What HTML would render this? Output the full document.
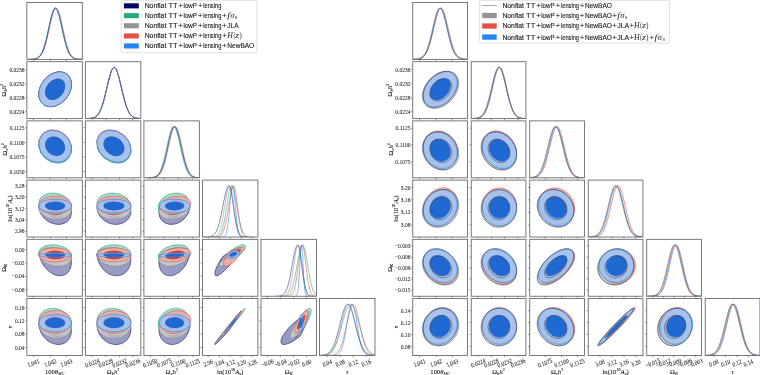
<!DOCTYPE html>
<html><head><meta charset="utf-8"><style>
html,body{margin:0;padding:0;background:#fff;width:760px;height:375px;overflow:hidden}
svg{display:block;will-change:transform}
.tk{font-family:"Liberation Serif",serif;font-size:5.5px;fill:#262626;stroke:#262626;stroke-width:0.06px}
.ax{font-family:"Liberation Serif",serif;font-size:6.6px;fill:#1a1a1a;stroke:#1a1a1a;stroke-width:0.1px}
.lg{font-family:"Liberation Sans",sans-serif;font-size:6.8px;fill:#1a1a1a;stroke:#1a1a1a;stroke-width:0.12px}
.pl{font-family:"Liberation Sans",sans-serif;font-size:7.4px;fill:#1a1a1a}
.mr{font-family:"Liberation Serif",serif;font-size:8px;fill:#1a1a1a}
.sb{font-family:"Liberation Serif",serif;font-size:5px;fill:#1a1a1a}
.mi{font-family:"Liberation Serif",serif;font-style:italic;font-size:8px;fill:#1a1a1a}
</style></head><body>
<svg width="760" height="375" viewBox="0 0 760 375">
<rect width="760" height="375" fill="#fff"/>
<clipPath id="cL10"><rect x="26.86" y="61.67" width="55.45" height="56.93"/></clipPath>
<g clip-path="url(#cL10)">
<g transform="translate(55.14,89.28) rotate(128.3)"><path d="M19.13,0A19.13,14.24 0 1 0 -19.13,0A19.13,14.24 0 1 0 19.13,0ZM11.80,0A11.80,8.78 0 1 0 -11.80,0A11.80,8.78 0 1 0 11.80,0Z" fill="#999cc2" fill-rule="evenodd" fill-opacity="1.0"/><ellipse rx="11.80" ry="8.78" fill="#000866" fill-opacity="1.0"/><ellipse rx="19.13" ry="14.24" fill="none" stroke="#000866" stroke-opacity="1.0" stroke-width="0.55"/></g>
<g transform="translate(55.14,89.28) rotate(128.3)"><path d="M19.13,0A19.13,14.24 0 1 0 -19.13,0A19.13,14.24 0 1 0 19.13,0ZM11.80,0A11.80,8.78 0 1 0 -11.80,0A11.80,8.78 0 1 0 11.80,0Z" fill="#99d6c2" fill-rule="evenodd" fill-opacity="0.85"/><ellipse rx="11.80" ry="8.78" fill="#009966" fill-opacity="0.85"/><ellipse rx="19.13" ry="14.24" fill="none" stroke="#009966" stroke-opacity="0.85" stroke-width="0.55"/></g>
<g transform="translate(55.14,89.28) rotate(128.3)"><path d="M19.13,0A19.13,14.24 0 1 0 -19.13,0A19.13,14.24 0 1 0 19.13,0ZM11.80,0A11.80,8.78 0 1 0 -11.80,0A11.80,8.78 0 1 0 11.80,0Z" fill="#cccccc" fill-rule="evenodd" fill-opacity="0.85"/><ellipse rx="11.80" ry="8.78" fill="#808080" fill-opacity="0.85"/><ellipse rx="19.13" ry="14.24" fill="none" stroke="#808080" stroke-opacity="0.85" stroke-width="0.55"/></g>
<g transform="translate(55.14,89.28) rotate(128.3)"><path d="M19.13,0A19.13,14.24 0 1 0 -19.13,0A19.13,14.24 0 1 0 19.13,0ZM11.80,0A11.80,8.78 0 1 0 -11.80,0A11.80,8.78 0 1 0 11.80,0Z" fill="#f3aea7" fill-rule="evenodd" fill-opacity="0.85"/><ellipse rx="11.80" ry="8.78" fill="#e03424" fill-opacity="0.85"/><ellipse rx="19.13" ry="14.24" fill="none" stroke="#e03424" stroke-opacity="0.85" stroke-width="0.55"/></g>
<g transform="translate(55.14,89.28) rotate(128.3)"><path d="M19.13,0A19.13,14.24 0 1 0 -19.13,0A19.13,14.24 0 1 0 19.13,0ZM11.80,0A11.80,8.78 0 1 0 -11.80,0A11.80,8.78 0 1 0 11.80,0Z" fill="#99c5f8" fill-rule="evenodd" fill-opacity="0.85"/><ellipse rx="11.80" ry="8.78" fill="#006fed" fill-opacity="0.85"/><ellipse rx="19.13" ry="14.24" fill="none" stroke="#006fed" stroke-opacity="0.85" stroke-width="0.55"/></g>
</g>
<clipPath id="cL20"><rect x="26.86" y="120.89" width="55.45" height="56.93"/></clipPath>
<g clip-path="url(#cL20)">
<g transform="translate(55.14,146.51) rotate(-139.7)"><path d="M17.27,0A17.27,14.81 0 1 0 -17.27,0A17.27,14.81 0 1 0 17.27,0ZM10.65,0A10.65,9.14 0 1 0 -10.65,0A10.65,9.14 0 1 0 10.65,0Z" fill="#999cc2" fill-rule="evenodd" fill-opacity="1.0"/><ellipse rx="10.65" ry="9.14" fill="#000866" fill-opacity="1.0"/><ellipse rx="17.27" ry="14.81" fill="none" stroke="#000866" stroke-opacity="1.0" stroke-width="0.55"/></g>
<g transform="translate(55.14,147.36) rotate(-139.7)"><path d="M17.27,0A17.27,14.81 0 1 0 -17.27,0A17.27,14.81 0 1 0 17.27,0ZM10.65,0A10.65,9.14 0 1 0 -10.65,0A10.65,9.14 0 1 0 10.65,0Z" fill="#99d6c2" fill-rule="evenodd" fill-opacity="0.85"/><ellipse rx="10.65" ry="9.14" fill="#009966" fill-opacity="0.85"/><ellipse rx="17.27" ry="14.81" fill="none" stroke="#009966" stroke-opacity="0.85" stroke-width="0.55"/></g>
<g transform="translate(55.14,146.51) rotate(-139.7)"><path d="M17.27,0A17.27,14.81 0 1 0 -17.27,0A17.27,14.81 0 1 0 17.27,0ZM10.65,0A10.65,9.14 0 1 0 -10.65,0A10.65,9.14 0 1 0 10.65,0Z" fill="#cccccc" fill-rule="evenodd" fill-opacity="0.85"/><ellipse rx="10.65" ry="9.14" fill="#808080" fill-opacity="0.85"/><ellipse rx="17.27" ry="14.81" fill="none" stroke="#808080" stroke-opacity="0.85" stroke-width="0.55"/></g>
<g transform="translate(55.14,145.65) rotate(-139.7)"><path d="M17.27,0A17.27,14.81 0 1 0 -17.27,0A17.27,14.81 0 1 0 17.27,0ZM10.65,0A10.65,9.14 0 1 0 -10.65,0A10.65,9.14 0 1 0 10.65,0Z" fill="#f3aea7" fill-rule="evenodd" fill-opacity="0.85"/><ellipse rx="10.65" ry="9.14" fill="#e03424" fill-opacity="0.85"/><ellipse rx="17.27" ry="14.81" fill="none" stroke="#e03424" stroke-opacity="0.85" stroke-width="0.55"/></g>
<g transform="translate(55.14,146.34) rotate(-139.7)"><path d="M17.27,0A17.27,14.81 0 1 0 -17.27,0A17.27,14.81 0 1 0 17.27,0ZM10.65,0A10.65,9.14 0 1 0 -10.65,0A10.65,9.14 0 1 0 10.65,0Z" fill="#99c5f8" fill-rule="evenodd" fill-opacity="0.85"/><ellipse rx="10.65" ry="9.14" fill="#006fed" fill-opacity="0.85"/><ellipse rx="17.27" ry="14.81" fill="none" stroke="#006fed" stroke-opacity="0.85" stroke-width="0.55"/></g>
</g>
<clipPath id="cL21"><rect x="85.39" y="120.89" width="55.45" height="56.93"/></clipPath>
<g clip-path="url(#cL21)">
<g transform="translate(113.95,146.51) rotate(-143.3)"><path d="M18.22,0A18.22,14.43 0 1 0 -18.22,0A18.22,14.43 0 1 0 18.22,0ZM11.24,0A11.24,8.90 0 1 0 -11.24,0A11.24,8.90 0 1 0 11.24,0Z" fill="#999cc2" fill-rule="evenodd" fill-opacity="1.0"/><ellipse rx="11.24" ry="8.90" fill="#000866" fill-opacity="1.0"/><ellipse rx="18.22" ry="14.43" fill="none" stroke="#000866" stroke-opacity="1.0" stroke-width="0.55"/></g>
<g transform="translate(113.95,147.36) rotate(-143.3)"><path d="M18.22,0A18.22,14.43 0 1 0 -18.22,0A18.22,14.43 0 1 0 18.22,0ZM11.24,0A11.24,8.90 0 1 0 -11.24,0A11.24,8.90 0 1 0 11.24,0Z" fill="#99d6c2" fill-rule="evenodd" fill-opacity="0.85"/><ellipse rx="11.24" ry="8.90" fill="#009966" fill-opacity="0.85"/><ellipse rx="18.22" ry="14.43" fill="none" stroke="#009966" stroke-opacity="0.85" stroke-width="0.55"/></g>
<g transform="translate(113.95,146.51) rotate(-143.3)"><path d="M18.22,0A18.22,14.43 0 1 0 -18.22,0A18.22,14.43 0 1 0 18.22,0ZM11.24,0A11.24,8.90 0 1 0 -11.24,0A11.24,8.90 0 1 0 11.24,0Z" fill="#cccccc" fill-rule="evenodd" fill-opacity="0.85"/><ellipse rx="11.24" ry="8.90" fill="#808080" fill-opacity="0.85"/><ellipse rx="18.22" ry="14.43" fill="none" stroke="#808080" stroke-opacity="0.85" stroke-width="0.55"/></g>
<g transform="translate(113.95,145.65) rotate(-143.3)"><path d="M18.22,0A18.22,14.43 0 1 0 -18.22,0A18.22,14.43 0 1 0 18.22,0ZM11.24,0A11.24,8.90 0 1 0 -11.24,0A11.24,8.90 0 1 0 11.24,0Z" fill="#f3aea7" fill-rule="evenodd" fill-opacity="0.85"/><ellipse rx="11.24" ry="8.90" fill="#e03424" fill-opacity="0.85"/><ellipse rx="18.22" ry="14.43" fill="none" stroke="#e03424" stroke-opacity="0.85" stroke-width="0.55"/></g>
<g transform="translate(113.95,146.34) rotate(-143.3)"><path d="M18.22,0A18.22,14.43 0 1 0 -18.22,0A18.22,14.43 0 1 0 18.22,0ZM11.24,0A11.24,8.90 0 1 0 -11.24,0A11.24,8.90 0 1 0 11.24,0Z" fill="#99c5f8" fill-rule="evenodd" fill-opacity="0.85"/><ellipse rx="11.24" ry="8.90" fill="#006fed" fill-opacity="0.85"/><ellipse rx="18.22" ry="14.43" fill="none" stroke="#006fed" stroke-opacity="0.85" stroke-width="0.55"/></g>
</g>
<clipPath id="cL30"><rect x="26.86" y="180.11" width="55.45" height="56.93"/></clipPath>
<g clip-path="url(#cL30)">
<path d="M71.4,212.2 71.3,210.5 71.0,208.9 70.5,207.5 69.8,206.2 68.9,204.9 67.9,203.7 66.7,202.6 65.3,201.5 63.8,200.5 62.2,199.6 60.5,198.9 58.8,198.3 57.0,197.8 55.1,197.4 53.3,197.2 51.5,197.2 49.8,197.3 48.1,197.6 46.5,198.0 45.0,198.5 43.6,199.2 42.4,200.0 41.3,200.9 40.5,201.9 39.8,203.0 39.3,204.2 39.0,205.5 38.9,206.8 39.0,208.1 39.3,209.5 39.8,211.2 40.5,212.9 41.3,214.5 42.4,216.1 43.6,217.6 45.0,218.9 46.5,220.2 48.1,221.3 49.8,222.2 51.5,223.0 53.3,223.7 55.1,224.1 57.0,224.3 58.8,224.4 60.5,224.3 62.2,223.9 63.8,223.4 65.3,222.7 66.7,221.9 67.9,220.9 68.9,219.7 69.8,218.4 70.5,217.0 71.0,215.4 71.3,213.9ZM65.2,211.0 65.1,209.7 64.8,208.5 64.3,207.5 63.6,206.5 62.7,205.5 61.7,204.7 60.6,203.9 59.3,203.2 58.0,202.6 56.6,202.2 55.1,201.9 53.7,201.8 52.3,201.8 51.0,202.0 49.7,202.3 48.6,202.7 47.5,203.3 46.7,204.0 46.0,204.8 45.5,205.7 45.2,206.7 45.1,207.7 45.2,208.7 45.5,209.9 46.0,211.3 46.7,212.5 47.5,213.8 48.6,214.9 49.7,215.9 51.0,216.7 52.3,217.5 53.7,218.0 55.1,218.4 56.6,218.5 58.0,218.5 59.3,218.3 60.6,217.9 61.7,217.3 62.7,216.6 63.6,215.7 64.3,214.7 64.8,213.5 65.1,212.3Z" fill="#999cc2" fill-rule="evenodd" fill-opacity="1.0"/><path d="M65.2,211.0 65.1,209.7 64.8,208.5 64.3,207.5 63.6,206.5 62.7,205.5 61.7,204.7 60.6,203.9 59.3,203.2 58.0,202.6 56.6,202.2 55.1,201.9 53.7,201.8 52.3,201.8 51.0,202.0 49.7,202.3 48.6,202.7 47.5,203.3 46.7,204.0 46.0,204.8 45.5,205.7 45.2,206.7 45.1,207.7 45.2,208.7 45.5,209.9 46.0,211.3 46.7,212.5 47.5,213.8 48.6,214.9 49.7,215.9 51.0,216.7 52.3,217.5 53.7,218.0 55.1,218.4 56.6,218.5 58.0,218.5 59.3,218.3 60.6,217.9 61.7,217.3 62.7,216.6 63.6,215.7 64.3,214.7 64.8,213.5 65.1,212.3Z" fill="#000866" fill-opacity="1.0"/><path d="M71.4,212.2 71.3,210.5 71.0,208.9 70.5,207.5 69.8,206.2 68.9,204.9 67.9,203.7 66.7,202.6 65.3,201.5 63.8,200.5 62.2,199.6 60.5,198.9 58.8,198.3 57.0,197.8 55.1,197.4 53.3,197.2 51.5,197.2 49.8,197.3 48.1,197.6 46.5,198.0 45.0,198.5 43.6,199.2 42.4,200.0 41.3,200.9 40.5,201.9 39.8,203.0 39.3,204.2 39.0,205.5 38.9,206.8 39.0,208.1 39.3,209.5 39.8,211.2 40.5,212.9 41.3,214.5 42.4,216.1 43.6,217.6 45.0,218.9 46.5,220.2 48.1,221.3 49.8,222.2 51.5,223.0 53.3,223.7 55.1,224.1 57.0,224.3 58.8,224.4 60.5,224.3 62.2,223.9 63.8,223.4 65.3,222.7 66.7,221.9 67.9,220.9 68.9,219.7 69.8,218.4 70.5,217.0 71.0,215.4 71.3,213.9Z" fill="none" stroke="#000866" stroke-opacity="1.0" stroke-width="0.55"/>
<g transform="translate(55.14,204.87) rotate(-167.4)"><path d="M16.49,0A16.49,11.62 0 1 0 -16.49,0A16.49,11.62 0 1 0 16.49,0ZM10.17,0A10.17,7.17 0 1 0 -10.17,0A10.17,7.17 0 1 0 10.17,0Z" fill="#99d6c2" fill-rule="evenodd" fill-opacity="0.85"/><ellipse rx="10.17" ry="7.17" fill="#009966" fill-opacity="0.85"/><ellipse rx="16.49" ry="11.62" fill="none" stroke="#009966" stroke-opacity="0.85" stroke-width="0.55"/></g>
<g transform="translate(55.14,208.57) rotate(-173.3)"><path d="M16.35,0A16.35,10.72 0 1 0 -16.35,0A16.35,10.72 0 1 0 16.35,0ZM10.08,0A10.08,6.61 0 1 0 -10.08,0A10.08,6.61 0 1 0 10.08,0Z" fill="#cccccc" fill-rule="evenodd" fill-opacity="0.85"/><ellipse rx="10.08" ry="6.61" fill="#808080" fill-opacity="0.85"/><ellipse rx="16.35" ry="10.72" fill="none" stroke="#808080" stroke-opacity="0.85" stroke-width="0.55"/></g>
<path d="M71.4,205.2 71.3,204.1 71.0,203.1 70.5,202.2 69.8,201.2 68.9,200.3 67.9,199.5 66.7,198.8 65.3,198.1 63.8,197.5 62.2,197.0 60.5,196.6 58.8,196.3 57.0,196.2 55.1,196.1 53.3,196.2 51.5,196.3 49.8,196.6 48.1,197.0 46.5,197.5 45.0,198.1 43.6,198.8 42.4,199.5 41.3,200.3 40.5,201.2 39.8,202.2 39.3,203.1 39.0,204.1 38.9,205.2 39.0,206.2 39.3,207.2 39.8,208.2 40.5,209.1 41.3,210.0 42.4,210.8 43.6,211.6 45.0,212.3 46.5,212.9 48.1,213.4 49.8,213.8 51.5,214.0 53.3,214.2 55.1,214.3 57.0,214.2 58.8,214.0 60.5,213.8 62.2,213.4 63.8,212.9 65.3,212.3 66.7,211.6 67.9,210.8 68.9,210.0 69.8,209.1 70.5,208.2 71.0,207.2 71.3,206.2ZM65.2,205.2 65.1,204.4 64.8,203.6 64.3,202.8 63.6,202.1 62.7,201.5 61.7,200.9 60.6,200.5 59.3,200.1 58.0,199.8 56.6,199.6 55.1,199.6 53.7,199.6 52.3,199.8 51.0,200.1 49.7,200.5 48.6,200.9 47.5,201.5 46.7,202.1 46.0,202.8 45.5,203.6 45.2,204.4 45.1,205.2 45.2,206.0 45.5,206.7 46.0,207.5 46.7,208.2 47.5,208.8 48.6,209.4 49.7,209.9 51.0,210.3 52.3,210.5 53.7,210.7 55.1,210.8 56.6,210.7 58.0,210.5 59.3,210.3 60.6,209.9 61.7,209.4 62.7,208.8 63.6,208.2 64.3,207.5 64.8,206.7 65.1,206.0Z" fill="#f3aea7" fill-rule="evenodd" fill-opacity="0.85"/><path d="M65.2,205.2 65.1,204.4 64.8,203.6 64.3,202.8 63.6,202.1 62.7,201.5 61.7,200.9 60.6,200.5 59.3,200.1 58.0,199.8 56.6,199.6 55.1,199.6 53.7,199.6 52.3,199.8 51.0,200.1 49.7,200.5 48.6,200.9 47.5,201.5 46.7,202.1 46.0,202.8 45.5,203.6 45.2,204.4 45.1,205.2 45.2,206.0 45.5,206.7 46.0,207.5 46.7,208.2 47.5,208.8 48.6,209.4 49.7,209.9 51.0,210.3 52.3,210.5 53.7,210.7 55.1,210.8 56.6,210.7 58.0,210.5 59.3,210.3 60.6,209.9 61.7,209.4 62.7,208.8 63.6,208.2 64.3,207.5 64.8,206.7 65.1,206.0Z" fill="#e03424" fill-opacity="0.85"/><path d="M71.4,205.2 71.3,204.1 71.0,203.1 70.5,202.2 69.8,201.2 68.9,200.3 67.9,199.5 66.7,198.8 65.3,198.1 63.8,197.5 62.2,197.0 60.5,196.6 58.8,196.3 57.0,196.2 55.1,196.1 53.3,196.2 51.5,196.3 49.8,196.6 48.1,197.0 46.5,197.5 45.0,198.1 43.6,198.8 42.4,199.5 41.3,200.3 40.5,201.2 39.8,202.2 39.3,203.1 39.0,204.1 38.9,205.2 39.0,206.2 39.3,207.2 39.8,208.2 40.5,209.1 41.3,210.0 42.4,210.8 43.6,211.6 45.0,212.3 46.5,212.9 48.1,213.4 49.8,213.8 51.5,214.0 53.3,214.2 55.1,214.3 57.0,214.2 58.8,214.0 60.5,213.8 62.2,213.4 63.8,212.9 65.3,212.3 66.7,211.6 67.9,210.8 68.9,210.0 69.8,209.1 70.5,208.2 71.0,207.2 71.3,206.2Z" fill="none" stroke="#e03424" stroke-opacity="0.85" stroke-width="0.55"/>
<path d="M71.4,206.0 71.3,205.2 71.0,204.4 70.5,203.7 69.8,203.0 68.9,202.3 67.9,201.7 66.7,201.1 65.3,200.6 63.8,200.2 62.2,199.8 60.5,199.5 58.8,199.3 57.0,199.2 55.1,199.1 53.3,199.2 51.5,199.3 49.8,199.5 48.1,199.8 46.5,200.2 45.0,200.6 43.6,201.1 42.4,201.7 41.3,202.3 40.5,203.0 39.8,203.7 39.3,204.4 39.0,205.2 38.9,206.0 39.0,206.7 39.3,207.5 39.8,208.2 40.5,208.9 41.3,209.6 42.4,210.2 43.6,210.8 45.0,211.3 46.5,211.7 48.1,212.1 49.8,212.4 51.5,212.6 53.3,212.7 55.1,212.8 57.0,212.7 58.8,212.6 60.5,212.4 62.2,212.1 63.8,211.7 65.3,211.3 66.7,210.8 67.9,210.2 68.9,209.6 69.8,208.9 70.5,208.2 71.0,207.5 71.3,206.7ZM65.2,206.0 65.1,205.3 64.8,204.8 64.3,204.2 63.6,203.6 62.7,203.2 61.7,202.7 60.6,202.4 59.3,202.1 58.0,201.9 56.6,201.7 55.1,201.7 53.7,201.7 52.3,201.9 51.0,202.1 49.7,202.4 48.6,202.7 47.5,203.2 46.7,203.6 46.0,204.2 45.5,204.8 45.2,205.3 45.1,206.0 45.2,206.6 45.5,207.2 46.0,207.8 46.7,208.3 47.5,208.8 48.6,209.2 49.7,209.6 51.0,209.9 52.3,210.1 53.7,210.2 55.1,210.3 56.6,210.2 58.0,210.1 59.3,209.9 60.6,209.6 61.7,209.2 62.7,208.8 63.6,208.3 64.3,207.8 64.8,207.2 65.1,206.6Z" fill="#99c5f8" fill-rule="evenodd" fill-opacity="0.85"/><path d="M65.2,206.0 65.1,205.3 64.8,204.8 64.3,204.2 63.6,203.6 62.7,203.2 61.7,202.7 60.6,202.4 59.3,202.1 58.0,201.9 56.6,201.7 55.1,201.7 53.7,201.7 52.3,201.9 51.0,202.1 49.7,202.4 48.6,202.7 47.5,203.2 46.7,203.6 46.0,204.2 45.5,204.8 45.2,205.3 45.1,206.0 45.2,206.6 45.5,207.2 46.0,207.8 46.7,208.3 47.5,208.8 48.6,209.2 49.7,209.6 51.0,209.9 52.3,210.1 53.7,210.2 55.1,210.3 56.6,210.2 58.0,210.1 59.3,209.9 60.6,209.6 61.7,209.2 62.7,208.8 63.6,208.3 64.3,207.8 64.8,207.2 65.1,206.6Z" fill="#006fed" fill-opacity="0.85"/><path d="M71.4,206.0 71.3,205.2 71.0,204.4 70.5,203.7 69.8,203.0 68.9,202.3 67.9,201.7 66.7,201.1 65.3,200.6 63.8,200.2 62.2,199.8 60.5,199.5 58.8,199.3 57.0,199.2 55.1,199.1 53.3,199.2 51.5,199.3 49.8,199.5 48.1,199.8 46.5,200.2 45.0,200.6 43.6,201.1 42.4,201.7 41.3,202.3 40.5,203.0 39.8,203.7 39.3,204.4 39.0,205.2 38.9,206.0 39.0,206.7 39.3,207.5 39.8,208.2 40.5,208.9 41.3,209.6 42.4,210.2 43.6,210.8 45.0,211.3 46.5,211.7 48.1,212.1 49.8,212.4 51.5,212.6 53.3,212.7 55.1,212.8 57.0,212.7 58.8,212.6 60.5,212.4 62.2,212.1 63.8,211.7 65.3,211.3 66.7,210.8 67.9,210.2 68.9,209.6 69.8,208.9 70.5,208.2 71.0,207.5 71.3,206.7Z" fill="none" stroke="#006fed" stroke-opacity="0.85" stroke-width="0.55"/>
</g>
<clipPath id="cL31"><rect x="85.39" y="180.11" width="55.45" height="56.93"/></clipPath>
<g clip-path="url(#cL31)">
<path d="M130.9,211.0 130.8,209.3 130.5,207.9 130.0,206.6 129.2,205.3 128.3,204.0 127.2,202.9 125.9,201.8 124.5,200.8 123.0,199.9 121.3,199.1 119.6,198.4 117.7,197.9 115.8,197.5 113.9,197.3 112.0,197.2 110.2,197.3 108.3,197.5 106.6,197.8 104.9,198.3 103.4,199.0 102.0,199.7 100.7,200.6 99.6,201.6 98.7,202.7 97.9,203.9 97.4,205.1 97.1,206.4 97.0,207.7 97.1,209.0 97.4,210.7 97.9,212.4 98.7,214.1 99.6,215.7 100.7,217.2 102.0,218.6 103.4,219.8 104.9,221.0 106.6,222.0 108.3,222.8 110.2,223.5 112.0,224.0 113.9,224.3 115.8,224.4 117.7,224.3 119.6,224.0 121.3,223.6 123.0,222.9 124.5,222.1 125.9,221.1 127.2,220.0 128.3,218.8 129.2,217.4 130.0,215.9 130.5,214.3 130.8,212.7ZM124.4,210.3 124.3,209.0 124.0,207.9 123.5,206.9 122.7,205.9 121.9,205.0 120.8,204.2 119.6,203.5 118.3,202.9 116.9,202.4 115.4,202.0 113.9,201.8 112.5,201.8 111.0,201.9 109.6,202.1 108.3,202.5 107.1,203.0 106.0,203.7 105.1,204.4 104.4,205.3 103.9,206.2 103.6,207.2 103.5,208.3 103.6,209.4 103.9,210.7 104.4,212.0 105.1,213.2 106.0,214.4 107.1,215.5 108.3,216.4 109.6,217.2 111.0,217.8 112.5,218.2 113.9,218.5 115.4,218.6 116.9,218.4 118.3,218.1 119.6,217.6 120.8,216.9 121.9,216.1 122.7,215.1 123.5,214.1 124.0,212.9 124.3,211.6Z" fill="#999cc2" fill-rule="evenodd" fill-opacity="1.0"/><path d="M124.4,210.3 124.3,209.0 124.0,207.9 123.5,206.9 122.7,205.9 121.9,205.0 120.8,204.2 119.6,203.5 118.3,202.9 116.9,202.4 115.4,202.0 113.9,201.8 112.5,201.8 111.0,201.9 109.6,202.1 108.3,202.5 107.1,203.0 106.0,203.7 105.1,204.4 104.4,205.3 103.9,206.2 103.6,207.2 103.5,208.3 103.6,209.4 103.9,210.7 104.4,212.0 105.1,213.2 106.0,214.4 107.1,215.5 108.3,216.4 109.6,217.2 111.0,217.8 112.5,218.2 113.9,218.5 115.4,218.6 116.9,218.4 118.3,218.1 119.6,217.6 120.8,216.9 121.9,216.1 122.7,215.1 123.5,214.1 124.0,212.9 124.3,211.6Z" fill="#000866" fill-opacity="1.0"/><path d="M130.9,211.0 130.8,209.3 130.5,207.9 130.0,206.6 129.2,205.3 128.3,204.0 127.2,202.9 125.9,201.8 124.5,200.8 123.0,199.9 121.3,199.1 119.6,198.4 117.7,197.9 115.8,197.5 113.9,197.3 112.0,197.2 110.2,197.3 108.3,197.5 106.6,197.8 104.9,198.3 103.4,199.0 102.0,199.7 100.7,200.6 99.6,201.6 98.7,202.7 97.9,203.9 97.4,205.1 97.1,206.4 97.0,207.7 97.1,209.0 97.4,210.7 97.9,212.4 98.7,214.1 99.6,215.7 100.7,217.2 102.0,218.6 103.4,219.8 104.9,221.0 106.6,222.0 108.3,222.8 110.2,223.5 112.0,224.0 113.9,224.3 115.8,224.4 117.7,224.3 119.6,224.0 121.3,223.6 123.0,222.9 124.5,222.1 125.9,221.1 127.2,220.0 128.3,218.8 129.2,217.4 130.0,215.9 130.5,214.3 130.8,212.7Z" fill="none" stroke="#000866" stroke-opacity="1.0" stroke-width="0.55"/>
<g transform="translate(113.95,204.87) rotate(-172.3)"><path d="M17.05,0A17.05,11.78 0 1 0 -17.05,0A17.05,11.78 0 1 0 17.05,0ZM10.51,0A10.51,7.27 0 1 0 -10.51,0A10.51,7.27 0 1 0 10.51,0Z" fill="#99d6c2" fill-rule="evenodd" fill-opacity="0.85"/><ellipse rx="10.51" ry="7.27" fill="#009966" fill-opacity="0.85"/><ellipse rx="17.05" ry="11.78" fill="none" stroke="#009966" stroke-opacity="0.85" stroke-width="0.55"/></g>
<g transform="translate(113.95,208.57) rotate(0.0)"><path d="M16.97,0A16.97,10.82 0 1 0 -16.97,0A16.97,10.82 0 1 0 16.97,0ZM10.46,0A10.46,6.67 0 1 0 -10.46,0A10.46,6.67 0 1 0 10.46,0Z" fill="#cccccc" fill-rule="evenodd" fill-opacity="0.85"/><ellipse rx="10.46" ry="6.67" fill="#808080" fill-opacity="0.85"/><ellipse rx="16.97" ry="10.82" fill="none" stroke="#808080" stroke-opacity="0.85" stroke-width="0.55"/></g>
<path d="M130.9,205.2 130.8,204.1 130.5,203.1 130.0,202.2 129.2,201.2 128.3,200.3 127.2,199.5 125.9,198.8 124.5,198.1 123.0,197.5 121.3,197.0 119.6,196.6 117.7,196.3 115.8,196.2 113.9,196.1 112.0,196.2 110.2,196.3 108.3,196.6 106.6,197.0 104.9,197.5 103.4,198.1 102.0,198.8 100.7,199.5 99.6,200.3 98.7,201.2 97.9,202.2 97.4,203.1 97.1,204.1 97.0,205.2 97.1,206.2 97.4,207.2 97.9,208.2 98.7,209.1 99.6,210.0 100.7,210.8 102.0,211.6 103.4,212.3 104.9,212.9 106.6,213.4 108.3,213.8 110.2,214.0 112.0,214.2 113.9,214.3 115.8,214.2 117.7,214.0 119.6,213.8 121.3,213.4 123.0,212.9 124.5,212.3 125.9,211.6 127.2,210.8 128.3,210.0 129.2,209.1 130.0,208.2 130.5,207.2 130.8,206.2ZM124.4,205.2 124.3,204.4 124.0,203.6 123.5,202.8 122.7,202.1 121.9,201.5 120.8,200.9 119.6,200.5 118.3,200.1 116.9,199.8 115.4,199.6 113.9,199.6 112.5,199.6 111.0,199.8 109.6,200.1 108.3,200.5 107.1,200.9 106.0,201.5 105.1,202.1 104.4,202.8 103.9,203.6 103.6,204.4 103.5,205.2 103.6,206.0 103.9,206.7 104.4,207.5 105.1,208.2 106.0,208.8 107.1,209.4 108.3,209.9 109.6,210.3 111.0,210.5 112.5,210.7 113.9,210.8 115.4,210.7 116.9,210.5 118.3,210.3 119.6,209.9 120.8,209.4 121.9,208.8 122.7,208.2 123.5,207.5 124.0,206.7 124.3,206.0Z" fill="#f3aea7" fill-rule="evenodd" fill-opacity="0.85"/><path d="M124.4,205.2 124.3,204.4 124.0,203.6 123.5,202.8 122.7,202.1 121.9,201.5 120.8,200.9 119.6,200.5 118.3,200.1 116.9,199.8 115.4,199.6 113.9,199.6 112.5,199.6 111.0,199.8 109.6,200.1 108.3,200.5 107.1,200.9 106.0,201.5 105.1,202.1 104.4,202.8 103.9,203.6 103.6,204.4 103.5,205.2 103.6,206.0 103.9,206.7 104.4,207.5 105.1,208.2 106.0,208.8 107.1,209.4 108.3,209.9 109.6,210.3 111.0,210.5 112.5,210.7 113.9,210.8 115.4,210.7 116.9,210.5 118.3,210.3 119.6,209.9 120.8,209.4 121.9,208.8 122.7,208.2 123.5,207.5 124.0,206.7 124.3,206.0Z" fill="#e03424" fill-opacity="0.85"/><path d="M130.9,205.2 130.8,204.1 130.5,203.1 130.0,202.2 129.2,201.2 128.3,200.3 127.2,199.5 125.9,198.8 124.5,198.1 123.0,197.5 121.3,197.0 119.6,196.6 117.7,196.3 115.8,196.2 113.9,196.1 112.0,196.2 110.2,196.3 108.3,196.6 106.6,197.0 104.9,197.5 103.4,198.1 102.0,198.8 100.7,199.5 99.6,200.3 98.7,201.2 97.9,202.2 97.4,203.1 97.1,204.1 97.0,205.2 97.1,206.2 97.4,207.2 97.9,208.2 98.7,209.1 99.6,210.0 100.7,210.8 102.0,211.6 103.4,212.3 104.9,212.9 106.6,213.4 108.3,213.8 110.2,214.0 112.0,214.2 113.9,214.3 115.8,214.2 117.7,214.0 119.6,213.8 121.3,213.4 123.0,212.9 124.5,212.3 125.9,211.6 127.2,210.8 128.3,210.0 129.2,209.1 130.0,208.2 130.5,207.2 130.8,206.2Z" fill="none" stroke="#e03424" stroke-opacity="0.85" stroke-width="0.55"/>
<path d="M130.9,206.0 130.8,205.2 130.5,204.4 130.0,203.7 129.2,203.0 128.3,202.3 127.2,201.7 125.9,201.1 124.5,200.6 123.0,200.2 121.3,199.8 119.6,199.5 117.7,199.3 115.8,199.2 113.9,199.1 112.0,199.2 110.2,199.3 108.3,199.5 106.6,199.8 104.9,200.2 103.4,200.6 102.0,201.1 100.7,201.7 99.6,202.3 98.7,203.0 97.9,203.7 97.4,204.4 97.1,205.2 97.0,206.0 97.1,206.7 97.4,207.5 97.9,208.2 98.7,208.9 99.6,209.6 100.7,210.2 102.0,210.8 103.4,211.3 104.9,211.7 106.6,212.1 108.3,212.4 110.2,212.6 112.0,212.7 113.9,212.8 115.8,212.7 117.7,212.6 119.6,212.4 121.3,212.1 123.0,211.7 124.5,211.3 125.9,210.8 127.2,210.2 128.3,209.6 129.2,208.9 130.0,208.2 130.5,207.5 130.8,206.7ZM124.4,206.0 124.3,205.3 124.0,204.8 123.5,204.2 122.7,203.6 121.9,203.2 120.8,202.7 119.6,202.4 118.3,202.1 116.9,201.9 115.4,201.7 113.9,201.7 112.5,201.7 111.0,201.9 109.6,202.1 108.3,202.4 107.1,202.7 106.0,203.2 105.1,203.6 104.4,204.2 103.9,204.8 103.6,205.3 103.5,206.0 103.6,206.6 103.9,207.2 104.4,207.8 105.1,208.3 106.0,208.8 107.1,209.2 108.3,209.6 109.6,209.9 111.0,210.1 112.5,210.2 113.9,210.3 115.4,210.2 116.9,210.1 118.3,209.9 119.6,209.6 120.8,209.2 121.9,208.8 122.7,208.3 123.5,207.8 124.0,207.2 124.3,206.6Z" fill="#99c5f8" fill-rule="evenodd" fill-opacity="0.85"/><path d="M124.4,206.0 124.3,205.3 124.0,204.8 123.5,204.2 122.7,203.6 121.9,203.2 120.8,202.7 119.6,202.4 118.3,202.1 116.9,201.9 115.4,201.7 113.9,201.7 112.5,201.7 111.0,201.9 109.6,202.1 108.3,202.4 107.1,202.7 106.0,203.2 105.1,203.6 104.4,204.2 103.9,204.8 103.6,205.3 103.5,206.0 103.6,206.6 103.9,207.2 104.4,207.8 105.1,208.3 106.0,208.8 107.1,209.2 108.3,209.6 109.6,209.9 111.0,210.1 112.5,210.2 113.9,210.3 115.4,210.2 116.9,210.1 118.3,209.9 119.6,209.6 120.8,209.2 121.9,208.8 122.7,208.3 123.5,207.8 124.0,207.2 124.3,206.6Z" fill="#006fed" fill-opacity="0.85"/><path d="M130.9,206.0 130.8,205.2 130.5,204.4 130.0,203.7 129.2,203.0 128.3,202.3 127.2,201.7 125.9,201.1 124.5,200.6 123.0,200.2 121.3,199.8 119.6,199.5 117.7,199.3 115.8,199.2 113.9,199.1 112.0,199.2 110.2,199.3 108.3,199.5 106.6,199.8 104.9,200.2 103.4,200.6 102.0,201.1 100.7,201.7 99.6,202.3 98.7,203.0 97.9,203.7 97.4,204.4 97.1,205.2 97.0,206.0 97.1,206.7 97.4,207.5 97.9,208.2 98.7,208.9 99.6,209.6 100.7,210.2 102.0,210.8 103.4,211.3 104.9,211.7 106.6,212.1 108.3,212.4 110.2,212.6 112.0,212.7 113.9,212.8 115.8,212.7 117.7,212.6 119.6,212.4 121.3,212.1 123.0,211.7 124.5,211.3 125.9,210.8 127.2,210.2 128.3,209.6 129.2,208.9 130.0,208.2 130.5,207.5 130.8,206.7Z" fill="none" stroke="#006fed" stroke-opacity="0.85" stroke-width="0.55"/>
</g>
<clipPath id="cL32"><rect x="143.92" y="180.11" width="55.45" height="56.93"/></clipPath>
<g clip-path="url(#cL32)">
<path d="M189.9,206.8 189.8,205.5 189.5,204.2 189.0,203.0 188.4,201.9 187.5,200.9 186.5,200.0 185.4,199.2 184.1,198.5 182.6,198.0 181.1,197.6 179.5,197.3 177.9,197.2 176.1,197.2 174.4,197.4 172.7,197.8 171.0,198.3 169.3,198.9 167.7,199.6 166.2,200.5 164.8,201.5 163.5,202.6 162.3,203.7 161.3,204.9 160.5,206.2 159.8,207.5 159.3,208.9 159.0,210.5 158.9,212.2 159.0,213.9 159.3,215.4 159.8,217.0 160.5,218.4 161.3,219.7 162.3,220.9 163.5,221.9 164.8,222.7 166.2,223.4 167.7,223.9 169.3,224.3 171.0,224.4 172.7,224.3 174.4,224.1 176.1,223.7 177.9,223.0 179.5,222.2 181.1,221.3 182.6,220.2 184.1,218.9 185.4,217.6 186.5,216.1 187.5,214.5 188.4,212.9 189.0,211.2 189.5,209.5 189.8,208.1ZM184.0,207.7 183.9,206.7 183.6,205.7 183.1,204.8 182.4,204.0 181.6,203.3 180.7,202.7 179.6,202.3 178.4,202.0 177.1,201.8 175.8,201.8 174.4,201.9 173.1,202.2 171.7,202.6 170.5,203.2 169.3,203.9 168.2,204.7 167.2,205.5 166.4,206.5 165.7,207.5 165.3,208.5 165.0,209.7 164.9,211.0 165.0,212.3 165.3,213.5 165.7,214.7 166.4,215.7 167.2,216.6 168.2,217.3 169.3,217.9 170.5,218.3 171.7,218.5 173.1,218.5 174.4,218.4 175.8,218.0 177.1,217.5 178.4,216.7 179.6,215.9 180.7,214.9 181.6,213.8 182.4,212.5 183.1,211.3 183.6,209.9 183.9,208.7Z" fill="#999cc2" fill-rule="evenodd" fill-opacity="1.0"/><path d="M184.0,207.7 183.9,206.7 183.6,205.7 183.1,204.8 182.4,204.0 181.6,203.3 180.7,202.7 179.6,202.3 178.4,202.0 177.1,201.8 175.8,201.8 174.4,201.9 173.1,202.2 171.7,202.6 170.5,203.2 169.3,203.9 168.2,204.7 167.2,205.5 166.4,206.5 165.7,207.5 165.3,208.5 165.0,209.7 164.9,211.0 165.0,212.3 165.3,213.5 165.7,214.7 166.4,215.7 167.2,216.6 168.2,217.3 169.3,217.9 170.5,218.3 171.7,218.5 173.1,218.5 174.4,218.4 175.8,218.0 177.1,217.5 178.4,216.7 179.6,215.9 180.7,214.9 181.6,213.8 182.4,212.5 183.1,211.3 183.6,209.9 183.9,208.7Z" fill="#000866" fill-opacity="1.0"/><path d="M189.9,206.8 189.8,205.5 189.5,204.2 189.0,203.0 188.4,201.9 187.5,200.9 186.5,200.0 185.4,199.2 184.1,198.5 182.6,198.0 181.1,197.6 179.5,197.3 177.9,197.2 176.1,197.2 174.4,197.4 172.7,197.8 171.0,198.3 169.3,198.9 167.7,199.6 166.2,200.5 164.8,201.5 163.5,202.6 162.3,203.7 161.3,204.9 160.5,206.2 159.8,207.5 159.3,208.9 159.0,210.5 158.9,212.2 159.0,213.9 159.3,215.4 159.8,217.0 160.5,218.4 161.3,219.7 162.3,220.9 163.5,221.9 164.8,222.7 166.2,223.4 167.7,223.9 169.3,224.3 171.0,224.4 172.7,224.3 174.4,224.1 176.1,223.7 177.9,223.0 179.5,222.2 181.1,221.3 182.6,220.2 184.1,218.9 185.4,217.6 186.5,216.1 187.5,214.5 188.4,212.9 189.0,211.2 189.5,209.5 189.8,208.1Z" fill="none" stroke="#000866" stroke-opacity="1.0" stroke-width="0.55"/>
<g transform="translate(173.59,204.87) rotate(161.5)"><path d="M15.87,0A15.87,11.37 0 1 0 -15.87,0A15.87,11.37 0 1 0 15.87,0ZM9.78,0A9.78,7.01 0 1 0 -9.78,0A9.78,7.01 0 1 0 9.78,0Z" fill="#99d6c2" fill-rule="evenodd" fill-opacity="0.85"/><ellipse rx="9.78" ry="7.01" fill="#009966" fill-opacity="0.85"/><ellipse rx="15.87" ry="11.37" fill="none" stroke="#009966" stroke-opacity="0.85" stroke-width="0.55"/></g>
<g transform="translate(174.42,208.57) rotate(165.7)"><path d="M15.75,0A15.75,10.41 0 1 0 -15.75,0A15.75,10.41 0 1 0 15.75,0ZM9.71,0A9.71,6.42 0 1 0 -9.71,0A9.71,6.42 0 1 0 9.71,0Z" fill="#cccccc" fill-rule="evenodd" fill-opacity="0.85"/><ellipse rx="9.71" ry="6.42" fill="#808080" fill-opacity="0.85"/><ellipse rx="15.75" ry="10.41" fill="none" stroke="#808080" stroke-opacity="0.85" stroke-width="0.55"/></g>
<path d="M190.7,203.3 190.6,202.4 190.3,201.4 189.9,200.5 189.2,199.7 188.4,198.9 187.3,198.2 186.2,197.6 184.9,197.1 183.5,196.7 182.0,196.4 180.4,196.2 178.7,196.1 177.0,196.1 175.2,196.3 173.5,196.5 171.8,196.9 170.1,197.4 168.5,198.0 167.0,198.6 165.6,199.4 164.3,200.2 163.2,201.0 162.1,202.0 161.3,202.9 160.6,203.9 160.2,205.0 159.9,206.0 159.8,207.0 159.9,208.0 160.2,208.9 160.6,209.8 161.3,210.7 162.1,211.4 163.2,212.1 164.3,212.8 165.6,213.3 167.0,213.7 168.5,214.0 170.1,214.2 171.8,214.3 173.5,214.2 175.2,214.1 177.0,213.8 178.7,213.5 180.4,213.0 182.0,212.4 183.5,211.7 184.9,211.0 186.2,210.2 187.3,209.3 188.4,208.4 189.2,207.4 189.9,206.4 190.3,205.4 190.6,204.4ZM184.8,204.0 184.7,203.3 184.4,202.5 183.9,201.9 183.3,201.3 182.5,200.7 181.5,200.3 180.4,200.0 179.2,199.7 177.9,199.6 176.6,199.6 175.2,199.7 173.9,199.9 172.6,200.2 171.3,200.6 170.1,201.2 169.0,201.8 168.0,202.4 167.2,203.1 166.6,203.9 166.1,204.7 165.8,205.5 165.7,206.3 165.8,207.1 166.1,207.8 166.6,208.5 167.2,209.1 168.0,209.6 169.0,210.1 170.1,210.4 171.3,210.6 172.6,210.8 173.9,210.8 175.2,210.7 176.6,210.4 177.9,210.1 179.2,209.7 180.4,209.2 181.5,208.6 182.5,207.9 183.3,207.2 183.9,206.4 184.4,205.6 184.7,204.8Z" fill="#f3aea7" fill-rule="evenodd" fill-opacity="0.85"/><path d="M184.8,204.0 184.7,203.3 184.4,202.5 183.9,201.9 183.3,201.3 182.5,200.7 181.5,200.3 180.4,200.0 179.2,199.7 177.9,199.6 176.6,199.6 175.2,199.7 173.9,199.9 172.6,200.2 171.3,200.6 170.1,201.2 169.0,201.8 168.0,202.4 167.2,203.1 166.6,203.9 166.1,204.7 165.8,205.5 165.7,206.3 165.8,207.1 166.1,207.8 166.6,208.5 167.2,209.1 168.0,209.6 169.0,210.1 170.1,210.4 171.3,210.6 172.6,210.8 173.9,210.8 175.2,210.7 176.6,210.4 177.9,210.1 179.2,209.7 180.4,209.2 181.5,208.6 182.5,207.9 183.3,207.2 183.9,206.4 184.4,205.6 184.7,204.8Z" fill="#e03424" fill-opacity="0.85"/><path d="M190.7,203.3 190.6,202.4 190.3,201.4 189.9,200.5 189.2,199.7 188.4,198.9 187.3,198.2 186.2,197.6 184.9,197.1 183.5,196.7 182.0,196.4 180.4,196.2 178.7,196.1 177.0,196.1 175.2,196.3 173.5,196.5 171.8,196.9 170.1,197.4 168.5,198.0 167.0,198.6 165.6,199.4 164.3,200.2 163.2,201.0 162.1,202.0 161.3,202.9 160.6,203.9 160.2,205.0 159.9,206.0 159.8,207.0 159.9,208.0 160.2,208.9 160.6,209.8 161.3,210.7 162.1,211.4 163.2,212.1 164.3,212.8 165.6,213.3 167.0,213.7 168.5,214.0 170.1,214.2 171.8,214.3 173.5,214.2 175.2,214.1 177.0,213.8 178.7,213.5 180.4,213.0 182.0,212.4 183.5,211.7 184.9,211.0 186.2,210.2 187.3,209.3 188.4,208.4 189.2,207.4 189.9,206.4 190.3,205.4 190.6,204.4Z" fill="none" stroke="#e03424" stroke-opacity="0.85" stroke-width="0.55"/>
<path d="M190.1,206.0 190.0,205.2 189.7,204.4 189.2,203.7 188.5,203.0 187.7,202.3 186.7,201.7 185.5,201.1 184.2,200.6 182.8,200.2 181.3,199.8 179.7,199.5 178.0,199.3 176.3,199.2 174.6,199.1 172.9,199.2 171.1,199.3 169.5,199.5 167.9,199.8 166.4,200.2 164.9,200.6 163.6,201.1 162.5,201.7 161.5,202.3 160.6,203.0 160.0,203.7 159.5,204.4 159.2,205.2 159.1,206.0 159.2,206.7 159.5,207.5 160.0,208.2 160.6,208.9 161.5,209.6 162.5,210.2 163.6,210.8 164.9,211.3 166.4,211.7 167.9,212.1 169.5,212.4 171.1,212.6 172.9,212.7 174.6,212.8 176.3,212.7 178.0,212.6 179.7,212.4 181.3,212.1 182.8,211.7 184.2,211.3 185.5,210.8 186.7,210.2 187.7,209.6 188.5,208.9 189.2,208.2 189.7,207.5 190.0,206.7ZM184.1,206.0 184.0,205.3 183.7,204.8 183.3,204.2 182.6,203.6 181.8,203.2 180.8,202.7 179.7,202.4 178.5,202.1 177.3,201.9 175.9,201.7 174.6,201.7 173.2,201.7 171.9,201.9 170.6,202.1 169.4,202.4 168.3,202.7 167.4,203.2 166.6,203.6 165.9,204.2 165.4,204.8 165.1,205.3 165.0,206.0 165.1,206.6 165.4,207.2 165.9,207.8 166.6,208.3 167.4,208.8 168.3,209.2 169.4,209.6 170.6,209.9 171.9,210.1 173.2,210.2 174.6,210.3 175.9,210.2 177.3,210.1 178.5,209.9 179.7,209.6 180.8,209.2 181.8,208.8 182.6,208.3 183.3,207.8 183.7,207.2 184.0,206.6Z" fill="#99c5f8" fill-rule="evenodd" fill-opacity="0.85"/><path d="M184.1,206.0 184.0,205.3 183.7,204.8 183.3,204.2 182.6,203.6 181.8,203.2 180.8,202.7 179.7,202.4 178.5,202.1 177.3,201.9 175.9,201.7 174.6,201.7 173.2,201.7 171.9,201.9 170.6,202.1 169.4,202.4 168.3,202.7 167.4,203.2 166.6,203.6 165.9,204.2 165.4,204.8 165.1,205.3 165.0,206.0 165.1,206.6 165.4,207.2 165.9,207.8 166.6,208.3 167.4,208.8 168.3,209.2 169.4,209.6 170.6,209.9 171.9,210.1 173.2,210.2 174.6,210.3 175.9,210.2 177.3,210.1 178.5,209.9 179.7,209.6 180.8,209.2 181.8,208.8 182.6,208.3 183.3,207.8 183.7,207.2 184.0,206.6Z" fill="#006fed" fill-opacity="0.85"/><path d="M190.1,206.0 190.0,205.2 189.7,204.4 189.2,203.7 188.5,203.0 187.7,202.3 186.7,201.7 185.5,201.1 184.2,200.6 182.8,200.2 181.3,199.8 179.7,199.5 178.0,199.3 176.3,199.2 174.6,199.1 172.9,199.2 171.1,199.3 169.5,199.5 167.9,199.8 166.4,200.2 164.9,200.6 163.6,201.1 162.5,201.7 161.5,202.3 160.6,203.0 160.0,203.7 159.5,204.4 159.2,205.2 159.1,206.0 159.2,206.7 159.5,207.5 160.0,208.2 160.6,208.9 161.5,209.6 162.5,210.2 163.6,210.8 164.9,211.3 166.4,211.7 167.9,212.1 169.5,212.4 171.1,212.6 172.9,212.7 174.6,212.8 176.3,212.7 178.0,212.6 179.7,212.4 181.3,212.1 182.8,211.7 184.2,211.3 185.5,210.8 186.7,210.2 187.7,209.6 188.5,208.9 189.2,208.2 189.7,207.5 190.0,206.7Z" fill="none" stroke="#006fed" stroke-opacity="0.85" stroke-width="0.55"/>
</g>
<clipPath id="cL40"><rect x="26.86" y="239.33" width="55.45" height="56.93"/></clipPath>
<g clip-path="url(#cL40)">
<path d="M71.4,262.2 71.3,260.1 71.0,258.0 70.5,256.1 69.8,255.1 68.9,254.1 67.9,253.1 66.7,252.2 65.3,251.3 63.8,250.5 62.2,249.8 60.5,249.1 58.8,248.5 57.0,248.1 55.1,247.7 53.3,247.5 51.5,247.3 49.8,247.3 48.1,247.4 46.5,247.6 45.0,247.9 43.6,248.3 42.4,248.9 41.3,249.5 40.5,250.2 39.8,251.0 39.3,251.8 39.0,252.7 38.9,253.7 39.0,254.7 39.3,255.7 39.8,257.0 40.5,259.2 41.3,261.3 42.4,263.4 43.6,265.4 45.0,267.2 46.5,269.0 48.1,270.5 49.8,271.9 51.5,273.1 53.3,274.1 55.1,274.9 57.0,275.4 58.8,275.7 60.5,275.8 62.2,275.6 63.8,275.1 65.3,274.5 66.7,273.6 67.9,272.5 68.9,271.1 69.8,269.7 70.5,268.0 71.0,266.2 71.3,264.2ZM65.2,258.1 65.1,257.3 64.8,256.5 64.3,255.8 63.6,255.2 62.7,254.6 61.7,254.0 60.6,253.5 59.3,253.0 58.0,252.6 56.6,252.3 55.1,252.1 53.7,251.9 52.3,251.9 51.0,251.9 49.7,252.0 48.6,252.2 47.5,252.5 46.7,252.9 46.0,253.4 45.5,253.9 45.2,254.4 45.1,255.0 45.2,255.7 45.5,256.3 46.0,257.1 46.7,257.9 47.5,258.7 48.6,259.4 49.7,260.1 51.0,260.6 52.3,261.1 53.7,261.5 55.1,261.8 56.6,262.0 58.0,262.1 59.3,262.1 60.6,261.9 61.7,261.6 62.7,261.3 63.6,260.8 64.3,260.2 64.8,259.6 65.1,258.9Z" fill="#999cc2" fill-rule="evenodd" fill-opacity="1.0"/><path d="M65.2,258.1 65.1,257.3 64.8,256.5 64.3,255.8 63.6,255.2 62.7,254.6 61.7,254.0 60.6,253.5 59.3,253.0 58.0,252.6 56.6,252.3 55.1,252.1 53.7,251.9 52.3,251.9 51.0,251.9 49.7,252.0 48.6,252.2 47.5,252.5 46.7,252.9 46.0,253.4 45.5,253.9 45.2,254.4 45.1,255.0 45.2,255.7 45.5,256.3 46.0,257.1 46.7,257.9 47.5,258.7 48.6,259.4 49.7,260.1 51.0,260.6 52.3,261.1 53.7,261.5 55.1,261.8 56.6,262.0 58.0,262.1 59.3,262.1 60.6,261.9 61.7,261.6 62.7,261.3 63.6,260.8 64.3,260.2 64.8,259.6 65.1,258.9Z" fill="#000866" fill-opacity="1.0"/><path d="M71.4,262.2 71.3,260.1 71.0,258.0 70.5,256.1 69.8,255.1 68.9,254.1 67.9,253.1 66.7,252.2 65.3,251.3 63.8,250.5 62.2,249.8 60.5,249.1 58.8,248.5 57.0,248.1 55.1,247.7 53.3,247.5 51.5,247.3 49.8,247.3 48.1,247.4 46.5,247.6 45.0,247.9 43.6,248.3 42.4,248.9 41.3,249.5 40.5,250.2 39.8,251.0 39.3,251.8 39.0,252.7 38.9,253.7 39.0,254.7 39.3,255.7 39.8,257.0 40.5,259.2 41.3,261.3 42.4,263.4 43.6,265.4 45.0,267.2 46.5,269.0 48.1,270.5 49.8,271.9 51.5,273.1 53.3,274.1 55.1,274.9 57.0,275.4 58.8,275.7 60.5,275.8 62.2,275.6 63.8,275.1 65.3,274.5 66.7,273.6 67.9,272.5 68.9,271.1 69.8,269.7 70.5,268.0 71.0,266.2 71.3,264.2Z" fill="none" stroke="#000866" stroke-opacity="1.0" stroke-width="0.55"/>
<g transform="translate(55.14,254.07) rotate(-172.8)"><path d="M16.38,0A16.38,9.18 0 1 0 -16.38,0A16.38,9.18 0 1 0 16.38,0ZM10.10,0A10.10,5.66 0 1 0 -10.10,0A10.10,5.66 0 1 0 10.10,0Z" fill="#99d6c2" fill-rule="evenodd" fill-opacity="0.85"/><ellipse rx="10.10" ry="5.66" fill="#009966" fill-opacity="0.85"/><ellipse rx="16.38" ry="9.18" fill="none" stroke="#009966" stroke-opacity="0.85" stroke-width="0.55"/></g>
<path d="M71.4,257.9 71.3,256.8 71.0,255.7 70.5,254.8 69.8,253.9 68.9,253.0 67.9,252.2 66.7,251.4 65.3,250.7 63.8,250.1 62.2,249.5 60.5,249.0 58.8,248.6 57.0,248.3 55.1,248.0 53.3,247.9 51.5,247.9 49.8,247.9 48.1,248.1 46.5,248.4 45.0,248.7 43.6,249.2 42.4,249.7 41.3,250.3 40.5,251.0 39.8,251.8 39.3,252.5 39.0,253.4 38.9,254.2 39.0,255.1 39.3,256.1 39.8,257.2 40.5,258.3 41.3,259.4 42.4,260.5 43.6,261.5 45.0,262.4 46.5,263.3 48.1,264.0 49.8,264.6 51.5,265.2 53.3,265.6 55.1,265.9 57.0,266.0 58.8,266.1 60.5,266.0 62.2,265.8 63.8,265.4 65.3,265.0 66.7,264.4 67.9,263.7 68.9,262.9 69.8,262.0 70.5,261.1 71.0,260.1 71.3,259.0ZM65.2,256.6 65.1,256.1 64.8,255.6 64.3,255.1 63.6,254.6 62.7,254.2 61.7,253.8 60.6,253.4 59.3,253.1 58.0,252.8 56.6,252.6 55.1,252.5 53.7,252.4 52.3,252.4 51.0,252.5 49.7,252.7 48.6,252.9 47.5,253.1 46.7,253.5 46.0,253.8 45.5,254.2 45.2,254.7 45.1,255.2 45.2,255.6 45.5,256.2 46.0,256.7 46.7,257.3 47.5,257.8 48.6,258.3 49.7,258.7 51.0,259.1 52.3,259.4 53.7,259.6 55.1,259.7 56.6,259.8 58.0,259.8 59.3,259.7 60.6,259.6 61.7,259.3 62.7,259.0 63.6,258.6 64.3,258.2 64.8,257.7 65.1,257.2Z" fill="#cccccc" fill-rule="evenodd" fill-opacity="0.85"/><path d="M65.2,256.6 65.1,256.1 64.8,255.6 64.3,255.1 63.6,254.6 62.7,254.2 61.7,253.8 60.6,253.4 59.3,253.1 58.0,252.8 56.6,252.6 55.1,252.5 53.7,252.4 52.3,252.4 51.0,252.5 49.7,252.7 48.6,252.9 47.5,253.1 46.7,253.5 46.0,253.8 45.5,254.2 45.2,254.7 45.1,255.2 45.2,255.6 45.5,256.2 46.0,256.7 46.7,257.3 47.5,257.8 48.6,258.3 49.7,258.7 51.0,259.1 52.3,259.4 53.7,259.6 55.1,259.7 56.6,259.8 58.0,259.8 59.3,259.7 60.6,259.6 61.7,259.3 62.7,259.0 63.6,258.6 64.3,258.2 64.8,257.7 65.1,257.2Z" fill="#808080" fill-opacity="0.85"/><path d="M71.4,257.9 71.3,256.8 71.0,255.7 70.5,254.8 69.8,253.9 68.9,253.0 67.9,252.2 66.7,251.4 65.3,250.7 63.8,250.1 62.2,249.5 60.5,249.0 58.8,248.6 57.0,248.3 55.1,248.0 53.3,247.9 51.5,247.9 49.8,247.9 48.1,248.1 46.5,248.4 45.0,248.7 43.6,249.2 42.4,249.7 41.3,250.3 40.5,251.0 39.8,251.8 39.3,252.5 39.0,253.4 38.9,254.2 39.0,255.1 39.3,256.1 39.8,257.2 40.5,258.3 41.3,259.4 42.4,260.5 43.6,261.5 45.0,262.4 46.5,263.3 48.1,264.0 49.8,264.6 51.5,265.2 53.3,265.6 55.1,265.9 57.0,266.0 58.8,266.1 60.5,266.0 62.2,265.8 63.8,265.4 65.3,265.0 66.7,264.4 67.9,263.7 68.9,262.9 69.8,262.0 70.5,261.1 71.0,260.1 71.3,259.0Z" fill="none" stroke="#808080" stroke-opacity="0.85" stroke-width="0.55"/>
<path d="M71.4,254.9 71.3,254.1 71.0,253.3 70.5,252.6 69.8,251.9 68.9,251.2 67.9,250.5 66.7,250.0 65.3,249.4 63.8,249.0 62.2,248.6 60.5,248.3 58.8,248.1 57.0,248.0 55.1,247.9 53.3,248.0 51.5,248.1 49.8,248.3 48.1,248.6 46.5,249.0 45.0,249.4 43.6,250.0 42.4,250.5 41.3,251.2 40.5,251.9 39.8,252.6 39.3,253.3 39.0,254.1 38.9,254.9 39.0,255.7 39.3,256.4 39.8,257.2 40.5,257.9 41.3,258.6 42.4,259.2 43.6,259.8 45.0,260.3 46.5,260.8 48.1,261.2 49.8,261.5 51.5,261.7 53.3,261.8 55.1,261.9 57.0,261.8 58.8,261.7 60.5,261.5 62.2,261.2 63.8,260.8 65.3,260.3 66.7,259.8 67.9,259.2 68.9,258.6 69.8,257.9 70.5,257.2 71.0,256.4 71.3,255.7ZM65.2,254.9 65.1,254.3 64.8,253.7 64.3,253.1 63.6,252.6 62.7,252.1 61.7,251.6 60.6,251.3 59.3,251.0 58.0,250.8 56.6,250.6 55.1,250.6 53.7,250.6 52.3,250.8 51.0,251.0 49.7,251.3 48.6,251.6 47.5,252.1 46.7,252.6 46.0,253.1 45.5,253.7 45.2,254.3 45.1,254.9 45.2,255.5 45.5,256.1 46.0,256.7 46.7,257.2 47.5,257.7 48.6,258.1 49.7,258.5 51.0,258.8 52.3,259.0 53.7,259.1 55.1,259.2 56.6,259.1 58.0,259.0 59.3,258.8 60.6,258.5 61.7,258.1 62.7,257.7 63.6,257.2 64.3,256.7 64.8,256.1 65.1,255.5Z" fill="#f3aea7" fill-rule="evenodd" fill-opacity="0.85"/><path d="M65.2,254.9 65.1,254.3 64.8,253.7 64.3,253.1 63.6,252.6 62.7,252.1 61.7,251.6 60.6,251.3 59.3,251.0 58.0,250.8 56.6,250.6 55.1,250.6 53.7,250.6 52.3,250.8 51.0,251.0 49.7,251.3 48.6,251.6 47.5,252.1 46.7,252.6 46.0,253.1 45.5,253.7 45.2,254.3 45.1,254.9 45.2,255.5 45.5,256.1 46.0,256.7 46.7,257.2 47.5,257.7 48.6,258.1 49.7,258.5 51.0,258.8 52.3,259.0 53.7,259.1 55.1,259.2 56.6,259.1 58.0,259.0 59.3,258.8 60.6,258.5 61.7,258.1 62.7,257.7 63.6,257.2 64.3,256.7 64.8,256.1 65.1,255.5Z" fill="#e03424" fill-opacity="0.85"/><path d="M71.4,254.9 71.3,254.1 71.0,253.3 70.5,252.6 69.8,251.9 68.9,251.2 67.9,250.5 66.7,250.0 65.3,249.4 63.8,249.0 62.2,248.6 60.5,248.3 58.8,248.1 57.0,248.0 55.1,247.9 53.3,248.0 51.5,248.1 49.8,248.3 48.1,248.6 46.5,249.0 45.0,249.4 43.6,250.0 42.4,250.5 41.3,251.2 40.5,251.9 39.8,252.6 39.3,253.3 39.0,254.1 38.9,254.9 39.0,255.7 39.3,256.4 39.8,257.2 40.5,257.9 41.3,258.6 42.4,259.2 43.6,259.8 45.0,260.3 46.5,260.8 48.1,261.2 49.8,261.5 51.5,261.7 53.3,261.8 55.1,261.9 57.0,261.8 58.8,261.7 60.5,261.5 62.2,261.2 63.8,260.8 65.3,260.3 66.7,259.8 67.9,259.2 68.9,258.6 69.8,257.9 70.5,257.2 71.0,256.4 71.3,255.7Z" fill="none" stroke="#e03424" stroke-opacity="0.85" stroke-width="0.55"/>
<path d="M71.4,255.2 71.3,255.0 71.0,254.7 70.5,254.5 69.8,254.3 68.9,254.0 67.9,253.8 66.7,253.6 65.3,253.5 63.8,253.3 62.2,253.2 60.5,253.1 58.8,253.0 57.0,253.0 55.1,253.0 53.3,253.0 51.5,253.0 49.8,253.1 48.1,253.2 46.5,253.3 45.0,253.5 43.6,253.6 42.4,253.8 41.3,254.0 40.5,254.3 39.8,254.5 39.3,254.7 39.0,255.0 38.9,255.2 39.0,255.4 39.3,255.7 39.8,255.9 40.5,256.1 41.3,256.3 42.4,256.5 43.6,256.7 45.0,256.9 46.5,257.0 48.1,257.1 49.8,257.2 51.5,257.3 53.3,257.3 55.1,257.3 57.0,257.3 58.8,257.3 60.5,257.2 62.2,257.1 63.8,257.0 65.3,256.9 66.7,256.7 67.9,256.5 68.9,256.3 69.8,256.1 70.5,255.9 71.0,255.7 71.3,255.4ZM65.2,255.2 65.1,255.0 64.8,254.8 64.3,254.6 63.6,254.4 62.7,254.2 61.7,254.1 60.6,253.9 59.3,253.8 58.0,253.7 56.6,253.7 55.1,253.7 53.7,253.7 52.3,253.7 51.0,253.8 49.7,253.9 48.6,254.1 47.5,254.2 46.7,254.4 46.0,254.6 45.5,254.8 45.2,255.0 45.1,255.2 45.2,255.4 45.5,255.7 46.0,255.9 46.7,256.1 47.5,256.3 48.6,256.4 49.7,256.6 51.0,256.7 52.3,256.7 53.7,256.8 55.1,256.8 56.6,256.8 58.0,256.7 59.3,256.7 60.6,256.6 61.7,256.4 62.7,256.3 63.6,256.1 64.3,255.9 64.8,255.7 65.1,255.4Z" fill="#99c5f8" fill-rule="evenodd" fill-opacity="0.85"/><path d="M65.2,255.2 65.1,255.0 64.8,254.8 64.3,254.6 63.6,254.4 62.7,254.2 61.7,254.1 60.6,253.9 59.3,253.8 58.0,253.7 56.6,253.7 55.1,253.7 53.7,253.7 52.3,253.7 51.0,253.8 49.7,253.9 48.6,254.1 47.5,254.2 46.7,254.4 46.0,254.6 45.5,254.8 45.2,255.0 45.1,255.2 45.2,255.4 45.5,255.7 46.0,255.9 46.7,256.1 47.5,256.3 48.6,256.4 49.7,256.6 51.0,256.7 52.3,256.7 53.7,256.8 55.1,256.8 56.6,256.8 58.0,256.7 59.3,256.7 60.6,256.6 61.7,256.4 62.7,256.3 63.6,256.1 64.3,255.9 64.8,255.7 65.1,255.4Z" fill="#006fed" fill-opacity="0.85"/><path d="M71.4,255.2 71.3,255.0 71.0,254.7 70.5,254.5 69.8,254.3 68.9,254.0 67.9,253.8 66.7,253.6 65.3,253.5 63.8,253.3 62.2,253.2 60.5,253.1 58.8,253.0 57.0,253.0 55.1,253.0 53.3,253.0 51.5,253.0 49.8,253.1 48.1,253.2 46.5,253.3 45.0,253.5 43.6,253.6 42.4,253.8 41.3,254.0 40.5,254.3 39.8,254.5 39.3,254.7 39.0,255.0 38.9,255.2 39.0,255.4 39.3,255.7 39.8,255.9 40.5,256.1 41.3,256.3 42.4,256.5 43.6,256.7 45.0,256.9 46.5,257.0 48.1,257.1 49.8,257.2 51.5,257.3 53.3,257.3 55.1,257.3 57.0,257.3 58.8,257.3 60.5,257.2 62.2,257.1 63.8,257.0 65.3,256.9 66.7,256.7 67.9,256.5 68.9,256.3 69.8,256.1 70.5,255.9 71.0,255.7 71.3,255.4Z" fill="none" stroke="#006fed" stroke-opacity="0.85" stroke-width="0.55"/>
</g>
<clipPath id="cL41"><rect x="85.39" y="239.33" width="55.45" height="56.93"/></clipPath>
<g clip-path="url(#cL41)">
<path d="M130.9,259.3 130.8,257.2 130.5,255.7 130.0,254.7 129.2,253.7 128.3,252.8 127.2,251.9 125.9,251.0 124.5,250.2 123.0,249.5 121.3,248.9 119.6,248.4 117.7,247.9 115.8,247.6 113.9,247.4 112.0,247.3 110.2,247.3 108.3,247.5 106.6,247.7 104.9,248.1 103.4,248.5 102.0,249.1 100.7,249.7 99.6,250.5 98.7,251.3 97.9,252.1 97.4,253.1 97.1,254.0 97.0,255.0 97.1,256.1 97.4,257.8 97.9,260.0 98.7,262.1 99.6,264.1 100.7,266.1 102.0,267.9 103.4,269.6 104.9,271.1 106.6,272.4 108.3,273.5 110.2,274.4 112.0,275.1 113.9,275.5 115.8,275.8 117.7,275.7 119.6,275.4 121.3,274.9 123.0,274.2 124.5,273.2 125.9,272.0 127.2,270.6 128.3,269.0 129.2,267.3 130.0,265.5 130.5,263.5 130.8,261.4ZM124.4,257.3 124.3,256.5 124.0,255.8 123.5,255.2 122.7,254.5 121.9,254.0 120.8,253.5 119.6,253.0 118.3,252.6 116.9,252.3 115.4,252.0 113.9,251.9 112.5,251.9 111.0,251.9 109.6,252.0 108.3,252.3 107.1,252.6 106.0,252.9 105.1,253.4 104.4,253.9 103.9,254.5 103.6,255.1 103.5,255.7 103.6,256.4 103.9,257.2 104.4,258.0 105.1,258.7 106.0,259.4 107.1,260.1 108.3,260.7 109.6,261.2 111.0,261.6 112.5,261.9 113.9,262.0 115.4,262.1 116.9,262.1 118.3,261.9 119.6,261.6 120.8,261.2 121.9,260.7 122.7,260.2 123.5,259.5 124.0,258.8 124.3,258.1Z" fill="#999cc2" fill-rule="evenodd" fill-opacity="1.0"/><path d="M124.4,257.3 124.3,256.5 124.0,255.8 123.5,255.2 122.7,254.5 121.9,254.0 120.8,253.5 119.6,253.0 118.3,252.6 116.9,252.3 115.4,252.0 113.9,251.9 112.5,251.9 111.0,251.9 109.6,252.0 108.3,252.3 107.1,252.6 106.0,252.9 105.1,253.4 104.4,253.9 103.9,254.5 103.6,255.1 103.5,255.7 103.6,256.4 103.9,257.2 104.4,258.0 105.1,258.7 106.0,259.4 107.1,260.1 108.3,260.7 109.6,261.2 111.0,261.6 112.5,261.9 113.9,262.0 115.4,262.1 116.9,262.1 118.3,261.9 119.6,261.6 120.8,261.2 121.9,260.7 122.7,260.2 123.5,259.5 124.0,258.8 124.3,258.1Z" fill="#000866" fill-opacity="1.0"/><path d="M130.9,259.3 130.8,257.2 130.5,255.7 130.0,254.7 129.2,253.7 128.3,252.8 127.2,251.9 125.9,251.0 124.5,250.2 123.0,249.5 121.3,248.9 119.6,248.4 117.7,247.9 115.8,247.6 113.9,247.4 112.0,247.3 110.2,247.3 108.3,247.5 106.6,247.7 104.9,248.1 103.4,248.5 102.0,249.1 100.7,249.7 99.6,250.5 98.7,251.3 97.9,252.1 97.4,253.1 97.1,254.0 97.0,255.0 97.1,256.1 97.4,257.8 97.9,260.0 98.7,262.1 99.6,264.1 100.7,266.1 102.0,267.9 103.4,269.6 104.9,271.1 106.6,272.4 108.3,273.5 110.2,274.4 112.0,275.1 113.9,275.5 115.8,275.8 117.7,275.7 119.6,275.4 121.3,274.9 123.0,274.2 124.5,273.2 125.9,272.0 127.2,270.6 128.3,269.0 129.2,267.3 130.0,265.5 130.5,263.5 130.8,261.4Z" fill="none" stroke="#000866" stroke-opacity="1.0" stroke-width="0.55"/>
<g transform="translate(113.95,254.07) rotate(0.0)"><path d="M16.97,0A16.97,9.34 0 1 0 -16.97,0A16.97,9.34 0 1 0 16.97,0ZM10.46,0A10.46,5.76 0 1 0 -10.46,0A10.46,5.76 0 1 0 10.46,0Z" fill="#99d6c2" fill-rule="evenodd" fill-opacity="0.85"/><ellipse rx="10.46" ry="5.76" fill="#009966" fill-opacity="0.85"/><ellipse rx="16.97" ry="9.34" fill="none" stroke="#009966" stroke-opacity="0.85" stroke-width="0.55"/></g>
<path d="M130.9,256.9 130.8,255.7 130.5,254.9 130.0,254.0 129.2,253.1 128.3,252.3 127.2,251.5 125.9,250.8 124.5,250.1 123.0,249.5 121.3,249.0 119.6,248.6 117.7,248.3 115.8,248.0 113.9,247.9 112.0,247.9 110.2,247.9 108.3,248.1 106.6,248.3 104.9,248.7 103.4,249.1 102.0,249.7 100.7,250.3 99.6,250.9 98.7,251.7 97.9,252.5 97.4,253.3 97.1,254.2 97.0,255.0 97.1,256.0 97.4,257.1 97.9,258.2 98.7,259.3 99.6,260.4 100.7,261.4 102.0,262.3 103.4,263.2 104.9,263.9 106.6,264.6 108.3,265.1 110.2,265.6 112.0,265.9 113.9,266.0 115.8,266.1 117.7,266.0 119.6,265.8 121.3,265.5 123.0,265.0 124.5,264.5 125.9,263.8 127.2,263.0 128.3,262.1 129.2,261.2 130.0,260.2 130.5,259.1 130.8,258.0ZM124.4,256.2 124.3,255.7 124.0,255.2 123.5,254.7 122.7,254.3 121.9,253.9 120.8,253.5 119.6,253.2 118.3,252.9 116.9,252.7 115.4,252.5 113.9,252.4 112.5,252.4 111.0,252.5 109.6,252.6 108.3,252.8 107.1,253.0 106.0,253.4 105.1,253.7 104.4,254.1 103.9,254.6 103.6,255.0 103.5,255.5 103.6,256.0 103.9,256.6 104.4,257.1 105.1,257.6 106.0,258.1 107.1,258.6 108.3,259.0 109.6,259.3 111.0,259.5 112.5,259.7 113.9,259.8 115.4,259.8 116.9,259.8 118.3,259.6 119.6,259.4 120.8,259.1 121.9,258.7 122.7,258.3 123.5,257.8 124.0,257.3 124.3,256.8Z" fill="#cccccc" fill-rule="evenodd" fill-opacity="0.85"/><path d="M124.4,256.2 124.3,255.7 124.0,255.2 123.5,254.7 122.7,254.3 121.9,253.9 120.8,253.5 119.6,253.2 118.3,252.9 116.9,252.7 115.4,252.5 113.9,252.4 112.5,252.4 111.0,252.5 109.6,252.6 108.3,252.8 107.1,253.0 106.0,253.4 105.1,253.7 104.4,254.1 103.9,254.6 103.6,255.0 103.5,255.5 103.6,256.0 103.9,256.6 104.4,257.1 105.1,257.6 106.0,258.1 107.1,258.6 108.3,259.0 109.6,259.3 111.0,259.5 112.5,259.7 113.9,259.8 115.4,259.8 116.9,259.8 118.3,259.6 119.6,259.4 120.8,259.1 121.9,258.7 122.7,258.3 123.5,257.8 124.0,257.3 124.3,256.8Z" fill="#808080" fill-opacity="0.85"/><path d="M130.9,256.9 130.8,255.7 130.5,254.9 130.0,254.0 129.2,253.1 128.3,252.3 127.2,251.5 125.9,250.8 124.5,250.1 123.0,249.5 121.3,249.0 119.6,248.6 117.7,248.3 115.8,248.0 113.9,247.9 112.0,247.9 110.2,247.9 108.3,248.1 106.6,248.3 104.9,248.7 103.4,249.1 102.0,249.7 100.7,250.3 99.6,250.9 98.7,251.7 97.9,252.5 97.4,253.3 97.1,254.2 97.0,255.0 97.1,256.0 97.4,257.1 97.9,258.2 98.7,259.3 99.6,260.4 100.7,261.4 102.0,262.3 103.4,263.2 104.9,263.9 106.6,264.6 108.3,265.1 110.2,265.6 112.0,265.9 113.9,266.0 115.8,266.1 117.7,266.0 119.6,265.8 121.3,265.5 123.0,265.0 124.5,264.5 125.9,263.8 127.2,263.0 128.3,262.1 129.2,261.2 130.0,260.2 130.5,259.1 130.8,258.0Z" fill="none" stroke="#808080" stroke-opacity="0.85" stroke-width="0.55"/>
<path d="M130.9,254.9 130.8,254.1 130.5,253.3 130.0,252.6 129.2,251.9 128.3,251.2 127.2,250.5 125.9,250.0 124.5,249.4 123.0,249.0 121.3,248.6 119.6,248.3 117.7,248.1 115.8,248.0 113.9,247.9 112.0,248.0 110.2,248.1 108.3,248.3 106.6,248.6 104.9,249.0 103.4,249.4 102.0,250.0 100.7,250.5 99.6,251.2 98.7,251.9 97.9,252.6 97.4,253.3 97.1,254.1 97.0,254.9 97.1,255.7 97.4,256.4 97.9,257.2 98.7,257.9 99.6,258.6 100.7,259.2 102.0,259.8 103.4,260.3 104.9,260.8 106.6,261.2 108.3,261.5 110.2,261.7 112.0,261.8 113.9,261.9 115.8,261.8 117.7,261.7 119.6,261.5 121.3,261.2 123.0,260.8 124.5,260.3 125.9,259.8 127.2,259.2 128.3,258.6 129.2,257.9 130.0,257.2 130.5,256.4 130.8,255.7ZM124.4,254.9 124.3,254.3 124.0,253.7 123.5,253.1 122.7,252.6 121.9,252.1 120.8,251.6 119.6,251.3 118.3,251.0 116.9,250.8 115.4,250.6 113.9,250.6 112.5,250.6 111.0,250.8 109.6,251.0 108.3,251.3 107.1,251.6 106.0,252.1 105.1,252.6 104.4,253.1 103.9,253.7 103.6,254.3 103.5,254.9 103.6,255.5 103.9,256.1 104.4,256.7 105.1,257.2 106.0,257.7 107.1,258.1 108.3,258.5 109.6,258.8 111.0,259.0 112.5,259.1 113.9,259.2 115.4,259.1 116.9,259.0 118.3,258.8 119.6,258.5 120.8,258.1 121.9,257.7 122.7,257.2 123.5,256.7 124.0,256.1 124.3,255.5Z" fill="#f3aea7" fill-rule="evenodd" fill-opacity="0.85"/><path d="M124.4,254.9 124.3,254.3 124.0,253.7 123.5,253.1 122.7,252.6 121.9,252.1 120.8,251.6 119.6,251.3 118.3,251.0 116.9,250.8 115.4,250.6 113.9,250.6 112.5,250.6 111.0,250.8 109.6,251.0 108.3,251.3 107.1,251.6 106.0,252.1 105.1,252.6 104.4,253.1 103.9,253.7 103.6,254.3 103.5,254.9 103.6,255.5 103.9,256.1 104.4,256.7 105.1,257.2 106.0,257.7 107.1,258.1 108.3,258.5 109.6,258.8 111.0,259.0 112.5,259.1 113.9,259.2 115.4,259.1 116.9,259.0 118.3,258.8 119.6,258.5 120.8,258.1 121.9,257.7 122.7,257.2 123.5,256.7 124.0,256.1 124.3,255.5Z" fill="#e03424" fill-opacity="0.85"/><path d="M130.9,254.9 130.8,254.1 130.5,253.3 130.0,252.6 129.2,251.9 128.3,251.2 127.2,250.5 125.9,250.0 124.5,249.4 123.0,249.0 121.3,248.6 119.6,248.3 117.7,248.1 115.8,248.0 113.9,247.9 112.0,248.0 110.2,248.1 108.3,248.3 106.6,248.6 104.9,249.0 103.4,249.4 102.0,250.0 100.7,250.5 99.6,251.2 98.7,251.9 97.9,252.6 97.4,253.3 97.1,254.1 97.0,254.9 97.1,255.7 97.4,256.4 97.9,257.2 98.7,257.9 99.6,258.6 100.7,259.2 102.0,259.8 103.4,260.3 104.9,260.8 106.6,261.2 108.3,261.5 110.2,261.7 112.0,261.8 113.9,261.9 115.8,261.8 117.7,261.7 119.6,261.5 121.3,261.2 123.0,260.8 124.5,260.3 125.9,259.8 127.2,259.2 128.3,258.6 129.2,257.9 130.0,257.2 130.5,256.4 130.8,255.7Z" fill="none" stroke="#e03424" stroke-opacity="0.85" stroke-width="0.55"/>
<path d="M130.9,255.2 130.8,255.0 130.5,254.7 130.0,254.5 129.2,254.3 128.3,254.0 127.2,253.8 125.9,253.6 124.5,253.5 123.0,253.3 121.3,253.2 119.6,253.1 117.7,253.0 115.8,253.0 113.9,253.0 112.0,253.0 110.2,253.0 108.3,253.1 106.6,253.2 104.9,253.3 103.4,253.5 102.0,253.6 100.7,253.8 99.6,254.0 98.7,254.3 97.9,254.5 97.4,254.7 97.1,255.0 97.0,255.2 97.1,255.4 97.4,255.7 97.9,255.9 98.7,256.1 99.6,256.3 100.7,256.5 102.0,256.7 103.4,256.9 104.9,257.0 106.6,257.1 108.3,257.2 110.2,257.3 112.0,257.3 113.9,257.3 115.8,257.3 117.7,257.3 119.6,257.2 121.3,257.1 123.0,257.0 124.5,256.9 125.9,256.7 127.2,256.5 128.3,256.3 129.2,256.1 130.0,255.9 130.5,255.7 130.8,255.4ZM124.4,255.2 124.3,255.0 124.0,254.8 123.5,254.6 122.7,254.4 121.9,254.2 120.8,254.1 119.6,253.9 118.3,253.8 116.9,253.7 115.4,253.7 113.9,253.7 112.5,253.7 111.0,253.7 109.6,253.8 108.3,253.9 107.1,254.1 106.0,254.2 105.1,254.4 104.4,254.6 103.9,254.8 103.6,255.0 103.5,255.2 103.6,255.4 103.9,255.7 104.4,255.9 105.1,256.1 106.0,256.3 107.1,256.4 108.3,256.6 109.6,256.7 111.0,256.7 112.5,256.8 113.9,256.8 115.4,256.8 116.9,256.7 118.3,256.7 119.6,256.6 120.8,256.4 121.9,256.3 122.7,256.1 123.5,255.9 124.0,255.7 124.3,255.4Z" fill="#99c5f8" fill-rule="evenodd" fill-opacity="0.85"/><path d="M124.4,255.2 124.3,255.0 124.0,254.8 123.5,254.6 122.7,254.4 121.9,254.2 120.8,254.1 119.6,253.9 118.3,253.8 116.9,253.7 115.4,253.7 113.9,253.7 112.5,253.7 111.0,253.7 109.6,253.8 108.3,253.9 107.1,254.1 106.0,254.2 105.1,254.4 104.4,254.6 103.9,254.8 103.6,255.0 103.5,255.2 103.6,255.4 103.9,255.7 104.4,255.9 105.1,256.1 106.0,256.3 107.1,256.4 108.3,256.6 109.6,256.7 111.0,256.7 112.5,256.8 113.9,256.8 115.4,256.8 116.9,256.7 118.3,256.7 119.6,256.6 120.8,256.4 121.9,256.3 122.7,256.1 123.5,255.9 124.0,255.7 124.3,255.4Z" fill="#006fed" fill-opacity="0.85"/><path d="M130.9,255.2 130.8,255.0 130.5,254.7 130.0,254.5 129.2,254.3 128.3,254.0 127.2,253.8 125.9,253.6 124.5,253.5 123.0,253.3 121.3,253.2 119.6,253.1 117.7,253.0 115.8,253.0 113.9,253.0 112.0,253.0 110.2,253.0 108.3,253.1 106.6,253.2 104.9,253.3 103.4,253.5 102.0,253.6 100.7,253.8 99.6,254.0 98.7,254.3 97.9,254.5 97.4,254.7 97.1,255.0 97.0,255.2 97.1,255.4 97.4,255.7 97.9,255.9 98.7,256.1 99.6,256.3 100.7,256.5 102.0,256.7 103.4,256.9 104.9,257.0 106.6,257.1 108.3,257.2 110.2,257.3 112.0,257.3 113.9,257.3 115.8,257.3 117.7,257.3 119.6,257.2 121.3,257.1 123.0,257.0 124.5,256.9 125.9,256.7 127.2,256.5 128.3,256.3 129.2,256.1 130.0,255.9 130.5,255.7 130.8,255.4Z" fill="none" stroke="#006fed" stroke-opacity="0.85" stroke-width="0.55"/>
</g>
<clipPath id="cL42"><rect x="143.92" y="239.33" width="55.45" height="56.93"/></clipPath>
<g clip-path="url(#cL42)">
<path d="M189.9,253.7 189.8,252.7 189.5,251.8 189.0,251.0 188.4,250.2 187.5,249.5 186.5,248.9 185.4,248.3 184.1,247.9 182.6,247.6 181.1,247.4 179.5,247.3 177.9,247.3 176.1,247.5 174.4,247.7 172.7,248.1 171.0,248.5 169.3,249.1 167.7,249.8 166.2,250.5 164.8,251.3 163.5,252.2 162.3,253.1 161.3,254.1 160.5,255.1 159.8,256.1 159.3,258.0 159.0,260.1 158.9,262.2 159.0,264.2 159.3,266.2 159.8,268.0 160.5,269.7 161.3,271.1 162.3,272.5 163.5,273.6 164.8,274.5 166.2,275.1 167.7,275.6 169.3,275.8 171.0,275.7 172.7,275.4 174.4,274.9 176.1,274.1 177.9,273.1 179.5,271.9 181.1,270.5 182.6,269.0 184.1,267.2 185.4,265.4 186.5,263.4 187.5,261.3 188.4,259.2 189.0,257.0 189.5,255.7 189.8,254.7ZM184.0,255.0 183.9,254.4 183.6,253.9 183.1,253.4 182.4,252.9 181.6,252.5 180.7,252.2 179.6,252.0 178.4,251.9 177.1,251.9 175.8,251.9 174.4,252.1 173.1,252.3 171.7,252.6 170.5,253.0 169.3,253.5 168.2,254.0 167.2,254.6 166.4,255.2 165.7,255.8 165.3,256.5 165.0,257.3 164.9,258.1 165.0,258.9 165.3,259.6 165.7,260.2 166.4,260.8 167.2,261.3 168.2,261.6 169.3,261.9 170.5,262.1 171.7,262.1 173.1,262.0 174.4,261.8 175.8,261.5 177.1,261.1 178.4,260.6 179.6,260.1 180.7,259.4 181.6,258.7 182.4,257.9 183.1,257.1 183.6,256.3 183.9,255.7Z" fill="#999cc2" fill-rule="evenodd" fill-opacity="1.0"/><path d="M184.0,255.0 183.9,254.4 183.6,253.9 183.1,253.4 182.4,252.9 181.6,252.5 180.7,252.2 179.6,252.0 178.4,251.9 177.1,251.9 175.8,251.9 174.4,252.1 173.1,252.3 171.7,252.6 170.5,253.0 169.3,253.5 168.2,254.0 167.2,254.6 166.4,255.2 165.7,255.8 165.3,256.5 165.0,257.3 164.9,258.1 165.0,258.9 165.3,259.6 165.7,260.2 166.4,260.8 167.2,261.3 168.2,261.6 169.3,261.9 170.5,262.1 171.7,262.1 173.1,262.0 174.4,261.8 175.8,261.5 177.1,261.1 178.4,260.6 179.6,260.1 180.7,259.4 181.6,258.7 182.4,257.9 183.1,257.1 183.6,256.3 183.9,255.7Z" fill="#000866" fill-opacity="1.0"/><path d="M189.9,253.7 189.8,252.7 189.5,251.8 189.0,251.0 188.4,250.2 187.5,249.5 186.5,248.9 185.4,248.3 184.1,247.9 182.6,247.6 181.1,247.4 179.5,247.3 177.9,247.3 176.1,247.5 174.4,247.7 172.7,248.1 171.0,248.5 169.3,249.1 167.7,249.8 166.2,250.5 164.8,251.3 163.5,252.2 162.3,253.1 161.3,254.1 160.5,255.1 159.8,256.1 159.3,258.0 159.0,260.1 158.9,262.2 159.0,264.2 159.3,266.2 159.8,268.0 160.5,269.7 161.3,271.1 162.3,272.5 163.5,273.6 164.8,274.5 166.2,275.1 167.7,275.6 169.3,275.8 171.0,275.7 172.7,275.4 174.4,274.9 176.1,274.1 177.9,273.1 179.5,271.9 181.1,270.5 182.6,269.0 184.1,267.2 185.4,265.4 186.5,263.4 187.5,261.3 188.4,259.2 189.0,257.0 189.5,255.7 189.8,254.7Z" fill="none" stroke="#000866" stroke-opacity="1.0" stroke-width="0.55"/>
<g transform="translate(173.59,254.07) rotate(165.2)"><path d="M15.84,0A15.84,8.70 0 1 0 -15.84,0A15.84,8.70 0 1 0 15.84,0ZM9.77,0A9.77,5.37 0 1 0 -9.77,0A9.77,5.37 0 1 0 9.77,0Z" fill="#99d6c2" fill-rule="evenodd" fill-opacity="0.85"/><ellipse rx="9.77" ry="5.37" fill="#009966" fill-opacity="0.85"/><ellipse rx="15.84" ry="8.70" fill="none" stroke="#009966" stroke-opacity="0.85" stroke-width="0.55"/></g>
<path d="M189.9,253.4 189.8,252.6 189.5,251.8 189.0,251.1 188.4,250.4 187.5,249.8 186.5,249.2 185.4,248.8 184.1,248.4 182.6,248.1 181.1,248.0 179.5,247.9 177.9,247.9 176.1,248.0 174.4,248.2 172.7,248.6 171.0,249.0 169.3,249.5 167.7,250.0 166.2,250.7 164.8,251.4 163.5,252.2 162.3,253.0 161.3,253.8 160.5,254.7 159.8,255.6 159.3,256.7 159.0,257.8 158.9,258.9 159.0,260.0 159.3,261.0 159.8,262.0 160.5,262.9 161.3,263.6 162.3,264.3 163.5,264.9 164.8,265.4 166.2,265.8 167.7,266.0 169.3,266.1 171.0,266.1 172.7,265.9 174.4,265.6 176.1,265.2 177.9,264.7 179.5,264.1 181.1,263.3 182.6,262.5 184.1,261.6 185.4,260.6 186.5,259.5 187.5,258.4 188.4,257.3 189.0,256.2 189.5,255.2 189.8,254.3ZM184.0,254.8 183.9,254.4 183.6,253.9 183.1,253.6 182.4,253.2 181.6,252.9 180.7,252.7 179.6,252.5 178.4,252.5 177.1,252.4 175.8,252.5 174.4,252.6 173.1,252.8 171.7,253.0 170.5,253.3 169.3,253.7 168.2,254.0 167.2,254.5 166.4,254.9 165.7,255.4 165.3,255.9 165.0,256.5 164.9,257.0 165.0,257.6 165.3,258.1 165.7,258.5 166.4,258.9 167.2,259.2 168.2,259.5 169.3,259.7 170.5,259.8 171.7,259.8 173.1,259.8 174.4,259.6 175.8,259.4 177.1,259.2 178.4,258.8 179.6,258.4 180.7,257.9 181.6,257.4 182.4,256.9 183.1,256.3 183.6,255.8 183.9,255.3Z" fill="#cccccc" fill-rule="evenodd" fill-opacity="0.85"/><path d="M184.0,254.8 183.9,254.4 183.6,253.9 183.1,253.6 182.4,253.2 181.6,252.9 180.7,252.7 179.6,252.5 178.4,252.5 177.1,252.4 175.8,252.5 174.4,252.6 173.1,252.8 171.7,253.0 170.5,253.3 169.3,253.7 168.2,254.0 167.2,254.5 166.4,254.9 165.7,255.4 165.3,255.9 165.0,256.5 164.9,257.0 165.0,257.6 165.3,258.1 165.7,258.5 166.4,258.9 167.2,259.2 168.2,259.5 169.3,259.7 170.5,259.8 171.7,259.8 173.1,259.8 174.4,259.6 175.8,259.4 177.1,259.2 178.4,258.8 179.6,258.4 180.7,257.9 181.6,257.4 182.4,256.9 183.1,256.3 183.6,255.8 183.9,255.3Z" fill="#808080" fill-opacity="0.85"/><path d="M189.9,253.4 189.8,252.6 189.5,251.8 189.0,251.1 188.4,250.4 187.5,249.8 186.5,249.2 185.4,248.8 184.1,248.4 182.6,248.1 181.1,248.0 179.5,247.9 177.9,247.9 176.1,248.0 174.4,248.2 172.7,248.6 171.0,249.0 169.3,249.5 167.7,250.0 166.2,250.7 164.8,251.4 163.5,252.2 162.3,253.0 161.3,253.8 160.5,254.7 159.8,255.6 159.3,256.7 159.0,257.8 158.9,258.9 159.0,260.0 159.3,261.0 159.8,262.0 160.5,262.9 161.3,263.6 162.3,264.3 163.5,264.9 164.8,265.4 166.2,265.8 167.7,266.0 169.3,266.1 171.0,266.1 172.7,265.9 174.4,265.6 176.1,265.2 177.9,264.7 179.5,264.1 181.1,263.3 182.6,262.5 184.1,261.6 185.4,260.6 186.5,259.5 187.5,258.4 188.4,257.3 189.0,256.2 189.5,255.2 189.8,254.3Z" fill="none" stroke="#808080" stroke-opacity="0.85" stroke-width="0.55"/>
<path d="M190.7,252.8 190.6,252.1 190.3,251.4 189.9,250.7 189.2,250.1 188.4,249.6 187.3,249.1 186.2,248.7 184.9,248.4 183.5,248.2 182.0,248.0 180.4,247.9 178.7,247.9 177.0,248.1 175.2,248.2 173.5,248.5 171.8,248.9 170.1,249.3 168.5,249.8 167.0,250.4 165.6,251.0 164.3,251.7 163.2,252.4 162.1,253.1 161.3,253.9 160.6,254.7 160.2,255.4 159.9,256.2 159.8,257.0 159.9,257.7 160.2,258.4 160.6,259.1 161.3,259.7 162.1,260.2 163.2,260.7 164.3,261.1 165.6,261.4 167.0,261.6 168.5,261.8 170.1,261.9 171.8,261.9 173.5,261.7 175.2,261.6 177.0,261.3 178.7,260.9 180.4,260.5 182.0,260.0 183.5,259.4 184.9,258.8 186.2,258.1 187.3,257.4 188.4,256.6 189.2,255.9 189.9,255.1 190.3,254.3 190.6,253.5ZM184.8,253.6 184.7,253.0 184.4,252.5 183.9,252.0 183.3,251.6 182.5,251.2 181.5,250.9 180.4,250.7 179.2,250.6 177.9,250.6 176.6,250.6 175.2,250.8 173.9,251.0 172.6,251.3 171.3,251.7 170.1,252.1 169.0,252.6 168.0,253.2 167.2,253.7 166.6,254.3 166.1,255.0 165.8,255.6 165.7,256.2 165.8,256.7 166.1,257.3 166.6,257.8 167.2,258.2 168.0,258.5 169.0,258.8 170.1,259.0 171.3,259.2 172.6,259.2 173.9,259.1 175.2,259.0 176.6,258.8 177.9,258.5 179.2,258.1 180.4,257.6 181.5,257.1 182.5,256.6 183.3,256.0 183.9,255.4 184.4,254.8 184.7,254.2Z" fill="#f3aea7" fill-rule="evenodd" fill-opacity="0.85"/><path d="M184.8,253.6 184.7,253.0 184.4,252.5 183.9,252.0 183.3,251.6 182.5,251.2 181.5,250.9 180.4,250.7 179.2,250.6 177.9,250.6 176.6,250.6 175.2,250.8 173.9,251.0 172.6,251.3 171.3,251.7 170.1,252.1 169.0,252.6 168.0,253.2 167.2,253.7 166.6,254.3 166.1,255.0 165.8,255.6 165.7,256.2 165.8,256.7 166.1,257.3 166.6,257.8 167.2,258.2 168.0,258.5 169.0,258.8 170.1,259.0 171.3,259.2 172.6,259.2 173.9,259.1 175.2,259.0 176.6,258.8 177.9,258.5 179.2,258.1 180.4,257.6 181.5,257.1 182.5,256.6 183.3,256.0 183.9,255.4 184.4,254.8 184.7,254.2Z" fill="#e03424" fill-opacity="0.85"/><path d="M190.7,252.8 190.6,252.1 190.3,251.4 189.9,250.7 189.2,250.1 188.4,249.6 187.3,249.1 186.2,248.7 184.9,248.4 183.5,248.2 182.0,248.0 180.4,247.9 178.7,247.9 177.0,248.1 175.2,248.2 173.5,248.5 171.8,248.9 170.1,249.3 168.5,249.8 167.0,250.4 165.6,251.0 164.3,251.7 163.2,252.4 162.1,253.1 161.3,253.9 160.6,254.7 160.2,255.4 159.9,256.2 159.8,257.0 159.9,257.7 160.2,258.4 160.6,259.1 161.3,259.7 162.1,260.2 163.2,260.7 164.3,261.1 165.6,261.4 167.0,261.6 168.5,261.8 170.1,261.9 171.8,261.9 173.5,261.7 175.2,261.6 177.0,261.3 178.7,260.9 180.4,260.5 182.0,260.0 183.5,259.4 184.9,258.8 186.2,258.1 187.3,257.4 188.4,256.6 189.2,255.9 189.9,255.1 190.3,254.3 190.6,253.5Z" fill="none" stroke="#e03424" stroke-opacity="0.85" stroke-width="0.55"/>
<path d="M190.1,254.5 190.0,254.3 189.7,254.1 189.2,253.9 188.5,253.7 187.7,253.5 186.7,253.4 185.5,253.2 184.2,253.1 182.8,253.1 181.3,253.0 179.7,253.0 178.0,253.0 176.3,253.0 174.6,253.1 172.9,253.2 171.1,253.3 169.5,253.4 167.9,253.6 166.4,253.8 164.9,254.0 163.6,254.2 162.5,254.4 161.5,254.7 160.6,254.9 160.0,255.1 159.5,255.4 159.2,255.6 159.1,255.8 159.2,256.1 159.5,256.3 160.0,256.5 160.6,256.7 161.5,256.8 162.5,257.0 163.6,257.1 164.9,257.2 166.4,257.3 167.9,257.3 169.5,257.3 171.1,257.3 172.9,257.3 174.6,257.2 176.3,257.1 178.0,257.0 179.7,256.9 181.3,256.7 182.8,256.6 184.2,256.4 185.5,256.2 186.7,256.0 187.7,255.7 188.5,255.5 189.2,255.3 189.7,255.0 190.0,254.8ZM184.1,254.8 184.0,254.5 183.7,254.4 183.3,254.2 182.6,254.0 181.8,253.9 180.8,253.8 179.7,253.7 178.5,253.7 177.3,253.7 175.9,253.7 174.6,253.7 173.2,253.8 171.9,253.9 170.6,254.1 169.4,254.2 168.3,254.4 167.4,254.6 166.6,254.8 165.9,255.0 165.4,255.2 165.1,255.5 165.0,255.7 165.1,255.9 165.4,256.1 165.9,256.3 166.6,256.4 167.4,256.6 168.3,256.7 169.4,256.8 170.6,256.8 171.9,256.8 173.2,256.8 174.6,256.7 175.9,256.7 177.3,256.5 178.5,256.4 179.7,256.2 180.8,256.0 181.8,255.8 182.6,255.6 183.3,255.4 183.7,255.2 184.0,255.0Z" fill="#99c5f8" fill-rule="evenodd" fill-opacity="0.85"/><path d="M184.1,254.8 184.0,254.5 183.7,254.4 183.3,254.2 182.6,254.0 181.8,253.9 180.8,253.8 179.7,253.7 178.5,253.7 177.3,253.7 175.9,253.7 174.6,253.7 173.2,253.8 171.9,253.9 170.6,254.1 169.4,254.2 168.3,254.4 167.4,254.6 166.6,254.8 165.9,255.0 165.4,255.2 165.1,255.5 165.0,255.7 165.1,255.9 165.4,256.1 165.9,256.3 166.6,256.4 167.4,256.6 168.3,256.7 169.4,256.8 170.6,256.8 171.9,256.8 173.2,256.8 174.6,256.7 175.9,256.7 177.3,256.5 178.5,256.4 179.7,256.2 180.8,256.0 181.8,255.8 182.6,255.6 183.3,255.4 183.7,255.2 184.0,255.0Z" fill="#006fed" fill-opacity="0.85"/><path d="M190.1,254.5 190.0,254.3 189.7,254.1 189.2,253.9 188.5,253.7 187.7,253.5 186.7,253.4 185.5,253.2 184.2,253.1 182.8,253.1 181.3,253.0 179.7,253.0 178.0,253.0 176.3,253.0 174.6,253.1 172.9,253.2 171.1,253.3 169.5,253.4 167.9,253.6 166.4,253.8 164.9,254.0 163.6,254.2 162.5,254.4 161.5,254.7 160.6,254.9 160.0,255.1 159.5,255.4 159.2,255.6 159.1,255.8 159.2,256.1 159.5,256.3 160.0,256.5 160.6,256.7 161.5,256.8 162.5,257.0 163.6,257.1 164.9,257.2 166.4,257.3 167.9,257.3 169.5,257.3 171.1,257.3 172.9,257.3 174.6,257.2 176.3,257.1 178.0,257.0 179.7,256.9 181.3,256.7 182.8,256.6 184.2,256.4 185.5,256.2 186.7,256.0 187.7,255.7 188.5,255.5 189.2,255.3 189.7,255.0 190.0,254.8Z" fill="none" stroke="#006fed" stroke-opacity="0.85" stroke-width="0.55"/>
</g>
<clipPath id="cL43"><rect x="202.45" y="239.33" width="55.45" height="56.93"/></clipPath>
<g clip-path="url(#cL43)">
<path d="M241.3,248.3 241.2,247.9 241.0,247.6 240.6,247.4 240.1,247.3 239.5,247.3 238.7,247.5 237.9,247.7 236.9,248.1 235.8,248.6 234.7,249.1 233.5,249.8 232.2,250.6 230.9,251.4 229.6,252.3 228.0,253.2 226.3,254.2 224.7,255.2 223.2,256.2 221.7,258.1 220.4,260.2 219.1,262.3 218.0,264.4 217.0,266.3 216.2,268.1 215.6,269.8 215.1,271.2 214.9,272.5 214.8,273.6 214.9,274.5 215.1,275.2 215.6,275.6 216.2,275.8 217.0,275.7 218.0,275.4 219.1,274.8 220.4,274.1 221.7,273.0 223.2,271.8 224.7,270.4 226.3,268.8 228.0,267.1 229.6,265.2 230.9,263.3 232.2,261.2 233.5,259.0 234.7,256.9 235.8,255.6 236.9,254.6 237.9,253.6 238.7,252.7 239.5,251.8 240.1,250.9 240.6,250.1 241.0,249.4 241.2,248.8ZM236.8,252.4 236.7,252.1 236.5,251.9 236.2,251.9 235.7,251.9 235.0,252.0 234.3,252.2 233.5,252.5 232.6,252.8 231.6,253.3 230.6,253.8 229.6,254.3 228.3,254.9 227.0,255.6 225.8,256.2 224.7,257.0 223.6,257.8 222.7,258.5 221.9,259.3 221.3,259.9 220.8,260.5 220.5,261.1 220.5,261.5 220.5,261.8 220.8,262.0 221.3,262.1 221.9,262.1 222.7,261.9 223.6,261.7 224.7,261.3 225.8,260.9 227.0,260.3 228.3,259.7 229.6,259.0 230.6,258.3 231.6,257.5 232.6,256.7 233.5,256.0 234.3,255.3 235.0,254.7 235.7,254.1 236.2,253.6 236.5,253.1 236.7,252.7Z" fill="#999cc2" fill-rule="evenodd" fill-opacity="1.0"/><path d="M236.8,252.4 236.7,252.1 236.5,251.9 236.2,251.9 235.7,251.9 235.0,252.0 234.3,252.2 233.5,252.5 232.6,252.8 231.6,253.3 230.6,253.8 229.6,254.3 228.3,254.9 227.0,255.6 225.8,256.2 224.7,257.0 223.6,257.8 222.7,258.5 221.9,259.3 221.3,259.9 220.8,260.5 220.5,261.1 220.5,261.5 220.5,261.8 220.8,262.0 221.3,262.1 221.9,262.1 222.7,261.9 223.6,261.7 224.7,261.3 225.8,260.9 227.0,260.3 228.3,259.7 229.6,259.0 230.6,258.3 231.6,257.5 232.6,256.7 233.5,256.0 234.3,255.3 235.0,254.7 235.7,254.1 236.2,253.6 236.5,253.1 236.7,252.7Z" fill="#000866" fill-opacity="1.0"/><path d="M241.3,248.3 241.2,247.9 241.0,247.6 240.6,247.4 240.1,247.3 239.5,247.3 238.7,247.5 237.9,247.7 236.9,248.1 235.8,248.6 234.7,249.1 233.5,249.8 232.2,250.6 230.9,251.4 229.6,252.3 228.0,253.2 226.3,254.2 224.7,255.2 223.2,256.2 221.7,258.1 220.4,260.2 219.1,262.3 218.0,264.4 217.0,266.3 216.2,268.1 215.6,269.8 215.1,271.2 214.9,272.5 214.8,273.6 214.9,274.5 215.1,275.2 215.6,275.6 216.2,275.8 217.0,275.7 218.0,275.4 219.1,274.8 220.4,274.1 221.7,273.0 223.2,271.8 224.7,270.4 226.3,268.8 228.0,267.1 229.6,265.2 230.9,263.3 232.2,261.2 233.5,259.0 234.7,256.9 235.8,255.6 236.9,254.6 237.9,253.6 238.7,252.7 239.5,251.8 240.1,250.9 240.6,250.1 241.0,249.4 241.2,248.8Z" fill="none" stroke="#000866" stroke-opacity="1.0" stroke-width="0.55"/>
<g transform="translate(233.78,254.07) rotate(142.6)"><path d="M14.16,0A14.16,4.59 0 1 0 -14.16,0A14.16,4.59 0 1 0 14.16,0ZM8.73,0A8.73,2.83 0 1 0 -8.73,0A8.73,2.83 0 1 0 8.73,0Z" fill="#99d6c2" fill-rule="evenodd" fill-opacity="0.85"/><ellipse rx="8.73" ry="2.83" fill="#009966" fill-opacity="0.85"/><ellipse rx="14.16" ry="4.59" fill="none" stroke="#009966" stroke-opacity="0.85" stroke-width="0.55"/></g>
<path d="M240.7,248.9 240.6,248.5 240.4,248.2 240.1,248.0 239.7,247.9 239.1,247.9 238.4,248.0 237.6,248.2 236.7,248.4 235.8,248.8 234.7,249.3 233.7,249.8 232.5,250.5 231.4,251.2 230.2,251.9 229.0,252.7 227.8,253.6 226.7,254.4 225.6,255.3 224.6,256.3 223.6,257.4 222.7,258.6 221.9,259.7 221.3,260.7 220.7,261.7 220.2,262.6 219.9,263.4 219.7,264.1 219.6,264.8 219.7,265.3 219.9,265.7 220.2,265.9 220.7,266.1 221.3,266.1 221.9,266.0 222.7,265.7 223.6,265.3 224.6,264.9 225.6,264.3 226.7,263.6 227.8,262.7 229.0,261.9 230.2,260.9 231.4,259.9 232.5,258.8 233.7,257.7 234.7,256.5 235.8,255.5 236.7,254.6 237.6,253.7 238.4,252.9 239.1,252.1 239.7,251.3 240.1,250.6 240.4,250.0 240.6,249.4ZM236.7,252.9 236.6,252.7 236.4,252.5 236.1,252.4 235.6,252.4 235.1,252.5 234.4,252.6 233.7,252.8 232.9,253.1 232.0,253.4 231.1,253.7 230.2,254.2 229.3,254.6 228.3,255.1 227.5,255.5 226.7,256.1 225.9,256.6 225.3,257.2 224.7,257.7 224.3,258.2 223.9,258.6 223.7,259.0 223.7,259.3 223.7,259.6 223.9,259.7 224.3,259.8 224.7,259.8 225.3,259.7 225.9,259.6 226.7,259.4 227.5,259.1 228.3,258.7 229.3,258.3 230.2,257.8 231.1,257.3 232.0,256.7 232.9,256.2 233.7,255.6 234.4,255.2 235.1,254.7 235.6,254.3 236.1,253.8 236.4,253.5 236.6,253.1Z" fill="#cccccc" fill-rule="evenodd" fill-opacity="0.85"/><path d="M236.7,252.9 236.6,252.7 236.4,252.5 236.1,252.4 235.6,252.4 235.1,252.5 234.4,252.6 233.7,252.8 232.9,253.1 232.0,253.4 231.1,253.7 230.2,254.2 229.3,254.6 228.3,255.1 227.5,255.5 226.7,256.1 225.9,256.6 225.3,257.2 224.7,257.7 224.3,258.2 223.9,258.6 223.7,259.0 223.7,259.3 223.7,259.6 223.9,259.7 224.3,259.8 224.7,259.8 225.3,259.7 225.9,259.6 226.7,259.4 227.5,259.1 228.3,258.7 229.3,258.3 230.2,257.8 231.1,257.3 232.0,256.7 232.9,256.2 233.7,255.6 234.4,255.2 235.1,254.7 235.6,254.3 236.1,253.8 236.4,253.5 236.6,253.1Z" fill="#808080" fill-opacity="0.85"/><path d="M240.7,248.9 240.6,248.5 240.4,248.2 240.1,248.0 239.7,247.9 239.1,247.9 238.4,248.0 237.6,248.2 236.7,248.4 235.8,248.8 234.7,249.3 233.7,249.8 232.5,250.5 231.4,251.2 230.2,251.9 229.0,252.7 227.8,253.6 226.7,254.4 225.6,255.3 224.6,256.3 223.6,257.4 222.7,258.6 221.9,259.7 221.3,260.7 220.7,261.7 220.2,262.6 219.9,263.4 219.7,264.1 219.6,264.8 219.7,265.3 219.9,265.7 220.2,265.9 220.7,266.1 221.3,266.1 221.9,266.0 222.7,265.7 223.6,265.3 224.6,264.9 225.6,264.3 226.7,263.6 227.8,262.7 229.0,261.9 230.2,260.9 231.4,259.9 232.5,258.8 233.7,257.7 234.7,256.5 235.8,255.5 236.7,254.6 237.6,253.7 238.4,252.9 239.1,252.1 239.7,251.3 240.1,250.6 240.4,250.0 240.6,249.4Z" fill="none" stroke="#808080" stroke-opacity="0.85" stroke-width="0.55"/>
<path d="M244.0,248.4 243.9,248.1 243.8,247.8 243.5,247.6 243.1,247.5 242.6,247.4 242.1,247.4 241.4,247.5 240.7,247.6 239.9,247.7 239.0,248.0 238.1,248.3 237.1,248.6 236.2,249.0 235.2,249.4 233.9,249.9 232.6,250.4 231.3,250.9 230.1,251.5 229.0,252.0 227.9,252.8 227.0,254.4 226.1,255.9 225.4,257.4 224.7,258.8 224.2,260.2 223.9,261.4 223.6,262.5 223.6,263.5 223.6,264.4 223.9,265.1 224.2,265.7 224.7,266.1 225.4,266.3 226.1,266.3 227.0,266.2 227.9,265.9 229.0,265.4 230.1,264.8 231.3,264.0 232.6,263.0 233.9,262.0 235.2,260.8 236.2,259.5 237.1,258.1 238.1,256.6 239.0,255.1 239.9,253.6 240.7,252.3 241.4,251.7 242.1,251.2 242.6,250.6 243.1,250.1 243.5,249.6 243.8,249.2 243.9,248.8ZM241.0,249.7 240.9,249.4 240.8,249.2 240.5,249.1 240.1,249.0 239.6,249.0 239.0,249.1 238.3,249.2 237.6,249.4 236.8,249.7 236.0,250.0 235.2,250.4 234.4,250.8 233.7,251.2 233.0,251.7 232.4,252.2 231.8,252.6 231.3,253.0 230.8,253.4 230.5,253.8 230.2,254.2 230.1,254.5 230.0,254.7 230.1,255.0 230.2,255.1 230.5,255.3 230.8,255.3 231.3,255.3 231.8,255.3 232.4,255.1 233.0,255.0 233.7,254.7 234.4,254.5 235.2,254.2 236.0,253.8 236.8,253.4 237.6,253.0 238.3,252.6 239.0,252.2 239.6,251.7 240.1,251.2 240.5,250.8 240.8,250.4 240.9,250.0Z" fill="#f3aea7" fill-rule="evenodd" fill-opacity="0.85"/><path d="M241.0,249.7 240.9,249.4 240.8,249.2 240.5,249.1 240.1,249.0 239.6,249.0 239.0,249.1 238.3,249.2 237.6,249.4 236.8,249.7 236.0,250.0 235.2,250.4 234.4,250.8 233.7,251.2 233.0,251.7 232.4,252.2 231.8,252.6 231.3,253.0 230.8,253.4 230.5,253.8 230.2,254.2 230.1,254.5 230.0,254.7 230.1,255.0 230.2,255.1 230.5,255.3 230.8,255.3 231.3,255.3 231.8,255.3 232.4,255.1 233.0,255.0 233.7,254.7 234.4,254.5 235.2,254.2 236.0,253.8 236.8,253.4 237.6,253.0 238.3,252.6 239.0,252.2 239.6,251.7 240.1,251.2 240.5,250.8 240.8,250.4 240.9,250.0Z" fill="#e03424" fill-opacity="0.85"/><path d="M244.0,248.4 243.9,248.1 243.8,247.8 243.5,247.6 243.1,247.5 242.6,247.4 242.1,247.4 241.4,247.5 240.7,247.6 239.9,247.7 239.0,248.0 238.1,248.3 237.1,248.6 236.2,249.0 235.2,249.4 233.9,249.9 232.6,250.4 231.3,250.9 230.1,251.5 229.0,252.0 227.9,252.8 227.0,254.4 226.1,255.9 225.4,257.4 224.7,258.8 224.2,260.2 223.9,261.4 223.6,262.5 223.6,263.5 223.6,264.4 223.9,265.1 224.2,265.7 224.7,266.1 225.4,266.3 226.1,266.3 227.0,266.2 227.9,265.9 229.0,265.4 230.1,264.8 231.3,264.0 232.6,263.0 233.9,262.0 235.2,260.8 236.2,259.5 237.1,258.1 238.1,256.6 239.0,255.1 239.9,253.6 240.7,252.3 241.4,251.7 242.1,251.2 242.6,250.6 243.1,250.1 243.5,249.6 243.8,249.2 243.9,248.8Z" fill="none" stroke="#e03424" stroke-opacity="0.85" stroke-width="0.55"/>
<path d="M239.4,253.0 239.3,252.6 239.2,252.2 239.0,251.9 238.8,251.6 238.4,251.3 238.0,251.1 237.5,250.9 237.0,250.7 236.4,250.6 235.8,250.6 235.2,250.6 234.5,250.7 233.8,250.8 233.1,250.9 232.4,251.1 231.7,251.4 231.0,251.7 230.4,252.0 229.8,252.3 229.2,252.7 228.7,253.1 228.2,253.5 227.8,253.9 227.5,254.4 227.2,254.8 227.0,255.3 226.9,255.7 226.8,256.1 226.9,256.5 227.0,256.9 227.2,257.2 227.5,257.5 227.8,257.8 228.2,258.0 228.7,258.2 229.2,258.3 229.8,258.4 230.4,258.5 231.0,258.4 231.7,258.4 232.4,258.3 233.1,258.1 233.8,257.9 234.5,257.7 235.2,257.4 235.8,257.1 236.4,256.7 237.0,256.4 237.5,256.0 238.0,255.5 238.4,255.1 238.8,254.7 239.0,254.2 239.2,253.8 239.3,253.4ZM237.2,253.6 237.2,253.3 237.1,253.0 236.8,252.8 236.6,252.6 236.2,252.4 235.8,252.3 235.3,252.2 234.8,252.2 234.3,252.2 233.7,252.3 233.1,252.4 232.5,252.5 232.0,252.7 231.4,253.0 230.9,253.2 230.4,253.5 230.0,253.8 229.7,254.2 229.4,254.5 229.2,254.8 229.1,255.2 229.0,255.5 229.1,255.8 229.2,256.0 229.4,256.3 229.7,256.5 230.0,256.6 230.4,256.8 230.9,256.8 231.4,256.9 232.0,256.8 232.5,256.8 233.1,256.7 233.7,256.5 234.3,256.3 234.8,256.1 235.3,255.8 235.8,255.5 236.2,255.2 236.6,254.9 236.8,254.6 237.1,254.2 237.2,253.9Z" fill="#99c5f8" fill-rule="evenodd" fill-opacity="0.85"/><path d="M237.2,253.6 237.2,253.3 237.1,253.0 236.8,252.8 236.6,252.6 236.2,252.4 235.8,252.3 235.3,252.2 234.8,252.2 234.3,252.2 233.7,252.3 233.1,252.4 232.5,252.5 232.0,252.7 231.4,253.0 230.9,253.2 230.4,253.5 230.0,253.8 229.7,254.2 229.4,254.5 229.2,254.8 229.1,255.2 229.0,255.5 229.1,255.8 229.2,256.0 229.4,256.3 229.7,256.5 230.0,256.6 230.4,256.8 230.9,256.8 231.4,256.9 232.0,256.8 232.5,256.8 233.1,256.7 233.7,256.5 234.3,256.3 234.8,256.1 235.3,255.8 235.8,255.5 236.2,255.2 236.6,254.9 236.8,254.6 237.1,254.2 237.2,253.9Z" fill="#006fed" fill-opacity="0.85"/><path d="M239.4,253.0 239.3,252.6 239.2,252.2 239.0,251.9 238.8,251.6 238.4,251.3 238.0,251.1 237.5,250.9 237.0,250.7 236.4,250.6 235.8,250.6 235.2,250.6 234.5,250.7 233.8,250.8 233.1,250.9 232.4,251.1 231.7,251.4 231.0,251.7 230.4,252.0 229.8,252.3 229.2,252.7 228.7,253.1 228.2,253.5 227.8,253.9 227.5,254.4 227.2,254.8 227.0,255.3 226.9,255.7 226.8,256.1 226.9,256.5 227.0,256.9 227.2,257.2 227.5,257.5 227.8,257.8 228.2,258.0 228.7,258.2 229.2,258.3 229.8,258.4 230.4,258.5 231.0,258.4 231.7,258.4 232.4,258.3 233.1,258.1 233.8,257.9 234.5,257.7 235.2,257.4 235.8,257.1 236.4,256.7 237.0,256.4 237.5,256.0 238.0,255.5 238.4,255.1 238.8,254.7 239.0,254.2 239.2,253.8 239.3,253.4Z" fill="none" stroke="#006fed" stroke-opacity="0.85" stroke-width="0.55"/>
</g>
<clipPath id="cL50"><rect x="26.86" y="298.55" width="55.45" height="56.93"/></clipPath>
<g clip-path="url(#cL50)">
<path d="M71.4,330.5 71.3,328.6 71.0,326.6 70.5,324.9 69.8,323.1 68.9,321.4 67.9,319.8 66.7,318.2 65.3,316.8 63.8,315.5 62.2,314.3 60.5,313.3 58.8,312.5 57.0,311.9 55.1,311.4 53.3,311.1 51.5,311.1 49.8,311.2 48.1,311.6 46.5,312.1 45.0,312.8 43.6,313.7 42.4,314.8 41.3,316.0 40.5,317.4 39.8,318.8 39.3,320.4 39.0,322.1 38.9,323.8 39.0,325.6 39.3,327.4 39.8,329.4 40.5,331.3 41.3,333.2 42.4,335.0 43.6,336.7 45.0,338.2 46.5,339.7 48.1,340.9 49.8,342.0 51.5,342.9 53.3,343.6 55.1,344.1 57.0,344.4 58.8,344.5 60.5,344.3 62.2,344.0 63.8,343.4 65.3,342.6 66.7,341.6 67.9,340.4 68.9,339.1 69.8,337.6 70.5,336.0 71.0,334.2 71.3,332.4ZM65.2,329.2 65.1,327.6 64.8,326.2 64.3,324.8 63.6,323.5 62.7,322.2 61.7,321.0 60.6,320.0 59.3,319.1 58.0,318.3 56.6,317.8 55.1,317.4 53.7,317.2 52.3,317.2 51.0,317.4 49.7,317.8 48.6,318.4 47.5,319.2 46.7,320.2 46.0,321.2 45.5,322.4 45.2,323.7 45.1,325.0 45.2,326.4 45.5,327.9 46.0,329.4 46.7,330.9 47.5,332.3 48.6,333.6 49.7,334.7 51.0,335.7 52.3,336.5 53.7,337.2 55.1,337.6 56.6,337.8 58.0,337.8 59.3,337.5 60.6,337.1 61.7,336.4 62.7,335.6 63.6,334.5 64.3,333.4 64.8,332.1 65.1,330.7Z" fill="#999cc2" fill-rule="evenodd" fill-opacity="1.0"/><path d="M65.2,329.2 65.1,327.6 64.8,326.2 64.3,324.8 63.6,323.5 62.7,322.2 61.7,321.0 60.6,320.0 59.3,319.1 58.0,318.3 56.6,317.8 55.1,317.4 53.7,317.2 52.3,317.2 51.0,317.4 49.7,317.8 48.6,318.4 47.5,319.2 46.7,320.2 46.0,321.2 45.5,322.4 45.2,323.7 45.1,325.0 45.2,326.4 45.5,327.9 46.0,329.4 46.7,330.9 47.5,332.3 48.6,333.6 49.7,334.7 51.0,335.7 52.3,336.5 53.7,337.2 55.1,337.6 56.6,337.8 58.0,337.8 59.3,337.5 60.6,337.1 61.7,336.4 62.7,335.6 63.6,334.5 64.3,333.4 64.8,332.1 65.1,330.7Z" fill="#000866" fill-opacity="1.0"/><path d="M71.4,330.5 71.3,328.6 71.0,326.6 70.5,324.9 69.8,323.1 68.9,321.4 67.9,319.8 66.7,318.2 65.3,316.8 63.8,315.5 62.2,314.3 60.5,313.3 58.8,312.5 57.0,311.9 55.1,311.4 53.3,311.1 51.5,311.1 49.8,311.2 48.1,311.6 46.5,312.1 45.0,312.8 43.6,313.7 42.4,314.8 41.3,316.0 40.5,317.4 39.8,318.8 39.3,320.4 39.0,322.1 38.9,323.8 39.0,325.6 39.3,327.4 39.8,329.4 40.5,331.3 41.3,333.2 42.4,335.0 43.6,336.7 45.0,338.2 46.5,339.7 48.1,340.9 49.8,342.0 51.5,342.9 53.3,343.6 55.1,344.1 57.0,344.4 58.8,344.5 60.5,344.3 62.2,344.0 63.8,343.4 65.3,342.6 66.7,341.6 67.9,340.4 68.9,339.1 69.8,337.6 70.5,336.0 71.0,334.2 71.3,332.4Z" fill="none" stroke="#000866" stroke-opacity="1.0" stroke-width="0.55"/>
<path d="M71.4,323.9 71.3,322.4 71.0,320.9 70.5,319.4 69.8,317.9 68.9,316.5 67.9,315.1 66.7,313.8 65.3,312.6 63.8,311.6 62.2,310.7 60.5,309.9 58.8,309.2 57.0,308.8 55.1,308.4 53.3,308.3 51.5,308.3 49.8,308.5 48.1,308.9 46.5,309.4 45.0,310.1 43.6,310.9 42.4,311.9 41.3,313.0 40.5,314.2 39.8,315.5 39.3,316.9 39.0,318.4 38.9,319.9 39.0,321.4 39.3,322.9 39.8,324.4 40.5,325.8 41.3,327.3 42.4,328.6 43.6,329.9 45.0,331.0 46.5,332.1 48.1,333.0 49.8,333.8 51.5,334.4 53.3,334.9 55.1,335.2 57.0,335.3 58.8,335.3 60.5,335.1 62.2,334.7 63.8,334.2 65.3,333.5 66.7,332.7 67.9,331.7 68.9,330.7 69.8,329.5 70.5,328.2 71.0,326.8 71.3,325.4ZM65.2,323.1 65.1,322.0 64.8,320.8 64.3,319.6 63.6,318.5 62.7,317.4 61.7,316.4 60.6,315.6 59.3,314.9 58.0,314.3 56.6,313.9 55.1,313.6 53.7,313.5 52.3,313.6 51.0,313.8 49.7,314.2 48.6,314.8 47.5,315.5 46.7,316.3 46.0,317.3 45.5,318.3 45.2,319.5 45.1,320.6 45.2,321.8 45.5,323.0 46.0,324.2 46.7,325.3 47.5,326.3 48.6,327.3 49.7,328.1 51.0,328.8 52.3,329.4 53.7,329.8 55.1,330.1 56.6,330.2 58.0,330.1 59.3,329.9 60.6,329.5 61.7,328.9 62.7,328.2 63.6,327.4 64.3,326.4 64.8,325.4 65.1,324.3Z" fill="#99d6c2" fill-rule="evenodd" fill-opacity="0.85"/><path d="M65.2,323.1 65.1,322.0 64.8,320.8 64.3,319.6 63.6,318.5 62.7,317.4 61.7,316.4 60.6,315.6 59.3,314.9 58.0,314.3 56.6,313.9 55.1,313.6 53.7,313.5 52.3,313.6 51.0,313.8 49.7,314.2 48.6,314.8 47.5,315.5 46.7,316.3 46.0,317.3 45.5,318.3 45.2,319.5 45.1,320.6 45.2,321.8 45.5,323.0 46.0,324.2 46.7,325.3 47.5,326.3 48.6,327.3 49.7,328.1 51.0,328.8 52.3,329.4 53.7,329.8 55.1,330.1 56.6,330.2 58.0,330.1 59.3,329.9 60.6,329.5 61.7,328.9 62.7,328.2 63.6,327.4 64.3,326.4 64.8,325.4 65.1,324.3Z" fill="#009966" fill-opacity="0.85"/><path d="M71.4,323.9 71.3,322.4 71.0,320.9 70.5,319.4 69.8,317.9 68.9,316.5 67.9,315.1 66.7,313.8 65.3,312.6 63.8,311.6 62.2,310.7 60.5,309.9 58.8,309.2 57.0,308.8 55.1,308.4 53.3,308.3 51.5,308.3 49.8,308.5 48.1,308.9 46.5,309.4 45.0,310.1 43.6,310.9 42.4,311.9 41.3,313.0 40.5,314.2 39.8,315.5 39.3,316.9 39.0,318.4 38.9,319.9 39.0,321.4 39.3,322.9 39.8,324.4 40.5,325.8 41.3,327.3 42.4,328.6 43.6,329.9 45.0,331.0 46.5,332.1 48.1,333.0 49.8,333.8 51.5,334.4 53.3,334.9 55.1,335.2 57.0,335.3 58.8,335.3 60.5,335.1 62.2,334.7 63.8,334.2 65.3,333.5 66.7,332.7 67.9,331.7 68.9,330.7 69.8,329.5 70.5,328.2 71.0,326.8 71.3,325.4Z" fill="none" stroke="#009966" stroke-opacity="0.85" stroke-width="0.55"/>
<g transform="translate(55.14,325.31) rotate(-167.8)"><path d="M16.43,0A16.43,12.92 0 1 0 -16.43,0A16.43,12.92 0 1 0 16.43,0ZM10.13,0A10.13,7.97 0 1 0 -10.13,0A10.13,7.97 0 1 0 10.13,0Z" fill="#cccccc" fill-rule="evenodd" fill-opacity="0.85"/><ellipse rx="10.13" ry="7.97" fill="#808080" fill-opacity="0.85"/><ellipse rx="16.43" ry="12.92" fill="none" stroke="#808080" stroke-opacity="0.85" stroke-width="0.55"/></g>
<path d="M71.4,321.9 71.3,320.6 71.0,319.4 70.5,318.2 69.8,317.0 68.9,315.9 67.9,314.9 66.7,314.0 65.3,313.1 63.8,312.4 62.2,311.8 60.5,311.3 58.8,311.0 57.0,310.7 55.1,310.7 53.3,310.7 51.5,311.0 49.8,311.3 48.1,311.8 46.5,312.4 45.0,313.1 43.6,314.0 42.4,314.9 41.3,315.9 40.5,317.0 39.8,318.2 39.3,319.4 39.0,320.6 38.9,321.9 39.0,323.2 39.3,324.5 39.8,325.7 40.5,326.9 41.3,328.0 42.4,329.1 43.6,330.0 45.0,330.9 46.5,331.6 48.1,332.3 49.8,332.7 51.5,333.1 53.3,333.3 55.1,333.4 57.0,333.3 58.8,333.1 60.5,332.7 62.2,332.3 63.8,331.6 65.3,330.9 66.7,330.0 67.9,329.1 68.9,328.0 69.8,326.9 70.5,325.7 71.0,324.5 71.3,323.2ZM65.2,321.9 65.1,320.9 64.8,319.9 64.3,319.0 63.6,318.2 62.7,317.4 61.7,316.7 60.6,316.1 59.3,315.6 58.0,315.3 56.6,315.0 55.1,315.0 53.7,315.0 52.3,315.3 51.0,315.6 49.7,316.1 48.6,316.7 47.5,317.4 46.7,318.2 46.0,319.0 45.5,319.9 45.2,320.9 45.1,321.9 45.2,322.9 45.5,323.9 46.0,324.8 46.7,325.7 47.5,326.5 48.6,327.3 49.7,327.9 51.0,328.3 52.3,328.7 53.7,328.9 55.1,329.0 56.6,328.9 58.0,328.7 59.3,328.3 60.6,327.9 61.7,327.3 62.7,326.5 63.6,325.7 64.3,324.8 64.8,323.9 65.1,322.9Z" fill="#f3aea7" fill-rule="evenodd" fill-opacity="0.85"/><path d="M65.2,321.9 65.1,320.9 64.8,319.9 64.3,319.0 63.6,318.2 62.7,317.4 61.7,316.7 60.6,316.1 59.3,315.6 58.0,315.3 56.6,315.0 55.1,315.0 53.7,315.0 52.3,315.3 51.0,315.6 49.7,316.1 48.6,316.7 47.5,317.4 46.7,318.2 46.0,319.0 45.5,319.9 45.2,320.9 45.1,321.9 45.2,322.9 45.5,323.9 46.0,324.8 46.7,325.7 47.5,326.5 48.6,327.3 49.7,327.9 51.0,328.3 52.3,328.7 53.7,328.9 55.1,329.0 56.6,328.9 58.0,328.7 59.3,328.3 60.6,327.9 61.7,327.3 62.7,326.5 63.6,325.7 64.3,324.8 64.8,323.9 65.1,322.9Z" fill="#e03424" fill-opacity="0.85"/><path d="M71.4,321.9 71.3,320.6 71.0,319.4 70.5,318.2 69.8,317.0 68.9,315.9 67.9,314.9 66.7,314.0 65.3,313.1 63.8,312.4 62.2,311.8 60.5,311.3 58.8,311.0 57.0,310.7 55.1,310.7 53.3,310.7 51.5,311.0 49.8,311.3 48.1,311.8 46.5,312.4 45.0,313.1 43.6,314.0 42.4,314.9 41.3,315.9 40.5,317.0 39.8,318.2 39.3,319.4 39.0,320.6 38.9,321.9 39.0,323.2 39.3,324.5 39.8,325.7 40.5,326.9 41.3,328.0 42.4,329.1 43.6,330.0 45.0,330.9 46.5,331.6 48.1,332.3 49.8,332.7 51.5,333.1 53.3,333.3 55.1,333.4 57.0,333.3 58.8,333.1 60.5,332.7 62.2,332.3 63.8,331.6 65.3,330.9 66.7,330.0 67.9,329.1 68.9,328.0 69.8,326.9 70.5,325.7 71.0,324.5 71.3,323.2Z" fill="none" stroke="#e03424" stroke-opacity="0.85" stroke-width="0.55"/>
<path d="M71.4,323.0 71.3,322.1 71.0,321.1 70.5,320.2 69.8,319.3 68.9,318.4 67.9,317.6 66.7,316.9 65.3,316.3 63.8,315.7 62.2,315.2 60.5,314.9 58.8,314.6 57.0,314.4 55.1,314.4 53.3,314.4 51.5,314.6 49.8,314.9 48.1,315.2 46.5,315.7 45.0,316.3 43.6,316.9 42.4,317.6 41.3,318.4 40.5,319.3 39.8,320.2 39.3,321.1 39.0,322.1 38.9,323.0 39.0,324.0 39.3,324.9 39.8,325.9 40.5,326.8 41.3,327.6 42.4,328.4 43.6,329.1 45.0,329.8 46.5,330.3 48.1,330.8 49.8,331.1 51.5,331.4 53.3,331.6 55.1,331.6 57.0,331.6 58.8,331.4 60.5,331.1 62.2,330.8 63.8,330.3 65.3,329.8 66.7,329.1 67.9,328.4 68.9,327.6 69.8,326.8 70.5,325.9 71.0,324.9 71.3,324.0ZM65.2,323.0 65.1,322.2 64.8,321.5 64.3,320.7 63.6,320.0 62.7,319.4 61.7,318.9 60.6,318.4 59.3,318.0 58.0,317.7 56.6,317.6 55.1,317.5 53.7,317.6 52.3,317.7 51.0,318.0 49.7,318.4 48.6,318.9 47.5,319.4 46.7,320.0 46.0,320.7 45.5,321.5 45.2,322.2 45.1,323.0 45.2,323.7 45.5,324.4 46.0,325.1 46.7,325.7 47.5,326.2 48.6,326.7 49.7,327.1 51.0,327.5 52.3,327.7 53.7,327.9 55.1,327.9 56.6,327.9 58.0,327.7 59.3,327.5 60.6,327.1 61.7,326.7 62.7,326.2 63.6,325.7 64.3,325.1 64.8,324.4 65.1,323.7Z" fill="#99c5f8" fill-rule="evenodd" fill-opacity="0.85"/><path d="M65.2,323.0 65.1,322.2 64.8,321.5 64.3,320.7 63.6,320.0 62.7,319.4 61.7,318.9 60.6,318.4 59.3,318.0 58.0,317.7 56.6,317.6 55.1,317.5 53.7,317.6 52.3,317.7 51.0,318.0 49.7,318.4 48.6,318.9 47.5,319.4 46.7,320.0 46.0,320.7 45.5,321.5 45.2,322.2 45.1,323.0 45.2,323.7 45.5,324.4 46.0,325.1 46.7,325.7 47.5,326.2 48.6,326.7 49.7,327.1 51.0,327.5 52.3,327.7 53.7,327.9 55.1,327.9 56.6,327.9 58.0,327.7 59.3,327.5 60.6,327.1 61.7,326.7 62.7,326.2 63.6,325.7 64.3,325.1 64.8,324.4 65.1,323.7Z" fill="#006fed" fill-opacity="0.85"/><path d="M71.4,323.0 71.3,322.1 71.0,321.1 70.5,320.2 69.8,319.3 68.9,318.4 67.9,317.6 66.7,316.9 65.3,316.3 63.8,315.7 62.2,315.2 60.5,314.9 58.8,314.6 57.0,314.4 55.1,314.4 53.3,314.4 51.5,314.6 49.8,314.9 48.1,315.2 46.5,315.7 45.0,316.3 43.6,316.9 42.4,317.6 41.3,318.4 40.5,319.3 39.8,320.2 39.3,321.1 39.0,322.1 38.9,323.0 39.0,324.0 39.3,324.9 39.8,325.9 40.5,326.8 41.3,327.6 42.4,328.4 43.6,329.1 45.0,329.8 46.5,330.3 48.1,330.8 49.8,331.1 51.5,331.4 53.3,331.6 55.1,331.6 57.0,331.6 58.8,331.4 60.5,331.1 62.2,330.8 63.8,330.3 65.3,329.8 66.7,329.1 67.9,328.4 68.9,327.6 69.8,326.8 70.5,325.9 71.0,324.9 71.3,324.0Z" fill="none" stroke="#006fed" stroke-opacity="0.85" stroke-width="0.55"/>
</g>
<clipPath id="cL51"><rect x="85.39" y="298.55" width="55.45" height="56.93"/></clipPath>
<g clip-path="url(#cL51)">
<path d="M130.9,329.1 130.8,327.2 130.5,325.4 130.0,323.6 129.2,321.9 128.3,320.2 127.2,318.6 125.9,317.2 124.5,315.8 123.0,314.6 121.3,313.6 119.6,312.7 117.7,312.0 115.8,311.5 113.9,311.2 112.0,311.1 110.2,311.2 108.3,311.4 106.6,311.9 104.9,312.6 103.4,313.4 102.0,314.5 100.7,315.7 99.6,317.0 98.7,318.4 97.9,320.0 97.4,321.6 97.1,323.3 97.0,325.1 97.1,326.9 97.4,328.8 97.9,330.8 98.7,332.7 99.6,334.5 100.7,336.2 102.0,337.8 103.4,339.3 104.9,340.6 106.6,341.7 108.3,342.7 110.2,343.5 112.0,344.0 113.9,344.4 115.8,344.5 117.7,344.4 119.6,344.1 121.3,343.6 123.0,342.8 124.5,341.9 125.9,340.8 127.2,339.5 128.3,338.0 129.2,336.4 130.0,334.7 130.5,332.9 130.8,331.0ZM124.4,328.3 124.3,326.8 124.0,325.4 123.5,324.0 122.7,322.7 121.9,321.5 120.8,320.4 119.6,319.4 118.3,318.6 116.9,318.0 115.4,317.5 113.9,317.3 112.5,317.2 111.0,317.3 109.6,317.6 108.3,318.2 107.1,318.9 106.0,319.7 105.1,320.7 104.4,321.9 103.9,323.1 103.6,324.5 103.5,325.8 103.6,327.3 103.9,328.8 104.4,330.3 105.1,331.7 106.0,333.0 107.1,334.3 108.3,335.3 109.6,336.2 111.0,336.9 112.5,337.4 113.9,337.7 115.4,337.8 116.9,337.6 118.3,337.3 119.6,336.7 120.8,335.9 121.9,335.0 122.7,333.9 123.5,332.6 124.0,331.3 124.3,329.8Z" fill="#999cc2" fill-rule="evenodd" fill-opacity="1.0"/><path d="M124.4,328.3 124.3,326.8 124.0,325.4 123.5,324.0 122.7,322.7 121.9,321.5 120.8,320.4 119.6,319.4 118.3,318.6 116.9,318.0 115.4,317.5 113.9,317.3 112.5,317.2 111.0,317.3 109.6,317.6 108.3,318.2 107.1,318.9 106.0,319.7 105.1,320.7 104.4,321.9 103.9,323.1 103.6,324.5 103.5,325.8 103.6,327.3 103.9,328.8 104.4,330.3 105.1,331.7 106.0,333.0 107.1,334.3 108.3,335.3 109.6,336.2 111.0,336.9 112.5,337.4 113.9,337.7 115.4,337.8 116.9,337.6 118.3,337.3 119.6,336.7 120.8,335.9 121.9,335.0 122.7,333.9 123.5,332.6 124.0,331.3 124.3,329.8Z" fill="#000866" fill-opacity="1.0"/><path d="M130.9,329.1 130.8,327.2 130.5,325.4 130.0,323.6 129.2,321.9 128.3,320.2 127.2,318.6 125.9,317.2 124.5,315.8 123.0,314.6 121.3,313.6 119.6,312.7 117.7,312.0 115.8,311.5 113.9,311.2 112.0,311.1 110.2,311.2 108.3,311.4 106.6,311.9 104.9,312.6 103.4,313.4 102.0,314.5 100.7,315.7 99.6,317.0 98.7,318.4 97.9,320.0 97.4,321.6 97.1,323.3 97.0,325.1 97.1,326.9 97.4,328.8 97.9,330.8 98.7,332.7 99.6,334.5 100.7,336.2 102.0,337.8 103.4,339.3 104.9,340.6 106.6,341.7 108.3,342.7 110.2,343.5 112.0,344.0 113.9,344.4 115.8,344.5 117.7,344.4 119.6,344.1 121.3,343.6 123.0,342.8 124.5,341.9 125.9,340.8 127.2,339.5 128.3,338.0 129.2,336.4 130.0,334.7 130.5,332.9 130.8,331.0Z" fill="none" stroke="#000866" stroke-opacity="1.0" stroke-width="0.55"/>
<path d="M130.9,323.2 130.8,321.7 130.5,320.2 130.0,318.7 129.2,317.2 128.3,315.8 127.2,314.5 125.9,313.3 124.5,312.2 123.0,311.2 121.3,310.3 119.6,309.6 117.7,309.0 115.8,308.6 113.9,308.4 112.0,308.3 110.2,308.4 108.3,308.7 106.6,309.1 104.9,309.7 103.4,310.5 102.0,311.4 100.7,312.4 99.6,313.5 98.7,314.8 97.9,316.1 97.4,317.6 97.1,319.0 97.0,320.5 97.1,322.1 97.4,323.6 97.9,325.0 98.7,326.5 99.6,327.9 100.7,329.2 102.0,330.4 103.4,331.5 104.9,332.5 106.6,333.4 108.3,334.1 110.2,334.6 112.0,335.0 113.9,335.3 115.8,335.3 117.7,335.2 119.6,335.0 121.3,334.5 123.0,333.9 124.5,333.2 125.9,332.3 127.2,331.3 128.3,330.1 129.2,328.9 130.0,327.6 130.5,326.2 130.8,324.7ZM124.4,322.7 124.3,321.5 124.0,320.3 123.5,319.2 122.7,318.1 121.9,317.1 120.8,316.1 119.6,315.3 118.3,314.6 116.9,314.1 115.4,313.7 113.9,313.5 112.5,313.5 111.0,313.6 109.6,313.9 108.3,314.4 107.1,315.0 106.0,315.8 105.1,316.7 104.4,317.7 103.9,318.7 103.6,319.9 103.5,321.1 103.6,322.2 103.9,323.4 104.4,324.6 105.1,325.7 106.0,326.7 107.1,327.6 108.3,328.4 109.6,329.0 111.0,329.6 112.5,329.9 113.9,330.1 115.4,330.2 116.9,330.0 118.3,329.7 119.6,329.3 120.8,328.7 121.9,327.9 122.7,327.0 123.5,326.1 124.0,325.0 124.3,323.9Z" fill="#99d6c2" fill-rule="evenodd" fill-opacity="0.85"/><path d="M124.4,322.7 124.3,321.5 124.0,320.3 123.5,319.2 122.7,318.1 121.9,317.1 120.8,316.1 119.6,315.3 118.3,314.6 116.9,314.1 115.4,313.7 113.9,313.5 112.5,313.5 111.0,313.6 109.6,313.9 108.3,314.4 107.1,315.0 106.0,315.8 105.1,316.7 104.4,317.7 103.9,318.7 103.6,319.9 103.5,321.1 103.6,322.2 103.9,323.4 104.4,324.6 105.1,325.7 106.0,326.7 107.1,327.6 108.3,328.4 109.6,329.0 111.0,329.6 112.5,329.9 113.9,330.1 115.4,330.2 116.9,330.0 118.3,329.7 119.6,329.3 120.8,328.7 121.9,327.9 122.7,327.0 123.5,326.1 124.0,325.0 124.3,323.9Z" fill="#009966" fill-opacity="0.85"/><path d="M130.9,323.2 130.8,321.7 130.5,320.2 130.0,318.7 129.2,317.2 128.3,315.8 127.2,314.5 125.9,313.3 124.5,312.2 123.0,311.2 121.3,310.3 119.6,309.6 117.7,309.0 115.8,308.6 113.9,308.4 112.0,308.3 110.2,308.4 108.3,308.7 106.6,309.1 104.9,309.7 103.4,310.5 102.0,311.4 100.7,312.4 99.6,313.5 98.7,314.8 97.9,316.1 97.4,317.6 97.1,319.0 97.0,320.5 97.1,322.1 97.4,323.6 97.9,325.0 98.7,326.5 99.6,327.9 100.7,329.2 102.0,330.4 103.4,331.5 104.9,332.5 106.6,333.4 108.3,334.1 110.2,334.6 112.0,335.0 113.9,335.3 115.8,335.3 117.7,335.2 119.6,335.0 121.3,334.5 123.0,333.9 124.5,333.2 125.9,332.3 127.2,331.3 128.3,330.1 129.2,328.9 130.0,327.6 130.5,326.2 130.8,324.7Z" fill="none" stroke="#009966" stroke-opacity="0.85" stroke-width="0.55"/>
<g transform="translate(113.95,325.31) rotate(0.0)"><path d="M16.97,0A16.97,13.09 0 1 0 -16.97,0A16.97,13.09 0 1 0 16.97,0ZM10.46,0A10.46,8.08 0 1 0 -10.46,0A10.46,8.08 0 1 0 10.46,0Z" fill="#cccccc" fill-rule="evenodd" fill-opacity="0.85"/><ellipse rx="10.46" ry="8.08" fill="#808080" fill-opacity="0.85"/><ellipse rx="16.97" ry="13.09" fill="none" stroke="#808080" stroke-opacity="0.85" stroke-width="0.55"/></g>
<path d="M130.9,321.9 130.8,320.6 130.5,319.4 130.0,318.2 129.2,317.0 128.3,315.9 127.2,314.9 125.9,314.0 124.5,313.1 123.0,312.4 121.3,311.8 119.6,311.3 117.7,311.0 115.8,310.7 113.9,310.7 112.0,310.7 110.2,311.0 108.3,311.3 106.6,311.8 104.9,312.4 103.4,313.1 102.0,314.0 100.7,314.9 99.6,315.9 98.7,317.0 97.9,318.2 97.4,319.4 97.1,320.6 97.0,321.9 97.1,323.2 97.4,324.5 97.9,325.7 98.7,326.9 99.6,328.0 100.7,329.1 102.0,330.0 103.4,330.9 104.9,331.6 106.6,332.3 108.3,332.7 110.2,333.1 112.0,333.3 113.9,333.4 115.8,333.3 117.7,333.1 119.6,332.7 121.3,332.3 123.0,331.6 124.5,330.9 125.9,330.0 127.2,329.1 128.3,328.0 129.2,326.9 130.0,325.7 130.5,324.5 130.8,323.2ZM124.4,321.9 124.3,320.9 124.0,319.9 123.5,319.0 122.7,318.2 121.9,317.4 120.8,316.7 119.6,316.1 118.3,315.6 116.9,315.3 115.4,315.0 113.9,315.0 112.5,315.0 111.0,315.3 109.6,315.6 108.3,316.1 107.1,316.7 106.0,317.4 105.1,318.2 104.4,319.0 103.9,319.9 103.6,320.9 103.5,321.9 103.6,322.9 103.9,323.9 104.4,324.8 105.1,325.7 106.0,326.5 107.1,327.3 108.3,327.9 109.6,328.3 111.0,328.7 112.5,328.9 113.9,329.0 115.4,328.9 116.9,328.7 118.3,328.3 119.6,327.9 120.8,327.3 121.9,326.5 122.7,325.7 123.5,324.8 124.0,323.9 124.3,322.9Z" fill="#f3aea7" fill-rule="evenodd" fill-opacity="0.85"/><path d="M124.4,321.9 124.3,320.9 124.0,319.9 123.5,319.0 122.7,318.2 121.9,317.4 120.8,316.7 119.6,316.1 118.3,315.6 116.9,315.3 115.4,315.0 113.9,315.0 112.5,315.0 111.0,315.3 109.6,315.6 108.3,316.1 107.1,316.7 106.0,317.4 105.1,318.2 104.4,319.0 103.9,319.9 103.6,320.9 103.5,321.9 103.6,322.9 103.9,323.9 104.4,324.8 105.1,325.7 106.0,326.5 107.1,327.3 108.3,327.9 109.6,328.3 111.0,328.7 112.5,328.9 113.9,329.0 115.4,328.9 116.9,328.7 118.3,328.3 119.6,327.9 120.8,327.3 121.9,326.5 122.7,325.7 123.5,324.8 124.0,323.9 124.3,322.9Z" fill="#e03424" fill-opacity="0.85"/><path d="M130.9,321.9 130.8,320.6 130.5,319.4 130.0,318.2 129.2,317.0 128.3,315.9 127.2,314.9 125.9,314.0 124.5,313.1 123.0,312.4 121.3,311.8 119.6,311.3 117.7,311.0 115.8,310.7 113.9,310.7 112.0,310.7 110.2,311.0 108.3,311.3 106.6,311.8 104.9,312.4 103.4,313.1 102.0,314.0 100.7,314.9 99.6,315.9 98.7,317.0 97.9,318.2 97.4,319.4 97.1,320.6 97.0,321.9 97.1,323.2 97.4,324.5 97.9,325.7 98.7,326.9 99.6,328.0 100.7,329.1 102.0,330.0 103.4,330.9 104.9,331.6 106.6,332.3 108.3,332.7 110.2,333.1 112.0,333.3 113.9,333.4 115.8,333.3 117.7,333.1 119.6,332.7 121.3,332.3 123.0,331.6 124.5,330.9 125.9,330.0 127.2,329.1 128.3,328.0 129.2,326.9 130.0,325.7 130.5,324.5 130.8,323.2Z" fill="none" stroke="#e03424" stroke-opacity="0.85" stroke-width="0.55"/>
<path d="M130.9,323.0 130.8,322.1 130.5,321.1 130.0,320.2 129.2,319.3 128.3,318.4 127.2,317.6 125.9,316.9 124.5,316.3 123.0,315.7 121.3,315.2 119.6,314.9 117.7,314.6 115.8,314.4 113.9,314.4 112.0,314.4 110.2,314.6 108.3,314.9 106.6,315.2 104.9,315.7 103.4,316.3 102.0,316.9 100.7,317.6 99.6,318.4 98.7,319.3 97.9,320.2 97.4,321.1 97.1,322.1 97.0,323.0 97.1,324.0 97.4,324.9 97.9,325.9 98.7,326.8 99.6,327.6 100.7,328.4 102.0,329.1 103.4,329.8 104.9,330.3 106.6,330.8 108.3,331.1 110.2,331.4 112.0,331.6 113.9,331.6 115.8,331.6 117.7,331.4 119.6,331.1 121.3,330.8 123.0,330.3 124.5,329.8 125.9,329.1 127.2,328.4 128.3,327.6 129.2,326.8 130.0,325.9 130.5,324.9 130.8,324.0ZM124.4,323.0 124.3,322.2 124.0,321.5 123.5,320.7 122.7,320.0 121.9,319.4 120.8,318.9 119.6,318.4 118.3,318.0 116.9,317.7 115.4,317.6 113.9,317.5 112.5,317.6 111.0,317.7 109.6,318.0 108.3,318.4 107.1,318.9 106.0,319.4 105.1,320.0 104.4,320.7 103.9,321.5 103.6,322.2 103.5,323.0 103.6,323.7 103.9,324.4 104.4,325.1 105.1,325.7 106.0,326.2 107.1,326.7 108.3,327.1 109.6,327.5 111.0,327.7 112.5,327.9 113.9,327.9 115.4,327.9 116.9,327.7 118.3,327.5 119.6,327.1 120.8,326.7 121.9,326.2 122.7,325.7 123.5,325.1 124.0,324.4 124.3,323.7Z" fill="#99c5f8" fill-rule="evenodd" fill-opacity="0.85"/><path d="M124.4,323.0 124.3,322.2 124.0,321.5 123.5,320.7 122.7,320.0 121.9,319.4 120.8,318.9 119.6,318.4 118.3,318.0 116.9,317.7 115.4,317.6 113.9,317.5 112.5,317.6 111.0,317.7 109.6,318.0 108.3,318.4 107.1,318.9 106.0,319.4 105.1,320.0 104.4,320.7 103.9,321.5 103.6,322.2 103.5,323.0 103.6,323.7 103.9,324.4 104.4,325.1 105.1,325.7 106.0,326.2 107.1,326.7 108.3,327.1 109.6,327.5 111.0,327.7 112.5,327.9 113.9,327.9 115.4,327.9 116.9,327.7 118.3,327.5 119.6,327.1 120.8,326.7 121.9,326.2 122.7,325.7 123.5,325.1 124.0,324.4 124.3,323.7Z" fill="#006fed" fill-opacity="0.85"/><path d="M130.9,323.0 130.8,322.1 130.5,321.1 130.0,320.2 129.2,319.3 128.3,318.4 127.2,317.6 125.9,316.9 124.5,316.3 123.0,315.7 121.3,315.2 119.6,314.9 117.7,314.6 115.8,314.4 113.9,314.4 112.0,314.4 110.2,314.6 108.3,314.9 106.6,315.2 104.9,315.7 103.4,316.3 102.0,316.9 100.7,317.6 99.6,318.4 98.7,319.3 97.9,320.2 97.4,321.1 97.1,322.1 97.0,323.0 97.1,324.0 97.4,324.9 97.9,325.9 98.7,326.8 99.6,327.6 100.7,328.4 102.0,329.1 103.4,329.8 104.9,330.3 106.6,330.8 108.3,331.1 110.2,331.4 112.0,331.6 113.9,331.6 115.8,331.6 117.7,331.4 119.6,331.1 121.3,330.8 123.0,330.3 124.5,329.8 125.9,329.1 127.2,328.4 128.3,327.6 129.2,326.8 130.0,325.9 130.5,324.9 130.8,324.0Z" fill="none" stroke="#006fed" stroke-opacity="0.85" stroke-width="0.55"/>
</g>
<clipPath id="cL52"><rect x="143.92" y="298.55" width="55.45" height="56.93"/></clipPath>
<g clip-path="url(#cL52)">
<path d="M189.9,324.6 189.8,322.9 189.5,321.2 189.0,319.6 188.4,318.0 187.5,316.6 186.5,315.3 185.4,314.2 184.1,313.2 182.6,312.4 181.1,311.8 179.5,311.3 177.9,311.1 176.1,311.1 174.4,311.3 172.7,311.6 171.0,312.2 169.3,312.9 167.7,313.9 166.2,314.9 164.8,316.2 163.5,317.6 162.3,319.1 161.3,320.7 160.5,322.3 159.8,324.1 159.3,325.8 159.0,327.7 158.9,329.6 159.0,331.6 159.3,333.4 159.8,335.2 160.5,336.9 161.3,338.4 162.3,339.8 163.5,341.1 164.8,342.2 166.2,343.0 167.7,343.7 169.3,344.2 171.0,344.4 172.7,344.5 174.4,344.3 176.1,343.9 177.9,343.3 179.5,342.5 181.1,341.4 182.6,340.3 184.1,338.9 185.4,337.4 186.5,335.7 187.5,334.0 188.4,332.2 189.0,330.2 189.5,328.3 189.8,326.4ZM184.0,325.5 183.9,324.2 183.6,322.9 183.1,321.6 182.4,320.5 181.6,319.5 180.7,318.7 179.6,318.0 178.4,317.6 177.1,317.3 175.8,317.2 174.4,317.3 173.1,317.6 171.7,318.1 170.5,318.8 169.3,319.6 168.2,320.6 167.2,321.8 166.4,323.0 165.7,324.3 165.3,325.7 165.0,327.1 164.9,328.6 165.0,330.1 165.3,331.6 165.7,332.9 166.4,334.1 167.2,335.2 168.2,336.1 169.3,336.9 170.5,337.4 171.7,337.7 173.1,337.8 174.4,337.7 175.8,337.3 177.1,336.8 178.4,336.0 179.6,335.1 180.7,334.0 181.6,332.8 182.4,331.4 183.1,330.0 183.6,328.5 183.9,326.9Z" fill="#999cc2" fill-rule="evenodd" fill-opacity="1.0"/><path d="M184.0,325.5 183.9,324.2 183.6,322.9 183.1,321.6 182.4,320.5 181.6,319.5 180.7,318.7 179.6,318.0 178.4,317.6 177.1,317.3 175.8,317.2 174.4,317.3 173.1,317.6 171.7,318.1 170.5,318.8 169.3,319.6 168.2,320.6 167.2,321.8 166.4,323.0 165.7,324.3 165.3,325.7 165.0,327.1 164.9,328.6 165.0,330.1 165.3,331.6 165.7,332.9 166.4,334.1 167.2,335.2 168.2,336.1 169.3,336.9 170.5,337.4 171.7,337.7 173.1,337.8 174.4,337.7 175.8,337.3 177.1,336.8 178.4,336.0 179.6,335.1 180.7,334.0 181.6,332.8 182.4,331.4 183.1,330.0 183.6,328.5 183.9,326.9Z" fill="#000866" fill-opacity="1.0"/><path d="M189.9,324.6 189.8,322.9 189.5,321.2 189.0,319.6 188.4,318.0 187.5,316.6 186.5,315.3 185.4,314.2 184.1,313.2 182.6,312.4 181.1,311.8 179.5,311.3 177.9,311.1 176.1,311.1 174.4,311.3 172.7,311.6 171.0,312.2 169.3,312.9 167.7,313.9 166.2,314.9 164.8,316.2 163.5,317.6 162.3,319.1 161.3,320.7 160.5,322.3 159.8,324.1 159.3,325.8 159.0,327.7 158.9,329.6 159.0,331.6 159.3,333.4 159.8,335.2 160.5,336.9 161.3,338.4 162.3,339.8 163.5,341.1 164.8,342.2 166.2,343.0 167.7,343.7 169.3,344.2 171.0,344.4 172.7,344.5 174.4,344.3 176.1,343.9 177.9,343.3 179.5,342.5 181.1,341.4 182.6,340.3 184.1,338.9 185.4,337.4 186.5,335.7 187.5,334.0 188.4,332.2 189.0,330.2 189.5,328.3 189.8,326.4Z" fill="none" stroke="#000866" stroke-opacity="1.0" stroke-width="0.55"/>
<path d="M189.1,319.9 189.0,318.4 188.7,316.9 188.2,315.5 187.5,314.2 186.7,313.0 185.7,311.9 184.5,310.9 183.2,310.1 181.8,309.4 180.3,308.9 178.7,308.5 177.0,308.3 175.3,308.3 173.6,308.4 171.9,308.8 170.1,309.2 168.5,309.9 166.9,310.7 165.4,311.6 163.9,312.6 162.6,313.8 161.5,315.1 160.5,316.5 159.6,317.9 159.0,319.4 158.5,320.9 158.2,322.4 158.1,323.9 158.2,325.4 158.5,326.8 159.0,328.2 159.6,329.5 160.5,330.7 161.5,331.7 162.6,332.7 163.9,333.5 165.4,334.2 166.9,334.7 168.5,335.1 170.1,335.3 171.9,335.3 173.6,335.2 175.3,334.9 177.0,334.4 178.7,333.8 180.3,333.0 181.8,332.1 183.2,331.0 184.5,329.9 185.7,328.6 186.7,327.3 187.5,325.8 188.2,324.4 188.7,322.9 189.0,321.4ZM183.1,320.6 183.0,319.5 182.7,318.3 182.3,317.3 181.6,316.3 180.8,315.5 179.8,314.8 178.7,314.2 177.5,313.8 176.3,313.6 174.9,313.5 173.6,313.6 172.2,313.9 170.9,314.3 169.6,314.9 168.4,315.6 167.3,316.4 166.4,317.4 165.6,318.5 164.9,319.6 164.4,320.8 164.1,322.0 164.0,323.1 164.1,324.3 164.4,325.4 164.9,326.4 165.6,327.4 166.4,328.2 167.3,328.9 168.4,329.5 169.6,329.9 170.9,330.1 172.2,330.2 173.6,330.1 174.9,329.8 176.3,329.4 177.5,328.8 178.7,328.1 179.8,327.3 180.8,326.3 181.6,325.3 182.3,324.2 182.7,323.0 183.0,321.8Z" fill="#99d6c2" fill-rule="evenodd" fill-opacity="0.85"/><path d="M183.1,320.6 183.0,319.5 182.7,318.3 182.3,317.3 181.6,316.3 180.8,315.5 179.8,314.8 178.7,314.2 177.5,313.8 176.3,313.6 174.9,313.5 173.6,313.6 172.2,313.9 170.9,314.3 169.6,314.9 168.4,315.6 167.3,316.4 166.4,317.4 165.6,318.5 164.9,319.6 164.4,320.8 164.1,322.0 164.0,323.1 164.1,324.3 164.4,325.4 164.9,326.4 165.6,327.4 166.4,328.2 167.3,328.9 168.4,329.5 169.6,329.9 170.9,330.1 172.2,330.2 173.6,330.1 174.9,329.8 176.3,329.4 177.5,328.8 178.7,328.1 179.8,327.3 180.8,326.3 181.6,325.3 182.3,324.2 182.7,323.0 183.0,321.8Z" fill="#009966" fill-opacity="0.85"/><path d="M189.1,319.9 189.0,318.4 188.7,316.9 188.2,315.5 187.5,314.2 186.7,313.0 185.7,311.9 184.5,310.9 183.2,310.1 181.8,309.4 180.3,308.9 178.7,308.5 177.0,308.3 175.3,308.3 173.6,308.4 171.9,308.8 170.1,309.2 168.5,309.9 166.9,310.7 165.4,311.6 163.9,312.6 162.6,313.8 161.5,315.1 160.5,316.5 159.6,317.9 159.0,319.4 158.5,320.9 158.2,322.4 158.1,323.9 158.2,325.4 158.5,326.8 159.0,328.2 159.6,329.5 160.5,330.7 161.5,331.7 162.6,332.7 163.9,333.5 165.4,334.2 166.9,334.7 168.5,335.1 170.1,335.3 171.9,335.3 173.6,335.2 175.3,334.9 177.0,334.4 178.7,333.8 180.3,333.0 181.8,332.1 183.2,331.0 184.5,329.9 185.7,328.6 186.7,327.3 187.5,325.8 188.2,324.4 188.7,322.9 189.0,321.4Z" fill="none" stroke="#009966" stroke-opacity="0.85" stroke-width="0.55"/>
<g transform="translate(174.42,325.31) rotate(159.1)"><path d="M15.84,0A15.84,12.64 0 1 0 -15.84,0A15.84,12.64 0 1 0 15.84,0ZM9.77,0A9.77,7.80 0 1 0 -9.77,0A9.77,7.80 0 1 0 9.77,0Z" fill="#cccccc" fill-rule="evenodd" fill-opacity="0.85"/><ellipse rx="9.77" ry="7.80" fill="#808080" fill-opacity="0.85"/><ellipse rx="15.84" ry="12.64" fill="none" stroke="#808080" stroke-opacity="0.85" stroke-width="0.55"/></g>
<path d="M190.7,320.2 190.6,319.0 190.3,317.8 189.9,316.6 189.2,315.6 188.4,314.6 187.3,313.7 186.2,312.9 184.9,312.2 183.5,311.6 182.0,311.2 180.4,310.9 178.7,310.7 177.0,310.7 175.2,310.8 173.5,311.1 171.8,311.5 170.1,312.0 168.5,312.6 167.0,313.4 165.6,314.3 164.3,315.2 163.2,316.3 162.1,317.4 161.3,318.6 160.6,319.8 160.2,321.1 159.9,322.3 159.8,323.6 159.9,324.9 160.2,326.1 160.6,327.3 161.3,328.4 162.1,329.4 163.2,330.3 164.3,331.2 165.6,331.9 167.0,332.4 168.5,332.9 170.1,333.2 171.8,333.4 173.5,333.4 175.2,333.3 177.0,333.0 178.7,332.6 180.4,332.1 182.0,331.4 183.5,330.6 184.9,329.7 186.2,328.7 187.3,327.6 188.4,326.5 189.2,325.3 189.9,324.0 190.3,322.7 190.6,321.5ZM184.8,320.9 184.7,319.9 184.4,319.0 183.9,318.1 183.3,317.3 182.5,316.6 181.5,316.0 180.4,315.6 179.2,315.2 177.9,315.0 176.6,315.0 175.2,315.1 173.9,315.3 172.6,315.6 171.3,316.1 170.1,316.7 169.0,317.4 168.0,318.2 167.2,319.1 166.6,320.0 166.1,321.0 165.8,321.9 165.7,323.0 165.8,323.9 166.1,324.9 166.6,325.8 167.2,326.6 168.0,327.3 169.0,327.9 170.1,328.4 171.3,328.7 172.6,328.9 173.9,329.0 175.2,328.9 176.6,328.7 177.9,328.3 179.2,327.8 180.4,327.2 181.5,326.5 182.5,325.7 183.3,324.8 183.9,323.8 184.4,322.8 184.7,321.8Z" fill="#f3aea7" fill-rule="evenodd" fill-opacity="0.85"/><path d="M184.8,320.9 184.7,319.9 184.4,319.0 183.9,318.1 183.3,317.3 182.5,316.6 181.5,316.0 180.4,315.6 179.2,315.2 177.9,315.0 176.6,315.0 175.2,315.1 173.9,315.3 172.6,315.6 171.3,316.1 170.1,316.7 169.0,317.4 168.0,318.2 167.2,319.1 166.6,320.0 166.1,321.0 165.8,321.9 165.7,323.0 165.8,323.9 166.1,324.9 166.6,325.8 167.2,326.6 168.0,327.3 169.0,327.9 170.1,328.4 171.3,328.7 172.6,328.9 173.9,329.0 175.2,328.9 176.6,328.7 177.9,328.3 179.2,327.8 180.4,327.2 181.5,326.5 182.5,325.7 183.3,324.8 183.9,323.8 184.4,322.8 184.7,321.8Z" fill="#e03424" fill-opacity="0.85"/><path d="M190.7,320.2 190.6,319.0 190.3,317.8 189.9,316.6 189.2,315.6 188.4,314.6 187.3,313.7 186.2,312.9 184.9,312.2 183.5,311.6 182.0,311.2 180.4,310.9 178.7,310.7 177.0,310.7 175.2,310.8 173.5,311.1 171.8,311.5 170.1,312.0 168.5,312.6 167.0,313.4 165.6,314.3 164.3,315.2 163.2,316.3 162.1,317.4 161.3,318.6 160.6,319.8 160.2,321.1 159.9,322.3 159.8,323.6 159.9,324.9 160.2,326.1 160.6,327.3 161.3,328.4 162.1,329.4 163.2,330.3 164.3,331.2 165.6,331.9 167.0,332.4 168.5,332.9 170.1,333.2 171.8,333.4 173.5,333.4 175.2,333.3 177.0,333.0 178.7,332.6 180.4,332.1 182.0,331.4 183.5,330.6 184.9,329.7 186.2,328.7 187.3,327.6 188.4,326.5 189.2,325.3 189.9,324.0 190.3,322.7 190.6,321.5Z" fill="none" stroke="#e03424" stroke-opacity="0.85" stroke-width="0.55"/>
<path d="M190.1,323.5 190.0,322.5 189.7,321.5 189.2,320.6 188.5,319.7 187.7,318.8 186.7,318.0 185.5,317.2 184.2,316.5 182.8,315.9 181.3,315.4 179.7,315.0 178.0,314.7 176.3,314.5 174.6,314.4 172.9,314.4 171.1,314.5 169.5,314.7 167.9,315.1 166.4,315.5 164.9,316.0 163.6,316.6 162.5,317.3 161.5,318.1 160.6,318.9 160.0,319.8 159.5,320.7 159.2,321.6 159.1,322.6 159.2,323.6 159.5,324.5 160.0,325.5 160.6,326.4 161.5,327.2 162.5,328.0 163.6,328.8 164.9,329.5 166.4,330.1 167.9,330.6 169.5,331.0 171.1,331.3 172.9,331.5 174.6,331.6 176.3,331.6 178.0,331.5 179.7,331.3 181.3,331.0 182.8,330.5 184.2,330.0 185.5,329.4 186.7,328.7 187.7,328.0 188.5,327.1 189.2,326.3 189.7,325.4 190.0,324.4ZM184.1,323.3 184.0,322.5 183.7,321.7 183.3,321.0 182.6,320.3 181.8,319.6 180.8,319.0 179.7,318.5 178.5,318.1 177.3,317.8 175.9,317.6 174.6,317.5 173.2,317.5 171.9,317.7 170.6,317.9 169.4,318.2 168.3,318.7 167.4,319.2 166.6,319.8 165.9,320.5 165.4,321.2 165.1,322.0 165.0,322.8 165.1,323.5 165.4,324.2 165.9,324.8 166.6,325.5 167.4,326.0 168.3,326.6 169.4,327.0 170.6,327.4 171.9,327.7 173.2,327.8 174.6,327.9 175.9,327.9 177.3,327.8 178.5,327.6 179.7,327.3 180.8,326.9 181.8,326.4 182.6,325.9 183.3,325.3 183.7,324.6 184.0,324.0Z" fill="#99c5f8" fill-rule="evenodd" fill-opacity="0.85"/><path d="M184.1,323.3 184.0,322.5 183.7,321.7 183.3,321.0 182.6,320.3 181.8,319.6 180.8,319.0 179.7,318.5 178.5,318.1 177.3,317.8 175.9,317.6 174.6,317.5 173.2,317.5 171.9,317.7 170.6,317.9 169.4,318.2 168.3,318.7 167.4,319.2 166.6,319.8 165.9,320.5 165.4,321.2 165.1,322.0 165.0,322.8 165.1,323.5 165.4,324.2 165.9,324.8 166.6,325.5 167.4,326.0 168.3,326.6 169.4,327.0 170.6,327.4 171.9,327.7 173.2,327.8 174.6,327.9 175.9,327.9 177.3,327.8 178.5,327.6 179.7,327.3 180.8,326.9 181.8,326.4 182.6,325.9 183.3,325.3 183.7,324.6 184.0,324.0Z" fill="#006fed" fill-opacity="0.85"/><path d="M190.1,323.5 190.0,322.5 189.7,321.5 189.2,320.6 188.5,319.7 187.7,318.8 186.7,318.0 185.5,317.2 184.2,316.5 182.8,315.9 181.3,315.4 179.7,315.0 178.0,314.7 176.3,314.5 174.6,314.4 172.9,314.4 171.1,314.5 169.5,314.7 167.9,315.1 166.4,315.5 164.9,316.0 163.6,316.6 162.5,317.3 161.5,318.1 160.6,318.9 160.0,319.8 159.5,320.7 159.2,321.6 159.1,322.6 159.2,323.6 159.5,324.5 160.0,325.5 160.6,326.4 161.5,327.2 162.5,328.0 163.6,328.8 164.9,329.5 166.4,330.1 167.9,330.6 169.5,331.0 171.1,331.3 172.9,331.5 174.6,331.6 176.3,331.6 178.0,331.5 179.7,331.3 181.3,331.0 182.8,330.5 184.2,330.0 185.5,329.4 186.7,328.7 187.7,328.0 188.5,327.1 189.2,326.3 189.7,325.4 190.0,324.4Z" fill="none" stroke="#006fed" stroke-opacity="0.85" stroke-width="0.55"/>
</g>
<clipPath id="cL53"><rect x="202.45" y="298.55" width="55.45" height="56.93"/></clipPath>
<g clip-path="url(#cL53)">
<path d="M241.3,311.2 241.2,311.1 241.0,311.1 240.6,311.4 240.1,311.8 239.5,312.5 238.7,313.3 237.9,314.3 236.9,315.4 235.8,316.7 234.7,318.1 233.5,319.7 232.2,321.3 230.9,323.0 229.6,324.8 228.0,326.5 226.3,328.5 224.7,330.4 223.2,332.3 221.7,334.1 220.4,335.9 219.1,337.5 218.0,339.0 217.0,340.4 216.2,341.5 215.6,342.5 215.1,343.3 214.9,343.9 214.8,344.3 214.9,344.5 215.1,344.4 215.6,344.2 216.2,343.7 217.0,343.0 218.0,342.1 219.1,341.0 220.4,339.7 221.7,338.3 223.2,336.7 224.7,335.1 226.3,333.3 228.0,331.4 229.6,329.5 230.9,327.5 232.2,325.7 233.5,323.9 234.7,322.2 235.8,320.5 236.9,318.9 237.9,317.4 238.7,316.1 239.5,314.8 240.1,313.8 240.6,312.9 241.0,312.1 241.2,311.6ZM236.8,317.3 236.7,317.2 236.5,317.3 236.2,317.6 235.7,318.1 235.0,318.8 234.3,319.6 233.5,320.6 232.6,321.7 231.6,322.9 230.6,324.3 229.6,325.6 228.3,327.0 227.0,328.6 225.8,330.1 224.7,331.5 223.6,332.9 222.7,334.1 221.9,335.2 221.3,336.1 220.8,336.8 220.5,337.4 220.5,337.7 220.5,337.8 220.8,337.7 221.3,337.4 221.9,336.8 222.7,336.1 223.6,335.2 224.7,334.1 225.8,332.8 227.0,331.5 228.3,330.0 229.6,328.5 230.6,327.0 231.6,325.6 232.6,324.2 233.5,322.9 234.3,321.7 235.0,320.6 235.7,319.6 236.2,318.7 236.5,318.1 236.7,317.6Z" fill="#999cc2" fill-rule="evenodd" fill-opacity="1.0"/><path d="M236.8,317.3 236.7,317.2 236.5,317.3 236.2,317.6 235.7,318.1 235.0,318.8 234.3,319.6 233.5,320.6 232.6,321.7 231.6,322.9 230.6,324.3 229.6,325.6 228.3,327.0 227.0,328.6 225.8,330.1 224.7,331.5 223.6,332.9 222.7,334.1 221.9,335.2 221.3,336.1 220.8,336.8 220.5,337.4 220.5,337.7 220.5,337.8 220.8,337.7 221.3,337.4 221.9,336.8 222.7,336.1 223.6,335.2 224.7,334.1 225.8,332.8 227.0,331.5 228.3,330.0 229.6,328.5 230.6,327.0 231.6,325.6 232.6,324.2 233.5,322.9 234.3,321.7 235.0,320.6 235.7,319.6 236.2,318.7 236.5,318.1 236.7,317.6Z" fill="#000866" fill-opacity="1.0"/><path d="M241.3,311.2 241.2,311.1 241.0,311.1 240.6,311.4 240.1,311.8 239.5,312.5 238.7,313.3 237.9,314.3 236.9,315.4 235.8,316.7 234.7,318.1 233.5,319.7 232.2,321.3 230.9,323.0 229.6,324.8 228.0,326.5 226.3,328.5 224.7,330.4 223.2,332.3 221.7,334.1 220.4,335.9 219.1,337.5 218.0,339.0 217.0,340.4 216.2,341.5 215.6,342.5 215.1,343.3 214.9,343.9 214.8,344.3 214.9,344.5 215.1,344.4 215.6,344.2 216.2,343.7 217.0,343.0 218.0,342.1 219.1,341.0 220.4,339.7 221.7,338.3 223.2,336.7 224.7,335.1 226.3,333.3 228.0,331.4 229.6,329.5 230.9,327.5 232.2,325.7 233.5,323.9 234.7,322.2 235.8,320.5 236.9,318.9 237.9,317.4 238.7,316.1 239.5,314.8 240.1,313.8 240.6,312.9 241.0,312.1 241.2,311.6Z" fill="none" stroke="#000866" stroke-opacity="1.0" stroke-width="0.55"/>
<path d="M245.4,308.4 245.3,308.3 245.1,308.3 244.7,308.5 244.2,308.9 243.6,309.5 242.8,310.2 242.0,311.0 241.0,312.0 239.9,313.1 238.8,314.3 237.6,315.6 236.4,317.0 235.1,318.5 233.8,320.0 232.5,321.5 231.2,323.0 230.0,324.5 228.8,326.0 227.6,327.4 226.6,328.7 225.6,330.0 224.7,331.1 224.0,332.1 223.3,333.1 222.8,333.8 222.5,334.4 222.3,334.9 222.2,335.2 222.3,335.3 222.5,335.3 222.8,335.1 223.3,334.7 224.0,334.2 224.7,333.5 225.6,332.6 226.6,331.7 227.6,330.6 228.8,329.4 230.0,328.1 231.2,326.7 232.5,325.3 233.8,323.8 235.1,322.3 236.4,320.8 237.6,319.3 238.8,317.8 239.9,316.3 241.0,315.0 242.0,313.7 242.8,312.6 243.6,311.5 244.2,310.6 244.7,309.8 245.1,309.2 245.3,308.7ZM240.9,313.6 240.9,313.5 240.6,313.6 240.3,313.8 239.8,314.3 239.2,314.8 238.5,315.6 237.6,316.4 236.7,317.4 235.8,318.4 234.8,319.5 233.8,320.7 232.8,321.9 231.8,323.1 230.8,324.2 229.9,325.3 229.1,326.4 228.4,327.3 227.8,328.2 227.3,328.9 226.9,329.4 226.7,329.8 226.6,330.1 226.7,330.2 226.9,330.1 227.3,329.8 227.8,329.4 228.4,328.9 229.1,328.1 229.9,327.3 230.8,326.4 231.8,325.3 232.8,324.2 233.8,323.1 234.8,321.9 235.8,320.7 236.7,319.5 237.6,318.4 238.5,317.3 239.2,316.4 239.8,315.5 240.3,314.8 240.6,314.3 240.9,313.8Z" fill="#99d6c2" fill-rule="evenodd" fill-opacity="0.85"/><path d="M240.9,313.6 240.9,313.5 240.6,313.6 240.3,313.8 239.8,314.3 239.2,314.8 238.5,315.6 237.6,316.4 236.7,317.4 235.8,318.4 234.8,319.5 233.8,320.7 232.8,321.9 231.8,323.1 230.8,324.2 229.9,325.3 229.1,326.4 228.4,327.3 227.8,328.2 227.3,328.9 226.9,329.4 226.7,329.8 226.6,330.1 226.7,330.2 226.9,330.1 227.3,329.8 227.8,329.4 228.4,328.9 229.1,328.1 229.9,327.3 230.8,326.4 231.8,325.3 232.8,324.2 233.8,323.1 234.8,321.9 235.8,320.7 236.7,319.5 237.6,318.4 238.5,317.3 239.2,316.4 239.8,315.5 240.3,314.8 240.6,314.3 240.9,313.8Z" fill="#009966" fill-opacity="0.85"/><path d="M245.4,308.4 245.3,308.3 245.1,308.3 244.7,308.5 244.2,308.9 243.6,309.5 242.8,310.2 242.0,311.0 241.0,312.0 239.9,313.1 238.8,314.3 237.6,315.6 236.4,317.0 235.1,318.5 233.8,320.0 232.5,321.5 231.2,323.0 230.0,324.5 228.8,326.0 227.6,327.4 226.6,328.7 225.6,330.0 224.7,331.1 224.0,332.1 223.3,333.1 222.8,333.8 222.5,334.4 222.3,334.9 222.2,335.2 222.3,335.3 222.5,335.3 222.8,335.1 223.3,334.7 224.0,334.2 224.7,333.5 225.6,332.6 226.6,331.7 227.6,330.6 228.8,329.4 230.0,328.1 231.2,326.7 232.5,325.3 233.8,323.8 235.1,322.3 236.4,320.8 237.6,319.3 238.8,317.8 239.9,316.3 241.0,315.0 242.0,313.7 242.8,312.6 243.6,311.5 244.2,310.6 244.7,309.8 245.1,309.2 245.3,308.7Z" fill="none" stroke="#009966" stroke-opacity="0.85" stroke-width="0.55"/>
<g transform="translate(230.17,325.31) rotate(128.8)"><path d="M16.77,0A16.77,1.16 0 1 0 -16.77,0A16.77,1.16 0 1 0 16.77,0ZM10.34,0A10.34,0.72 0 1 0 -10.34,0A10.34,0.72 0 1 0 10.34,0Z" fill="#cccccc" fill-rule="evenodd" fill-opacity="0.85"/><ellipse rx="10.34" ry="0.72" fill="#808080" fill-opacity="0.85"/><ellipse rx="16.77" ry="1.16" fill="none" stroke="#808080" stroke-opacity="0.85" stroke-width="0.55"/></g>
<path d="M242.3,310.8 242.3,310.7 242.1,310.7 241.8,310.9 241.4,311.2 241.0,311.6 240.4,312.2 239.7,312.9 239.0,313.7 238.2,314.6 237.3,315.6 236.4,316.7 235.5,317.9 234.5,319.1 233.5,320.3 232.5,321.6 231.5,322.8 230.6,324.1 229.7,325.4 228.8,326.6 228.0,327.7 227.2,328.8 226.6,329.8 226.0,330.7 225.5,331.4 225.1,332.1 224.9,332.6 224.7,333.0 224.6,333.3 224.7,333.4 224.9,333.4 225.1,333.2 225.5,332.9 226.0,332.4 226.6,331.8 227.2,331.1 228.0,330.3 228.8,329.3 229.7,328.3 230.6,327.2 231.5,326.0 232.5,324.8 233.5,323.5 234.5,322.2 235.5,321.0 236.4,319.7 237.3,318.5 238.2,317.3 239.0,316.2 239.7,315.2 240.4,314.2 241.0,313.3 241.4,312.6 241.8,311.9 242.1,311.4 242.3,311.0ZM238.9,315.0 238.9,315.0 238.7,315.0 238.4,315.3 238.1,315.6 237.6,316.1 237.1,316.7 236.4,317.4 235.8,318.2 235.0,319.0 234.3,320.0 233.5,320.9 232.7,321.9 232.0,322.9 231.2,323.9 230.5,324.8 229.9,325.7 229.4,326.5 228.9,327.3 228.5,327.9 228.3,328.3 228.1,328.7 228.0,328.9 228.1,329.0 228.3,328.9 228.5,328.7 228.9,328.3 229.4,327.9 229.9,327.2 230.5,326.5 231.2,325.7 232.0,324.8 232.7,323.9 233.5,322.9 234.3,321.9 235.0,320.9 235.8,319.9 236.4,319.0 237.1,318.1 237.6,317.4 238.1,316.7 238.4,316.1 238.7,315.6 238.9,315.3Z" fill="#f3aea7" fill-rule="evenodd" fill-opacity="0.85"/><path d="M238.9,315.0 238.9,315.0 238.7,315.0 238.4,315.3 238.1,315.6 237.6,316.1 237.1,316.7 236.4,317.4 235.8,318.2 235.0,319.0 234.3,320.0 233.5,320.9 232.7,321.9 232.0,322.9 231.2,323.9 230.5,324.8 229.9,325.7 229.4,326.5 228.9,327.3 228.5,327.9 228.3,328.3 228.1,328.7 228.0,328.9 228.1,329.0 228.3,328.9 228.5,328.7 228.9,328.3 229.4,327.9 229.9,327.2 230.5,326.5 231.2,325.7 232.0,324.8 232.7,323.9 233.5,322.9 234.3,321.9 235.0,320.9 235.8,319.9 236.4,319.0 237.1,318.1 237.6,317.4 238.1,316.7 238.4,316.1 238.7,315.6 238.9,315.3Z" fill="#e03424" fill-opacity="0.85"/><path d="M242.3,310.8 242.3,310.7 242.1,310.7 241.8,310.9 241.4,311.2 241.0,311.6 240.4,312.2 239.7,312.9 239.0,313.7 238.2,314.6 237.3,315.6 236.4,316.7 235.5,317.9 234.5,319.1 233.5,320.3 232.5,321.6 231.5,322.8 230.6,324.1 229.7,325.4 228.8,326.6 228.0,327.7 227.2,328.8 226.6,329.8 226.0,330.7 225.5,331.4 225.1,332.1 224.9,332.6 224.7,333.0 224.6,333.3 224.7,333.4 224.9,333.4 225.1,333.2 225.5,332.9 226.0,332.4 226.6,331.8 227.2,331.1 228.0,330.3 228.8,329.3 229.7,328.3 230.6,327.2 231.5,326.0 232.5,324.8 233.5,323.5 234.5,322.2 235.5,321.0 236.4,319.7 237.3,318.5 238.2,317.3 239.0,316.2 239.7,315.2 240.4,314.2 241.0,313.3 241.4,312.6 241.8,311.9 242.1,311.4 242.3,311.0Z" fill="none" stroke="#e03424" stroke-opacity="0.85" stroke-width="0.55"/>
<path d="M239.4,314.5 239.3,314.4 239.2,314.4 239.0,314.5 238.7,314.8 238.4,315.1 237.9,315.6 237.4,316.1 236.9,316.7 236.3,317.4 235.6,318.2 234.9,319.0 234.2,319.9 233.5,320.9 232.7,321.8 232.0,322.8 231.2,323.7 230.5,324.7 229.8,325.6 229.2,326.5 228.6,327.4 228.0,328.2 227.5,328.9 227.1,329.6 226.7,330.2 226.4,330.7 226.2,331.1 226.1,331.4 226.1,331.5 226.1,331.6 226.2,331.6 226.4,331.5 226.7,331.2 227.1,330.9 227.5,330.4 228.0,329.9 228.6,329.3 229.2,328.6 229.8,327.8 230.5,327.0 231.2,326.1 232.0,325.2 232.7,324.2 233.5,323.3 234.2,322.3 234.9,321.4 235.6,320.4 236.3,319.5 236.9,318.6 237.4,317.8 237.9,317.1 238.4,316.4 238.7,315.8 239.0,315.3 239.2,314.9 239.3,314.7ZM236.9,317.6 236.8,317.5 236.7,317.6 236.5,317.7 236.2,318.0 235.9,318.4 235.4,318.9 235.0,319.4 234.5,320.1 233.9,320.7 233.3,321.5 232.7,322.3 232.1,323.0 231.5,323.7 231.0,324.4 230.4,325.1 230.0,325.7 229.5,326.2 229.2,326.7 228.9,327.2 228.7,327.5 228.6,327.7 228.5,327.9 228.6,327.9 228.7,327.9 228.9,327.7 229.2,327.5 229.5,327.1 230.0,326.7 230.4,326.2 231.0,325.7 231.5,325.1 232.1,324.4 232.7,323.7 233.3,323.0 233.9,322.2 234.5,321.5 235.0,320.7 235.4,320.0 235.9,319.4 236.2,318.9 236.5,318.4 236.7,318.0 236.8,317.7Z" fill="#99c5f8" fill-rule="evenodd" fill-opacity="0.85"/><path d="M236.9,317.6 236.8,317.5 236.7,317.6 236.5,317.7 236.2,318.0 235.9,318.4 235.4,318.9 235.0,319.4 234.5,320.1 233.9,320.7 233.3,321.5 232.7,322.3 232.1,323.0 231.5,323.7 231.0,324.4 230.4,325.1 230.0,325.7 229.5,326.2 229.2,326.7 228.9,327.2 228.7,327.5 228.6,327.7 228.5,327.9 228.6,327.9 228.7,327.9 228.9,327.7 229.2,327.5 229.5,327.1 230.0,326.7 230.4,326.2 231.0,325.7 231.5,325.1 232.1,324.4 232.7,323.7 233.3,323.0 233.9,322.2 234.5,321.5 235.0,320.7 235.4,320.0 235.9,319.4 236.2,318.9 236.5,318.4 236.7,318.0 236.8,317.7Z" fill="#006fed" fill-opacity="0.85"/><path d="M239.4,314.5 239.3,314.4 239.2,314.4 239.0,314.5 238.7,314.8 238.4,315.1 237.9,315.6 237.4,316.1 236.9,316.7 236.3,317.4 235.6,318.2 234.9,319.0 234.2,319.9 233.5,320.9 232.7,321.8 232.0,322.8 231.2,323.7 230.5,324.7 229.8,325.6 229.2,326.5 228.6,327.4 228.0,328.2 227.5,328.9 227.1,329.6 226.7,330.2 226.4,330.7 226.2,331.1 226.1,331.4 226.1,331.5 226.1,331.6 226.2,331.6 226.4,331.5 226.7,331.2 227.1,330.9 227.5,330.4 228.0,329.9 228.6,329.3 229.2,328.6 229.8,327.8 230.5,327.0 231.2,326.1 232.0,325.2 232.7,324.2 233.5,323.3 234.2,322.3 234.9,321.4 235.6,320.4 236.3,319.5 236.9,318.6 237.4,317.8 237.9,317.1 238.4,316.4 238.7,315.8 239.0,315.3 239.2,314.9 239.3,314.7Z" fill="none" stroke="#006fed" stroke-opacity="0.85" stroke-width="0.55"/>
</g>
<clipPath id="cL54"><rect x="260.98" y="298.55" width="55.45" height="56.93"/></clipPath>
<g clip-path="url(#cL54)">
<path d="M308.7,313.6 308.6,312.7 308.4,312.0 308.2,311.5 307.8,311.2 307.3,311.1 306.7,311.2 306.1,311.4 305.3,311.9 304.5,312.6 303.6,313.4 302.7,314.4 301.8,315.6 300.8,316.9 299.8,318.4 297.7,319.9 295.6,321.6 293.6,323.3 291.6,325.0 289.8,326.8 288.0,328.8 286.5,330.7 285.1,332.6 283.8,334.4 282.8,336.1 282.0,337.7 281.4,339.2 281.1,340.5 280.9,341.7 281.1,342.7 281.4,343.4 282.0,344.0 282.8,344.4 283.8,344.5 285.1,344.4 286.5,344.1 288.0,343.6 289.8,342.9 291.6,341.9 293.6,340.8 295.6,339.5 297.7,338.1 299.8,336.5 300.8,334.8 301.8,333.0 302.7,331.1 303.6,329.2 304.5,327.2 305.3,325.4 306.1,323.7 306.7,321.9 307.3,320.3 307.8,318.7 308.2,317.2 308.4,315.9 308.6,314.7ZM304.2,318.8 304.2,318.1 304.1,317.6 303.8,317.3 303.5,317.2 303.1,317.3 302.7,317.6 302.2,318.1 301.6,318.7 301.0,319.6 300.4,320.6 299.8,321.7 299.0,322.9 298.2,324.2 297.5,325.6 296.8,327.0 296.2,328.5 295.6,330.0 295.1,331.5 294.8,332.8 294.5,334.1 294.3,335.1 294.2,336.1 294.3,336.8 294.5,337.4 294.8,337.7 295.1,337.8 295.6,337.7 296.2,337.4 296.8,336.8 297.5,336.1 298.2,335.2 299.0,334.1 299.8,332.9 300.4,331.5 301.0,330.1 301.6,328.6 302.2,327.0 302.7,325.6 303.1,324.3 303.5,323.0 303.8,321.7 304.1,320.6 304.2,319.6Z" fill="#999cc2" fill-rule="evenodd" fill-opacity="1.0"/><path d="M304.2,318.8 304.2,318.1 304.1,317.6 303.8,317.3 303.5,317.2 303.1,317.3 302.7,317.6 302.2,318.1 301.6,318.7 301.0,319.6 300.4,320.6 299.8,321.7 299.0,322.9 298.2,324.2 297.5,325.6 296.8,327.0 296.2,328.5 295.6,330.0 295.1,331.5 294.8,332.8 294.5,334.1 294.3,335.1 294.2,336.1 294.3,336.8 294.5,337.4 294.8,337.7 295.1,337.8 295.6,337.7 296.2,337.4 296.8,336.8 297.5,336.1 298.2,335.2 299.0,334.1 299.8,332.9 300.4,331.5 301.0,330.1 301.6,328.6 302.2,327.0 302.7,325.6 303.1,324.3 303.5,323.0 303.8,321.7 304.1,320.6 304.2,319.6Z" fill="#000866" fill-opacity="1.0"/><path d="M308.7,313.6 308.6,312.7 308.4,312.0 308.2,311.5 307.8,311.2 307.3,311.1 306.7,311.2 306.1,311.4 305.3,311.9 304.5,312.6 303.6,313.4 302.7,314.4 301.8,315.6 300.8,316.9 299.8,318.4 297.7,319.9 295.6,321.6 293.6,323.3 291.6,325.0 289.8,326.8 288.0,328.8 286.5,330.7 285.1,332.6 283.8,334.4 282.8,336.1 282.0,337.7 281.4,339.2 281.1,340.5 280.9,341.7 281.1,342.7 281.4,343.4 282.0,344.0 282.8,344.4 283.8,344.5 285.1,344.4 286.5,344.1 288.0,343.6 289.8,342.9 291.6,341.9 293.6,340.8 295.6,339.5 297.7,338.1 299.8,336.5 300.8,334.8 301.8,333.0 302.7,331.1 303.6,329.2 304.5,327.2 305.3,325.4 306.1,323.7 306.7,321.9 307.3,320.3 307.8,318.7 308.2,317.2 308.4,315.9 308.6,314.7Z" fill="none" stroke="#000866" stroke-opacity="1.0" stroke-width="0.55"/>
<path d="M311.2,310.7 311.1,309.9 310.9,309.3 310.7,308.8 310.3,308.5 309.8,308.3 309.2,308.3 308.5,308.5 307.7,308.8 306.9,309.4 306.0,310.0 305.1,310.9 304.1,311.8 303.1,312.9 302.1,314.1 301.1,315.4 300.0,316.8 299.1,318.2 298.1,319.7 297.2,321.2 296.4,322.7 295.6,324.2 295.0,325.7 294.4,327.1 293.9,328.5 293.5,329.8 293.2,330.9 293.0,332.0 293.0,332.9 293.0,333.7 293.2,334.3 293.5,334.8 293.9,335.2 294.4,335.3 295.0,335.3 295.6,335.1 296.4,334.8 297.2,334.3 298.1,333.6 299.1,332.8 300.0,331.8 301.1,330.8 302.1,329.6 303.1,328.3 304.1,326.9 305.1,325.5 306.0,324.0 306.9,322.5 307.7,321.0 308.5,319.5 309.2,318.0 309.8,316.6 310.3,315.2 310.7,313.9 310.9,312.7 311.1,311.7ZM307.7,315.0 307.6,314.4 307.4,313.9 307.2,313.6 306.8,313.5 306.3,313.5 305.7,313.8 305.1,314.1 304.4,314.7 303.6,315.3 302.9,316.2 302.1,317.1 301.3,318.1 300.5,319.2 299.7,320.4 299.0,321.6 298.4,322.8 297.8,323.9 297.4,325.0 297.0,326.1 296.7,327.1 296.5,327.9 296.5,328.7 296.5,329.3 296.7,329.7 297.0,330.0 297.4,330.2 297.8,330.1 298.4,329.9 299.0,329.6 299.7,329.0 300.5,328.4 301.3,327.6 302.1,326.6 302.9,325.6 303.6,324.5 304.4,323.4 305.1,322.2 305.7,321.0 306.3,319.8 306.8,318.7 307.2,317.6 307.4,316.6 307.6,315.8Z" fill="#99d6c2" fill-rule="evenodd" fill-opacity="0.85"/><path d="M307.7,315.0 307.6,314.4 307.4,313.9 307.2,313.6 306.8,313.5 306.3,313.5 305.7,313.8 305.1,314.1 304.4,314.7 303.6,315.3 302.9,316.2 302.1,317.1 301.3,318.1 300.5,319.2 299.7,320.4 299.0,321.6 298.4,322.8 297.8,323.9 297.4,325.0 297.0,326.1 296.7,327.1 296.5,327.9 296.5,328.7 296.5,329.3 296.7,329.7 297.0,330.0 297.4,330.2 297.8,330.1 298.4,329.9 299.0,329.6 299.7,329.0 300.5,328.4 301.3,327.6 302.1,326.6 302.9,325.6 303.6,324.5 304.4,323.4 305.1,322.2 305.7,321.0 306.3,319.8 306.8,318.7 307.2,317.6 307.4,316.6 307.6,315.8Z" fill="#009966" fill-opacity="0.85"/><path d="M311.2,310.7 311.1,309.9 310.9,309.3 310.7,308.8 310.3,308.5 309.8,308.3 309.2,308.3 308.5,308.5 307.7,308.8 306.9,309.4 306.0,310.0 305.1,310.9 304.1,311.8 303.1,312.9 302.1,314.1 301.1,315.4 300.0,316.8 299.1,318.2 298.1,319.7 297.2,321.2 296.4,322.7 295.6,324.2 295.0,325.7 294.4,327.1 293.9,328.5 293.5,329.8 293.2,330.9 293.0,332.0 293.0,332.9 293.0,333.7 293.2,334.3 293.5,334.8 293.9,335.2 294.4,335.3 295.0,335.3 295.6,335.1 296.4,334.8 297.2,334.3 298.1,333.6 299.1,332.8 300.0,331.8 301.1,330.8 302.1,329.6 303.1,328.3 304.1,326.9 305.1,325.5 306.0,324.0 306.9,322.5 307.7,321.0 308.5,319.5 309.2,318.0 309.8,316.6 310.3,315.2 310.7,313.9 310.9,312.7 311.1,311.7Z" fill="none" stroke="#009966" stroke-opacity="0.85" stroke-width="0.55"/>
<path d="M308.1,314.6 308.1,313.8 307.9,313.2 307.7,312.7 307.3,312.4 306.9,312.2 306.4,312.2 305.8,312.4 305.2,312.8 304.5,313.2 303.7,313.9 302.9,314.7 302.1,315.6 301.2,316.7 300.3,317.8 299.2,319.1 298.1,320.4 297.1,321.8 296.0,323.2 295.0,324.7 294.1,326.1 293.3,327.6 292.5,329.0 291.9,330.4 291.4,331.7 290.9,333.0 290.6,334.1 290.4,335.1 290.4,336.0 290.4,336.8 290.6,337.4 290.9,337.9 291.4,338.2 291.9,338.4 292.5,338.4 293.3,338.2 294.1,337.9 295.0,337.4 296.0,336.7 297.1,335.9 298.1,335.0 299.2,334.0 300.3,332.8 301.2,331.6 302.1,330.2 302.9,328.8 303.7,327.4 304.5,325.9 305.2,324.5 305.8,323.0 306.4,321.6 306.9,320.2 307.3,318.9 307.7,317.6 307.9,316.5 308.1,315.5ZM303.7,318.7 303.6,318.1 303.5,317.7 303.4,317.4 303.1,317.2 302.9,317.3 302.5,317.5 302.1,317.8 301.7,318.4 301.3,319.0 300.8,319.8 300.3,320.7 299.8,321.7 299.3,322.7 298.7,323.9 298.3,325.0 297.8,326.2 297.4,327.3 297.1,328.4 296.8,329.4 296.6,330.4 296.5,331.2 296.5,331.9 296.5,332.5 296.6,333.0 296.8,333.3 297.1,333.4 297.4,333.3 297.8,333.1 298.3,332.8 298.7,332.3 299.3,331.6 299.8,330.8 300.3,329.9 300.8,328.9 301.3,327.9 301.7,326.8 302.1,325.6 302.5,324.5 302.9,323.3 303.1,322.2 303.4,321.2 303.5,320.3 303.6,319.4Z" fill="#cccccc" fill-rule="evenodd" fill-opacity="0.85"/><path d="M303.7,318.7 303.6,318.1 303.5,317.7 303.4,317.4 303.1,317.2 302.9,317.3 302.5,317.5 302.1,317.8 301.7,318.4 301.3,319.0 300.8,319.8 300.3,320.7 299.8,321.7 299.3,322.7 298.7,323.9 298.3,325.0 297.8,326.2 297.4,327.3 297.1,328.4 296.8,329.4 296.6,330.4 296.5,331.2 296.5,331.9 296.5,332.5 296.6,333.0 296.8,333.3 297.1,333.4 297.4,333.3 297.8,333.1 298.3,332.8 298.7,332.3 299.3,331.6 299.8,330.8 300.3,329.9 300.8,328.9 301.3,327.9 301.7,326.8 302.1,325.6 302.5,324.5 302.9,323.3 303.1,322.2 303.4,321.2 303.5,320.3 303.6,319.4Z" fill="#808080" fill-opacity="0.85"/><path d="M308.1,314.6 308.1,313.8 307.9,313.2 307.7,312.7 307.3,312.4 306.9,312.2 306.4,312.2 305.8,312.4 305.2,312.8 304.5,313.2 303.7,313.9 302.9,314.7 302.1,315.6 301.2,316.7 300.3,317.8 299.2,319.1 298.1,320.4 297.1,321.8 296.0,323.2 295.0,324.7 294.1,326.1 293.3,327.6 292.5,329.0 291.9,330.4 291.4,331.7 290.9,333.0 290.6,334.1 290.4,335.1 290.4,336.0 290.4,336.8 290.6,337.4 290.9,337.9 291.4,338.2 291.9,338.4 292.5,338.4 293.3,338.2 294.1,337.9 295.0,337.4 296.0,336.7 297.1,335.9 298.1,335.0 299.2,334.0 300.3,332.8 301.2,331.6 302.1,330.2 302.9,328.8 303.7,327.4 304.5,325.9 305.2,324.5 305.8,323.0 306.4,321.6 306.9,320.2 307.3,318.9 307.7,317.6 307.9,316.5 308.1,315.5Z" fill="none" stroke="#808080" stroke-opacity="0.85" stroke-width="0.55"/>
<path d="M308.1,312.7 308.0,312.0 307.9,311.5 307.7,311.1 307.4,310.8 307.0,310.7 306.6,310.7 306.1,310.8 305.5,311.1 304.9,311.6 304.2,312.1 303.5,312.8 302.8,313.6 302.0,314.5 301.3,315.5 300.5,316.5 299.8,317.7 299.0,318.9 298.3,320.1 297.7,321.3 297.0,322.6 296.5,323.9 296.0,325.2 295.5,326.4 295.1,327.5 294.9,328.6 294.6,329.6 294.5,330.5 294.5,331.3 294.5,332.0 294.6,332.5 294.9,333.0 295.1,333.2 295.5,333.4 296.0,333.4 296.5,333.2 297.0,332.9 297.7,332.5 298.3,331.9 299.0,331.2 299.8,330.4 300.5,329.5 301.3,328.5 302.0,327.4 302.8,326.2 303.5,325.0 304.2,323.7 304.9,322.4 305.5,321.2 306.1,319.9 306.6,318.7 307.0,317.5 307.4,316.4 307.7,315.3 307.9,314.4 308.0,313.5ZM305.5,316.2 305.4,315.7 305.3,315.3 305.1,315.1 304.8,315.0 304.4,315.0 304.0,315.2 303.5,315.5 303.0,315.9 302.5,316.5 301.9,317.2 301.3,317.9 300.7,318.8 300.1,319.7 299.5,320.6 299.0,321.6 298.5,322.6 298.1,323.6 297.8,324.6 297.5,325.5 297.3,326.3 297.1,327.1 297.1,327.7 297.1,328.2 297.3,328.6 297.5,328.9 297.8,329.0 298.1,328.9 298.5,328.8 299.0,328.5 299.5,328.0 300.1,327.4 300.7,326.7 301.3,326.0 301.9,325.1 302.5,324.1 303.0,323.2 303.5,322.2 304.0,321.2 304.4,320.2 304.8,319.3 305.1,318.4 305.3,317.6 305.4,316.8Z" fill="#f3aea7" fill-rule="evenodd" fill-opacity="0.85"/><path d="M305.5,316.2 305.4,315.7 305.3,315.3 305.1,315.1 304.8,315.0 304.4,315.0 304.0,315.2 303.5,315.5 303.0,315.9 302.5,316.5 301.9,317.2 301.3,317.9 300.7,318.8 300.1,319.7 299.5,320.6 299.0,321.6 298.5,322.6 298.1,323.6 297.8,324.6 297.5,325.5 297.3,326.3 297.1,327.1 297.1,327.7 297.1,328.2 297.3,328.6 297.5,328.9 297.8,329.0 298.1,328.9 298.5,328.8 299.0,328.5 299.5,328.0 300.1,327.4 300.7,326.7 301.3,326.0 301.9,325.1 302.5,324.1 303.0,323.2 303.5,322.2 304.0,321.2 304.4,320.2 304.8,319.3 305.1,318.4 305.3,317.6 305.4,316.8Z" fill="#e03424" fill-opacity="0.85"/><path d="M308.1,312.7 308.0,312.0 307.9,311.5 307.7,311.1 307.4,310.8 307.0,310.7 306.6,310.7 306.1,310.8 305.5,311.1 304.9,311.6 304.2,312.1 303.5,312.8 302.8,313.6 302.0,314.5 301.3,315.5 300.5,316.5 299.8,317.7 299.0,318.9 298.3,320.1 297.7,321.3 297.0,322.6 296.5,323.9 296.0,325.2 295.5,326.4 295.1,327.5 294.9,328.6 294.6,329.6 294.5,330.5 294.5,331.3 294.5,332.0 294.6,332.5 294.9,333.0 295.1,333.2 295.5,333.4 296.0,333.4 296.5,333.2 297.0,332.9 297.7,332.5 298.3,331.9 299.0,331.2 299.8,330.4 300.5,329.5 301.3,328.5 302.0,327.4 302.8,326.2 303.5,325.0 304.2,323.7 304.9,322.4 305.5,321.2 306.1,319.9 306.6,318.7 307.0,317.5 307.4,316.4 307.7,315.3 307.9,314.4 308.0,313.5Z" fill="none" stroke="#e03424" stroke-opacity="0.85" stroke-width="0.55"/>
<path d="M303.1,320.4 303.1,319.5 303.1,318.7 303.0,317.9 302.9,317.1 302.8,316.4 302.7,315.9 302.5,315.4 302.3,315.0 302.1,314.7 301.9,314.5 301.7,314.4 301.4,314.4 301.2,314.5 301.0,314.8 300.7,315.1 300.5,315.6 300.3,316.1 300.1,316.7 299.9,317.4 299.7,318.2 299.5,319.0 299.4,319.9 299.2,320.8 299.1,321.8 299.0,322.8 299.0,323.7 298.9,324.7 298.9,325.6 298.9,326.5 299.0,327.4 299.0,328.2 299.1,328.9 299.2,329.6 299.4,330.2 299.5,330.7 299.7,331.0 299.9,331.3 300.1,331.5 300.3,331.6 300.5,331.6 300.7,331.5 301.0,331.2 301.2,330.9 301.4,330.5 301.7,329.9 301.9,329.3 302.1,328.6 302.3,327.8 302.5,327.0 302.7,326.1 302.8,325.2 302.9,324.3 303.0,323.3 303.1,322.3 303.1,321.4ZM302.5,321.4 302.4,320.6 302.4,320.0 302.3,319.3 302.2,318.8 302.1,318.3 301.9,318.0 301.8,317.7 301.6,317.5 301.4,317.5 301.2,317.6 301.0,317.8 300.7,318.1 300.5,318.4 300.3,318.9 300.1,319.5 299.9,320.1 299.8,320.8 299.7,321.6 299.5,322.3 299.5,323.1 299.4,323.8 299.4,324.5 299.4,325.1 299.5,325.8 299.5,326.3 299.7,326.8 299.8,327.2 299.9,327.5 300.1,327.8 300.3,327.9 300.5,327.9 300.7,327.9 301.0,327.7 301.2,327.4 301.4,327.1 301.6,326.7 301.8,326.2 301.9,325.6 302.1,325.0 302.2,324.3 302.3,323.6 302.4,322.9 302.4,322.1Z" fill="#99c5f8" fill-rule="evenodd" fill-opacity="0.85"/><path d="M302.5,321.4 302.4,320.6 302.4,320.0 302.3,319.3 302.2,318.8 302.1,318.3 301.9,318.0 301.8,317.7 301.6,317.5 301.4,317.5 301.2,317.6 301.0,317.8 300.7,318.1 300.5,318.4 300.3,318.9 300.1,319.5 299.9,320.1 299.8,320.8 299.7,321.6 299.5,322.3 299.5,323.1 299.4,323.8 299.4,324.5 299.4,325.1 299.5,325.8 299.5,326.3 299.7,326.8 299.8,327.2 299.9,327.5 300.1,327.8 300.3,327.9 300.5,327.9 300.7,327.9 301.0,327.7 301.2,327.4 301.4,327.1 301.6,326.7 301.8,326.2 301.9,325.6 302.1,325.0 302.2,324.3 302.3,323.6 302.4,322.9 302.4,322.1Z" fill="#006fed" fill-opacity="0.85"/><path d="M303.1,320.4 303.1,319.5 303.1,318.7 303.0,317.9 302.9,317.1 302.8,316.4 302.7,315.9 302.5,315.4 302.3,315.0 302.1,314.7 301.9,314.5 301.7,314.4 301.4,314.4 301.2,314.5 301.0,314.8 300.7,315.1 300.5,315.6 300.3,316.1 300.1,316.7 299.9,317.4 299.7,318.2 299.5,319.0 299.4,319.9 299.2,320.8 299.1,321.8 299.0,322.8 299.0,323.7 298.9,324.7 298.9,325.6 298.9,326.5 299.0,327.4 299.0,328.2 299.1,328.9 299.2,329.6 299.4,330.2 299.5,330.7 299.7,331.0 299.9,331.3 300.1,331.5 300.3,331.6 300.5,331.6 300.7,331.5 301.0,331.2 301.2,330.9 301.4,330.5 301.7,329.9 301.9,329.3 302.1,328.6 302.3,327.8 302.5,327.0 302.7,326.1 302.8,325.2 302.9,324.3 303.0,323.3 303.1,322.3 303.1,321.4Z" fill="none" stroke="#006fed" stroke-opacity="0.85" stroke-width="0.55"/>
</g>
<clipPath id="dL0"><rect x="26.86" y="2.45" width="55.45" height="56.93"/></clipPath>
<g clip-path="url(#dL0)">
<path d="M27.5,59.4 28.2,59.4 28.9,59.4 29.6,59.4 30.3,59.3 31.0,59.3 31.7,59.3 32.4,59.3 33.1,59.2 33.8,59.1 34.5,59.0 35.2,58.9 35.9,58.7 36.6,58.5 37.3,58.1 38.0,57.7 38.7,57.2 39.4,56.6 40.1,55.8 40.8,54.9 41.5,53.7 42.2,52.4 42.9,50.8 43.6,49.0 44.3,46.9 45.0,44.6 45.7,42.0 46.4,39.2 47.1,36.2 47.8,33.1 48.5,29.9 49.2,26.6 49.9,23.4 50.6,20.3 51.3,17.4 52.0,14.7 52.7,12.5 53.4,10.6 54.1,9.3 54.8,8.4 55.5,8.1 56.2,8.4 56.9,9.3 57.6,10.6 58.3,12.5 59.0,14.7 59.7,17.4 60.4,20.3 61.1,23.4 61.8,26.6 62.5,29.9 63.2,33.1 63.9,36.2 64.6,39.2 65.3,42.0 66.0,44.6 66.7,46.9 67.3,49.0 68.0,50.8 68.7,52.4 69.4,53.7 70.1,54.9 70.8,55.8 71.5,56.6 72.2,57.2 72.9,57.7 73.6,58.1 74.3,58.5 75.0,58.7 75.7,58.9 76.4,59.0 77.1,59.1 77.8,59.2 78.5,59.3 79.2,59.3 79.9,59.3 80.6,59.3 81.3,59.4 82.0,59.4 82.7,59.4 83.4,59.4" fill="none" stroke="#000866" stroke-width="0.6" stroke-opacity="0.8" stroke-linejoin="round"/>
<path d="M27.2,59.4 27.9,59.4 28.6,59.4 29.3,59.4 30.0,59.3 30.7,59.3 31.4,59.3 32.1,59.3 32.8,59.2 33.5,59.1 34.2,59.0 34.9,58.9 35.6,58.7 36.3,58.5 37.0,58.1 37.7,57.7 38.4,57.2 39.1,56.6 39.8,55.8 40.5,54.9 41.2,53.7 41.9,52.4 42.6,50.8 43.3,49.0 44.0,46.9 44.7,44.6 45.4,42.0 46.1,39.2 46.8,36.2 47.5,33.1 48.2,29.9 48.9,26.6 49.6,23.4 50.3,20.3 51.0,17.4 51.7,14.7 52.4,12.5 53.1,10.6 53.8,9.3 54.5,8.4 55.2,8.1 55.9,8.4 56.6,9.3 57.3,10.6 58.0,12.5 58.7,14.7 59.4,17.4 60.1,20.3 60.8,23.4 61.5,26.6 62.2,29.9 62.9,33.1 63.6,36.2 64.3,39.2 65.0,42.0 65.7,44.6 66.4,46.9 67.1,49.0 67.8,50.8 68.5,52.4 69.2,53.7 69.9,54.9 70.6,55.8 71.3,56.6 72.0,57.2 72.7,57.7 73.4,58.1 74.1,58.5 74.8,58.7 75.5,58.9 76.2,59.0 76.9,59.1 77.6,59.2 78.3,59.3 78.9,59.3 79.6,59.3 80.3,59.3 81.0,59.4 81.7,59.4 82.4,59.4 83.1,59.4" fill="none" stroke="#009966" stroke-width="0.6" stroke-opacity="0.8" stroke-linejoin="round"/>
<path d="M27.7,59.4 28.4,59.4 29.1,59.4 29.9,59.4 30.6,59.3 31.3,59.3 32.0,59.3 32.7,59.3 33.4,59.2 34.1,59.1 34.8,59.0 35.5,58.9 36.2,58.7 37.0,58.5 37.7,58.1 38.4,57.7 39.1,57.2 39.8,56.6 40.5,55.8 41.2,54.9 41.9,53.7 42.6,52.4 43.4,50.8 44.1,49.0 44.8,46.9 45.5,44.6 46.2,42.0 46.9,39.2 47.6,36.2 48.3,33.1 49.0,29.9 49.7,26.6 50.5,23.4 51.2,20.3 51.9,17.4 52.6,14.7 53.3,12.5 54.0,10.6 54.7,9.3 55.4,8.4 56.1,8.1 56.8,8.4 57.6,9.3 58.3,10.6 59.0,12.5 59.7,14.7 60.4,17.4 61.1,20.3 61.8,23.4 62.5,26.6 63.2,29.9 64.0,33.1 64.7,36.2 65.4,39.2 66.1,42.0 66.8,44.6 67.5,46.9 68.2,49.0 68.9,50.8 69.6,52.4 70.3,53.7 71.1,54.9 71.8,55.8 72.5,56.6 73.2,57.2 73.9,57.7 74.6,58.1 75.3,58.5 76.0,58.7 76.7,58.9 77.4,59.0 78.2,59.1 78.9,59.2 79.6,59.3 80.3,59.3 81.0,59.3 81.7,59.3 82.4,59.4 83.1,59.4 83.8,59.4 84.6,59.4" fill="none" stroke="#808080" stroke-width="0.6" stroke-opacity="0.8" stroke-linejoin="round"/>
<path d="M27.9,59.4 28.6,59.4 29.3,59.4 30.0,59.4 30.7,59.3 31.4,59.3 32.1,59.3 32.7,59.3 33.4,59.2 34.1,59.1 34.8,59.0 35.5,58.9 36.2,58.7 36.9,58.5 37.6,58.1 38.3,57.7 39.0,57.2 39.7,56.6 40.4,55.8 41.1,54.9 41.8,53.7 42.5,52.4 43.2,50.8 43.9,49.0 44.6,46.9 45.3,44.6 46.0,42.0 46.7,39.2 47.4,36.2 48.1,33.1 48.8,29.9 49.5,26.6 50.2,23.4 50.9,20.3 51.6,17.4 52.3,14.7 53.0,12.5 53.7,10.6 54.4,9.3 55.1,8.4 55.8,8.1 56.5,8.4 57.2,9.3 57.9,10.6 58.6,12.5 59.3,14.7 60.0,17.4 60.7,20.3 61.4,23.4 62.1,26.6 62.8,29.9 63.5,33.1 64.2,36.2 64.9,39.2 65.6,42.0 66.3,44.6 67.0,46.9 67.7,49.0 68.4,50.8 69.1,52.4 69.8,53.7 70.5,54.9 71.2,55.8 71.9,56.6 72.6,57.2 73.3,57.7 74.0,58.1 74.7,58.5 75.4,58.7 76.1,58.9 76.8,59.0 77.5,59.1 78.2,59.2 78.9,59.3 79.6,59.3 80.3,59.3 81.0,59.3 81.7,59.4 82.4,59.4 83.1,59.4 83.8,59.4" fill="none" stroke="#e03424" stroke-width="0.6" stroke-opacity="0.8" stroke-linejoin="round"/>
<path d="M27.5,59.4 28.2,59.4 28.9,59.4 29.6,59.4 30.3,59.3 31.0,59.3 31.7,59.3 32.4,59.3 33.1,59.2 33.8,59.1 34.5,59.0 35.2,58.9 35.9,58.7 36.6,58.5 37.3,58.1 38.0,57.7 38.7,57.2 39.4,56.6 40.1,55.8 40.8,54.9 41.5,53.7 42.2,52.4 42.9,50.8 43.6,49.0 44.3,46.9 45.0,44.6 45.7,42.0 46.4,39.2 47.1,36.2 47.8,33.1 48.5,29.9 49.2,26.6 49.9,23.4 50.6,20.3 51.3,17.4 52.0,14.7 52.7,12.5 53.4,10.6 54.1,9.3 54.8,8.4 55.5,8.1 56.2,8.4 56.9,9.3 57.6,10.6 58.3,12.5 59.0,14.7 59.7,17.4 60.4,20.3 61.1,23.4 61.8,26.6 62.5,29.9 63.2,33.1 63.9,36.2 64.6,39.2 65.3,42.0 66.0,44.6 66.7,46.9 67.3,49.0 68.0,50.8 68.7,52.4 69.4,53.7 70.1,54.9 70.8,55.8 71.5,56.6 72.2,57.2 72.9,57.7 73.6,58.1 74.3,58.5 75.0,58.7 75.7,58.9 76.4,59.0 77.1,59.1 77.8,59.2 78.5,59.3 79.2,59.3 79.9,59.3 80.6,59.3 81.3,59.4 82.0,59.4 82.7,59.4 83.4,59.4" fill="none" stroke="#006fed" stroke-width="0.6" stroke-opacity="0.8" stroke-linejoin="round"/>
</g>
<clipPath id="dL1"><rect x="85.39" y="61.67" width="55.45" height="56.93"/></clipPath>
<g clip-path="url(#dL1)">
<path d="M83.9,118.6 84.6,118.6 85.4,118.6 86.2,118.6 86.9,118.6 87.7,118.5 88.4,118.5 89.2,118.5 89.9,118.4 90.7,118.3 91.5,118.2 92.2,118.1 93.0,117.9 93.7,117.7 94.5,117.4 95.2,117.0 96.0,116.5 96.8,115.8 97.5,115.0 98.3,114.1 99.0,113.0 99.8,111.6 100.5,110.0 101.3,108.2 102.1,106.1 102.8,103.8 103.6,101.2 104.3,98.4 105.1,95.4 105.8,92.3 106.6,89.1 107.4,85.8 108.1,82.6 108.9,79.5 109.6,76.6 110.4,74.0 111.1,71.7 111.9,69.8 112.7,68.5 113.4,67.6 114.2,67.4 114.9,67.6 115.7,68.5 116.4,69.8 117.2,71.7 118.0,74.0 118.7,76.6 119.5,79.5 120.2,82.6 121.0,85.8 121.7,89.1 122.5,92.3 123.3,95.4 124.0,98.4 124.8,101.2 125.5,103.8 126.3,106.1 127.0,108.2 127.8,110.0 128.5,111.6 129.3,113.0 130.1,114.1 130.8,115.0 131.6,115.8 132.3,116.5 133.1,117.0 133.8,117.4 134.6,117.7 135.4,117.9 136.1,118.1 136.9,118.2 137.6,118.3 138.4,118.4 139.1,118.5 139.9,118.5 140.7,118.5 141.4,118.6 142.2,118.6 142.9,118.6 143.7,118.6 144.4,118.6" fill="none" stroke="#000866" stroke-width="0.6" stroke-opacity="0.8" stroke-linejoin="round"/>
<path d="M83.9,118.6 84.6,118.6 85.4,118.6 86.2,118.6 86.9,118.6 87.7,118.5 88.4,118.5 89.2,118.5 89.9,118.4 90.7,118.3 91.5,118.2 92.2,118.1 93.0,117.9 93.7,117.7 94.5,117.4 95.2,117.0 96.0,116.5 96.8,115.8 97.5,115.0 98.3,114.1 99.0,113.0 99.8,111.6 100.5,110.0 101.3,108.2 102.1,106.1 102.8,103.8 103.6,101.2 104.3,98.4 105.1,95.4 105.8,92.3 106.6,89.1 107.4,85.8 108.1,82.6 108.9,79.5 109.6,76.6 110.4,74.0 111.1,71.7 111.9,69.8 112.7,68.5 113.4,67.6 114.2,67.4 114.9,67.6 115.7,68.5 116.4,69.8 117.2,71.7 118.0,74.0 118.7,76.6 119.5,79.5 120.2,82.6 121.0,85.8 121.7,89.1 122.5,92.3 123.3,95.4 124.0,98.4 124.8,101.2 125.5,103.8 126.3,106.1 127.0,108.2 127.8,110.0 128.5,111.6 129.3,113.0 130.1,114.1 130.8,115.0 131.6,115.8 132.3,116.5 133.1,117.0 133.8,117.4 134.6,117.7 135.4,117.9 136.1,118.1 136.9,118.2 137.6,118.3 138.4,118.4 139.1,118.5 139.9,118.5 140.7,118.5 141.4,118.6 142.2,118.6 142.9,118.6 143.7,118.6 144.4,118.6" fill="none" stroke="#009966" stroke-width="0.6" stroke-opacity="0.8" stroke-linejoin="round"/>
<path d="M83.9,118.6 84.6,118.6 85.4,118.6 86.2,118.6 86.9,118.6 87.7,118.5 88.4,118.5 89.2,118.5 89.9,118.4 90.7,118.3 91.5,118.2 92.2,118.1 93.0,117.9 93.7,117.7 94.5,117.4 95.2,117.0 96.0,116.5 96.8,115.8 97.5,115.0 98.3,114.1 99.0,113.0 99.8,111.6 100.5,110.0 101.3,108.2 102.1,106.1 102.8,103.8 103.6,101.2 104.3,98.4 105.1,95.4 105.8,92.3 106.6,89.1 107.4,85.8 108.1,82.6 108.9,79.5 109.6,76.6 110.4,74.0 111.1,71.7 111.9,69.8 112.7,68.5 113.4,67.6 114.2,67.4 114.9,67.6 115.7,68.5 116.4,69.8 117.2,71.7 118.0,74.0 118.7,76.6 119.5,79.5 120.2,82.6 121.0,85.8 121.7,89.1 122.5,92.3 123.3,95.4 124.0,98.4 124.8,101.2 125.5,103.8 126.3,106.1 127.0,108.2 127.8,110.0 128.5,111.6 129.3,113.0 130.1,114.1 130.8,115.0 131.6,115.8 132.3,116.5 133.1,117.0 133.8,117.4 134.6,117.7 135.4,117.9 136.1,118.1 136.9,118.2 137.6,118.3 138.4,118.4 139.1,118.5 139.9,118.5 140.7,118.5 141.4,118.6 142.2,118.6 142.9,118.6 143.7,118.6 144.4,118.6" fill="none" stroke="#808080" stroke-width="0.6" stroke-opacity="0.8" stroke-linejoin="round"/>
<path d="M83.9,118.6 84.6,118.6 85.4,118.6 86.2,118.6 86.9,118.6 87.7,118.5 88.4,118.5 89.2,118.5 89.9,118.4 90.7,118.3 91.5,118.2 92.2,118.1 93.0,117.9 93.7,117.7 94.5,117.4 95.2,117.0 96.0,116.5 96.8,115.8 97.5,115.0 98.3,114.1 99.0,113.0 99.8,111.6 100.5,110.0 101.3,108.2 102.1,106.1 102.8,103.8 103.6,101.2 104.3,98.4 105.1,95.4 105.8,92.3 106.6,89.1 107.4,85.8 108.1,82.6 108.9,79.5 109.6,76.6 110.4,74.0 111.1,71.7 111.9,69.8 112.7,68.5 113.4,67.6 114.2,67.4 114.9,67.6 115.7,68.5 116.4,69.8 117.2,71.7 118.0,74.0 118.7,76.6 119.5,79.5 120.2,82.6 121.0,85.8 121.7,89.1 122.5,92.3 123.3,95.4 124.0,98.4 124.8,101.2 125.5,103.8 126.3,106.1 127.0,108.2 127.8,110.0 128.5,111.6 129.3,113.0 130.1,114.1 130.8,115.0 131.6,115.8 132.3,116.5 133.1,117.0 133.8,117.4 134.6,117.7 135.4,117.9 136.1,118.1 136.9,118.2 137.6,118.3 138.4,118.4 139.1,118.5 139.9,118.5 140.7,118.5 141.4,118.6 142.2,118.6 142.9,118.6 143.7,118.6 144.4,118.6" fill="none" stroke="#e03424" stroke-width="0.6" stroke-opacity="0.8" stroke-linejoin="round"/>
<path d="M83.9,118.6 84.6,118.6 85.4,118.6 86.2,118.6 86.9,118.6 87.7,118.5 88.4,118.5 89.2,118.5 89.9,118.4 90.7,118.3 91.5,118.2 92.2,118.1 93.0,117.9 93.7,117.7 94.5,117.4 95.2,117.0 96.0,116.5 96.8,115.8 97.5,115.0 98.3,114.1 99.0,113.0 99.8,111.6 100.5,110.0 101.3,108.2 102.1,106.1 102.8,103.8 103.6,101.2 104.3,98.4 105.1,95.4 105.8,92.3 106.6,89.1 107.4,85.8 108.1,82.6 108.9,79.5 109.6,76.6 110.4,74.0 111.1,71.7 111.9,69.8 112.7,68.5 113.4,67.6 114.2,67.4 114.9,67.6 115.7,68.5 116.4,69.8 117.2,71.7 118.0,74.0 118.7,76.6 119.5,79.5 120.2,82.6 121.0,85.8 121.7,89.1 122.5,92.3 123.3,95.4 124.0,98.4 124.8,101.2 125.5,103.8 126.3,106.1 127.0,108.2 127.8,110.0 128.5,111.6 129.3,113.0 130.1,114.1 130.8,115.0 131.6,115.8 132.3,116.5 133.1,117.0 133.8,117.4 134.6,117.7 135.4,117.9 136.1,118.1 136.9,118.2 137.6,118.3 138.4,118.4 139.1,118.5 139.9,118.5 140.7,118.5 141.4,118.6 142.2,118.6 142.9,118.6 143.7,118.6 144.4,118.6" fill="none" stroke="#006fed" stroke-width="0.6" stroke-opacity="0.8" stroke-linejoin="round"/>
</g>
<clipPath id="dL2"><rect x="143.92" y="120.89" width="55.45" height="56.93"/></clipPath>
<g clip-path="url(#dL2)">
<path d="M146.2,177.8 146.9,177.8 147.6,177.8 148.4,177.8 149.1,177.8 149.8,177.8 150.5,177.7 151.2,177.7 151.9,177.6 152.6,177.6 153.3,177.5 154.0,177.3 154.7,177.1 155.4,176.9 156.1,176.6 156.8,176.2 157.5,175.7 158.2,175.0 158.9,174.3 159.6,173.3 160.3,172.2 161.0,170.8 161.7,169.2 162.4,167.4 163.1,165.3 163.9,163.0 164.6,160.4 165.3,157.6 166.0,154.7 166.7,151.5 167.4,148.3 168.1,145.0 168.8,141.8 169.5,138.7 170.2,135.8 170.9,133.2 171.6,130.9 172.3,129.1 173.0,127.7 173.7,126.9 174.4,126.6 175.1,126.9 175.8,127.7 176.5,129.1 177.2,130.9 177.9,133.2 178.6,135.8 179.3,138.7 180.1,141.8 180.8,145.0 181.5,148.3 182.2,151.5 182.9,154.7 183.6,157.6 184.3,160.4 185.0,163.0 185.7,165.3 186.4,167.4 187.1,169.2 187.8,170.8 188.5,172.2 189.2,173.3 189.9,174.3 190.6,175.0 191.3,175.7 192.0,176.2 192.7,176.6 193.4,176.9 194.1,177.1 194.8,177.3 195.6,177.5 196.3,177.6 197.0,177.6 197.7,177.7 198.4,177.7 199.1,177.8 199.8,177.8 200.5,177.8 201.2,177.8 201.9,177.8 202.6,177.8" fill="none" stroke="#000866" stroke-width="0.6" stroke-opacity="0.8" stroke-linejoin="round"/>
<path d="M145.4,177.8 146.1,177.8 146.8,177.8 147.5,177.8 148.2,177.8 148.9,177.8 149.6,177.7 150.3,177.7 151.0,177.6 151.7,177.6 152.5,177.5 153.2,177.3 153.9,177.1 154.6,176.9 155.3,176.6 156.0,176.2 156.7,175.7 157.4,175.0 158.1,174.3 158.8,173.3 159.5,172.2 160.2,170.8 160.9,169.2 161.6,167.4 162.3,165.3 163.0,163.0 163.7,160.4 164.4,157.6 165.1,154.7 165.8,151.5 166.5,148.3 167.2,145.0 167.9,141.8 168.7,138.7 169.4,135.8 170.1,133.2 170.8,130.9 171.5,129.1 172.2,127.7 172.9,126.9 173.6,126.6 174.3,126.9 175.0,127.7 175.7,129.1 176.4,130.9 177.1,133.2 177.8,135.8 178.5,138.7 179.2,141.8 179.9,145.0 180.6,148.3 181.3,151.5 182.0,154.7 182.7,157.6 183.4,160.4 184.2,163.0 184.9,165.3 185.6,167.4 186.3,169.2 187.0,170.8 187.7,172.2 188.4,173.3 189.1,174.3 189.8,175.0 190.5,175.7 191.2,176.2 191.9,176.6 192.6,176.9 193.3,177.1 194.0,177.3 194.7,177.5 195.4,177.6 196.1,177.6 196.8,177.7 197.5,177.7 198.2,177.8 198.9,177.8 199.7,177.8 200.4,177.8 201.1,177.8 201.8,177.8" fill="none" stroke="#009966" stroke-width="0.6" stroke-opacity="0.8" stroke-linejoin="round"/>
<path d="M146.2,177.8 146.9,177.8 147.6,177.8 148.4,177.8 149.1,177.8 149.8,177.8 150.5,177.7 151.2,177.7 151.9,177.6 152.6,177.6 153.3,177.5 154.0,177.3 154.7,177.1 155.4,176.9 156.1,176.6 156.8,176.2 157.5,175.7 158.2,175.0 158.9,174.3 159.6,173.3 160.3,172.2 161.0,170.8 161.7,169.2 162.4,167.4 163.1,165.3 163.9,163.0 164.6,160.4 165.3,157.6 166.0,154.7 166.7,151.5 167.4,148.3 168.1,145.0 168.8,141.8 169.5,138.7 170.2,135.8 170.9,133.2 171.6,130.9 172.3,129.1 173.0,127.7 173.7,126.9 174.4,126.6 175.1,126.9 175.8,127.7 176.5,129.1 177.2,130.9 177.9,133.2 178.6,135.8 179.3,138.7 180.1,141.8 180.8,145.0 181.5,148.3 182.2,151.5 182.9,154.7 183.6,157.6 184.3,160.4 185.0,163.0 185.7,165.3 186.4,167.4 187.1,169.2 187.8,170.8 188.5,172.2 189.2,173.3 189.9,174.3 190.6,175.0 191.3,175.7 192.0,176.2 192.7,176.6 193.4,176.9 194.1,177.1 194.8,177.3 195.6,177.5 196.3,177.6 197.0,177.6 197.7,177.7 198.4,177.7 199.1,177.8 199.8,177.8 200.5,177.8 201.2,177.8 201.9,177.8 202.6,177.8" fill="none" stroke="#808080" stroke-width="0.6" stroke-opacity="0.8" stroke-linejoin="round"/>
<path d="M147.1,177.8 147.8,177.8 148.5,177.8 149.2,177.8 149.9,177.8 150.6,177.8 151.3,177.7 152.0,177.7 152.7,177.6 153.4,177.6 154.1,177.5 154.8,177.3 155.5,177.1 156.2,176.9 156.9,176.6 157.6,176.2 158.3,175.7 159.0,175.0 159.8,174.3 160.5,173.3 161.2,172.2 161.9,170.8 162.6,169.2 163.3,167.4 164.0,165.3 164.7,163.0 165.4,160.4 166.1,157.6 166.8,154.7 167.5,151.5 168.2,148.3 168.9,145.0 169.6,141.8 170.3,138.7 171.0,135.8 171.7,133.2 172.4,130.9 173.1,129.1 173.8,127.7 174.5,126.9 175.2,126.6 176.0,126.9 176.7,127.7 177.4,129.1 178.1,130.9 178.8,133.2 179.5,135.8 180.2,138.7 180.9,141.8 181.6,145.0 182.3,148.3 183.0,151.5 183.7,154.7 184.4,157.6 185.1,160.4 185.8,163.0 186.5,165.3 187.2,167.4 187.9,169.2 188.6,170.8 189.3,172.2 190.0,173.3 190.7,174.3 191.5,175.0 192.2,175.7 192.9,176.2 193.6,176.6 194.3,176.9 195.0,177.1 195.7,177.3 196.4,177.5 197.1,177.6 197.8,177.6 198.5,177.7 199.2,177.7 199.9,177.8 200.6,177.8 201.3,177.8 202.0,177.8 202.7,177.8 203.4,177.8" fill="none" stroke="#e03424" stroke-width="0.6" stroke-opacity="0.8" stroke-linejoin="round"/>
<path d="M146.4,177.8 147.1,177.8 147.8,177.8 148.5,177.8 149.2,177.8 149.9,177.8 150.6,177.7 151.3,177.7 152.0,177.6 152.7,177.6 153.4,177.5 154.2,177.3 154.9,177.1 155.6,176.9 156.3,176.6 157.0,176.2 157.7,175.7 158.4,175.0 159.1,174.3 159.8,173.3 160.5,172.2 161.2,170.8 161.9,169.2 162.6,167.4 163.3,165.3 164.0,163.0 164.7,160.4 165.4,157.6 166.1,154.7 166.8,151.5 167.5,148.3 168.2,145.0 168.9,141.8 169.7,138.7 170.4,135.8 171.1,133.2 171.8,130.9 172.5,129.1 173.2,127.7 173.9,126.9 174.6,126.6 175.3,126.9 176.0,127.7 176.7,129.1 177.4,130.9 178.1,133.2 178.8,135.8 179.5,138.7 180.2,141.8 180.9,145.0 181.6,148.3 182.3,151.5 183.0,154.7 183.7,157.6 184.4,160.4 185.2,163.0 185.9,165.3 186.6,167.4 187.3,169.2 188.0,170.8 188.7,172.2 189.4,173.3 190.1,174.3 190.8,175.0 191.5,175.7 192.2,176.2 192.9,176.6 193.6,176.9 194.3,177.1 195.0,177.3 195.7,177.5 196.4,177.6 197.1,177.6 197.8,177.7 198.5,177.7 199.2,177.8 199.9,177.8 200.7,177.8 201.4,177.8 202.1,177.8 202.8,177.8" fill="none" stroke="#006fed" stroke-width="0.6" stroke-opacity="0.8" stroke-linejoin="round"/>
</g>
<clipPath id="dL3"><rect x="202.45" y="180.11" width="55.45" height="56.93"/></clipPath>
<g clip-path="url(#dL3)">
<path d="M203.4,237.0 204.1,237.0 204.7,237.0 205.4,237.0 206.0,237.0 206.7,237.0 207.3,237.0 207.9,236.9 208.6,236.9 209.2,236.8 209.9,236.7 210.5,236.5 211.1,236.4 211.8,236.1 212.4,235.8 213.1,235.4 213.7,234.9 214.3,234.3 215.0,233.5 215.6,232.5 216.3,231.4 216.9,230.0 217.5,228.5 218.2,226.6 218.8,224.5 219.5,222.2 220.1,219.6 220.7,216.9 221.4,213.9 222.0,210.7 222.7,207.5 223.3,204.3 223.9,201.0 224.6,197.9 225.2,195.0 225.9,192.4 226.5,190.1 227.1,188.3 227.8,186.9 228.4,186.1 229.1,185.8 229.5,186.1 230.0,186.9 230.4,188.3 230.9,190.1 231.3,192.4 231.8,195.0 232.2,197.9 232.7,201.0 233.1,204.3 233.5,207.5 234.0,210.7 234.4,213.9 234.9,216.9 235.3,219.6 235.8,222.2 236.2,224.5 236.7,226.6 237.1,228.5 237.6,230.0 238.0,231.4 238.5,232.5 238.9,233.5 239.4,234.3 239.8,234.9 240.3,235.4 240.7,235.8 241.2,236.1 241.6,236.4 242.1,236.5 242.5,236.7 243.0,236.8 243.4,236.9 243.9,236.9 244.3,237.0 244.8,237.0 245.2,237.0 245.7,237.0 246.1,237.0 246.6,237.0 247.0,237.0" fill="none" stroke="#000866" stroke-width="0.6" stroke-opacity="0.8" stroke-linejoin="round"/>
<path d="M211.7,237.0 212.2,237.0 212.7,237.0 213.2,237.0 213.7,237.0 214.2,237.0 214.7,237.0 215.2,236.9 215.7,236.9 216.2,236.8 216.7,236.7 217.2,236.5 217.6,236.4 218.1,236.1 218.6,235.8 219.1,235.4 219.6,234.9 220.1,234.3 220.6,233.5 221.1,232.5 221.6,231.4 222.1,230.0 222.6,228.5 223.1,226.6 223.6,224.5 224.1,222.2 224.6,219.6 225.1,216.9 225.6,213.9 226.1,210.7 226.6,207.5 227.1,204.3 227.5,201.0 228.0,197.9 228.5,195.0 229.0,192.4 229.5,190.1 230.0,188.3 230.5,186.9 231.0,186.1 231.5,185.8 232.1,186.1 232.6,186.9 233.2,188.3 233.7,190.1 234.3,192.4 234.8,195.0 235.4,197.9 235.9,201.0 236.5,204.3 237.0,207.5 237.6,210.7 238.1,213.9 238.7,216.9 239.2,219.6 239.8,222.2 240.4,224.5 240.9,226.6 241.5,228.5 242.0,230.0 242.6,231.4 243.1,232.5 243.7,233.5 244.2,234.3 244.8,234.9 245.3,235.4 245.9,235.8 246.4,236.1 247.0,236.4 247.5,236.5 248.1,236.7 248.7,236.8 249.2,236.9 249.8,236.9 250.3,237.0 250.9,237.0 251.4,237.0 252.0,237.0 252.5,237.0 253.1,237.0 253.6,237.0" fill="none" stroke="#009966" stroke-width="0.6" stroke-opacity="0.8" stroke-linejoin="round"/>
<path d="M209.2,237.0 209.7,237.0 210.2,237.0 210.7,237.0 211.2,237.0 211.7,237.0 212.3,237.0 212.8,236.9 213.3,236.9 213.8,236.8 214.3,236.7 214.8,236.5 215.3,236.4 215.8,236.1 216.4,235.8 216.9,235.4 217.4,234.9 217.9,234.3 218.4,233.5 218.9,232.5 219.4,231.4 219.9,230.0 220.5,228.5 221.0,226.6 221.5,224.5 222.0,222.2 222.5,219.6 223.0,216.9 223.5,213.9 224.0,210.7 224.6,207.5 225.1,204.3 225.6,201.0 226.1,197.9 226.6,195.0 227.1,192.4 227.6,190.1 228.1,188.3 228.7,186.9 229.2,186.1 229.7,185.8 230.1,186.1 230.5,186.9 231.0,188.3 231.4,190.1 231.9,192.4 232.3,195.0 232.7,197.9 233.2,201.0 233.6,204.3 234.0,207.5 234.5,210.7 234.9,213.9 235.4,216.9 235.8,219.6 236.2,222.2 236.7,224.5 237.1,226.6 237.5,228.5 238.0,230.0 238.4,231.4 238.8,232.5 239.3,233.5 239.7,234.3 240.2,234.9 240.6,235.4 241.0,235.8 241.5,236.1 241.9,236.4 242.3,236.5 242.8,236.7 243.2,236.8 243.6,236.9 244.1,236.9 244.5,237.0 245.0,237.0 245.4,237.0 245.8,237.0 246.3,237.0 246.7,237.0 247.1,237.0" fill="none" stroke="#808080" stroke-width="0.6" stroke-opacity="0.8" stroke-linejoin="round"/>
<path d="M212.8,237.0 213.3,237.0 213.8,237.0 214.3,237.0 214.9,237.0 215.4,237.0 215.9,237.0 216.4,236.9 217.0,236.9 217.5,236.8 218.0,236.7 218.5,236.5 219.1,236.4 219.6,236.1 220.1,235.8 220.6,235.4 221.1,234.9 221.7,234.3 222.2,233.5 222.7,232.5 223.2,231.4 223.8,230.0 224.3,228.5 224.8,226.6 225.3,224.5 225.9,222.2 226.4,219.6 226.9,216.9 227.4,213.9 228.0,210.7 228.5,207.5 229.0,204.3 229.5,201.0 230.1,197.9 230.6,195.0 231.1,192.4 231.6,190.1 232.2,188.3 232.7,186.9 233.2,186.1 233.7,185.8 234.1,186.1 234.5,186.9 234.9,188.3 235.3,190.1 235.7,192.4 236.1,195.0 236.5,197.9 236.9,201.0 237.3,204.3 237.7,207.5 238.1,210.7 238.5,213.9 238.9,216.9 239.3,219.6 239.7,222.2 240.1,224.5 240.5,226.6 240.9,228.5 241.2,230.0 241.6,231.4 242.0,232.5 242.4,233.5 242.8,234.3 243.2,234.9 243.6,235.4 244.0,235.8 244.4,236.1 244.8,236.4 245.2,236.5 245.6,236.7 246.0,236.8 246.4,236.9 246.8,236.9 247.2,237.0 247.6,237.0 248.0,237.0 248.4,237.0 248.8,237.0 249.2,237.0 249.6,237.0" fill="none" stroke="#e03424" stroke-width="0.6" stroke-opacity="0.8" stroke-linejoin="round"/>
<path d="M220.9,237.0 221.2,237.0 221.5,237.0 221.8,237.0 222.1,237.0 222.4,237.0 222.7,237.0 223.0,236.9 223.2,236.9 223.5,236.8 223.8,236.7 224.1,236.5 224.4,236.4 224.7,236.1 225.0,235.8 225.3,235.4 225.6,234.9 225.9,234.3 226.2,233.5 226.4,232.5 226.7,231.4 227.0,230.0 227.3,228.5 227.6,226.6 227.9,224.5 228.2,222.2 228.5,219.6 228.8,216.9 229.1,213.9 229.4,210.7 229.6,207.5 229.9,204.3 230.2,201.0 230.5,197.9 230.8,195.0 231.1,192.4 231.4,190.1 231.7,188.3 232.0,186.9 232.3,186.1 232.6,185.8 232.9,186.1 233.1,186.9 233.4,188.3 233.7,190.1 234.0,192.4 234.3,195.0 234.6,197.9 234.9,201.0 235.2,204.3 235.5,207.5 235.8,210.7 236.1,213.9 236.3,216.9 236.6,219.6 236.9,222.2 237.2,224.5 237.5,226.6 237.8,228.5 238.1,230.0 238.4,231.4 238.7,232.5 239.0,233.5 239.3,234.3 239.5,234.9 239.8,235.4 240.1,235.8 240.4,236.1 240.7,236.4 241.0,236.5 241.3,236.7 241.6,236.8 241.9,236.9 242.2,236.9 242.5,237.0 242.7,237.0 243.0,237.0 243.3,237.0 243.6,237.0 243.9,237.0 244.2,237.0" fill="none" stroke="#006fed" stroke-width="0.6" stroke-opacity="0.8" stroke-linejoin="round"/>
</g>
<clipPath id="dL4"><rect x="260.98" y="239.33" width="55.45" height="56.93"/></clipPath>
<g clip-path="url(#dL4)">
<path d="M274.6,296.3 275.2,296.2 275.8,296.2 276.4,296.2 276.9,296.2 277.5,296.2 278.1,296.2 278.7,296.1 279.2,296.1 279.8,296.0 280.4,295.9 281.0,295.8 281.5,295.6 282.1,295.3 282.7,295.0 283.3,294.6 283.9,294.1 284.4,293.5 285.0,292.7 285.6,291.8 286.2,290.6 286.7,289.3 287.3,287.7 287.9,285.8 288.5,283.8 289.0,281.4 289.6,278.9 290.2,276.1 290.8,273.1 291.3,270.0 291.9,266.7 292.5,263.5 293.1,260.3 293.7,257.2 294.2,254.2 294.8,251.6 295.4,249.3 296.0,247.5 296.5,246.1 297.1,245.3 297.7,245.0 298.1,245.3 298.5,246.1 299.0,247.5 299.4,249.3 299.8,251.6 300.3,254.2 300.7,257.2 301.1,260.3 301.6,263.5 302.0,266.7 302.4,270.0 302.9,273.1 303.3,276.1 303.7,278.9 304.2,281.4 304.6,283.8 305.0,285.8 305.4,287.7 305.9,289.3 306.3,290.6 306.7,291.8 307.2,292.7 307.6,293.5 308.0,294.1 308.5,294.6 308.9,295.0 309.3,295.3 309.8,295.6 310.2,295.8 310.6,295.9 311.0,296.0 311.5,296.1 311.9,296.1 312.3,296.2 312.8,296.2 313.2,296.2 313.6,296.2 314.1,296.2 314.5,296.2 314.9,296.3" fill="none" stroke="#000866" stroke-width="0.6" stroke-opacity="0.8" stroke-linejoin="round"/>
<path d="M279.9,296.3 280.5,296.2 281.1,296.2 281.6,296.2 282.2,296.2 282.7,296.2 283.3,296.2 283.9,296.1 284.4,296.1 285.0,296.0 285.6,295.9 286.1,295.8 286.7,295.6 287.3,295.3 287.8,295.0 288.4,294.6 289.0,294.1 289.5,293.5 290.1,292.7 290.7,291.8 291.2,290.6 291.8,289.3 292.3,287.7 292.9,285.8 293.5,283.8 294.0,281.4 294.6,278.9 295.2,276.1 295.7,273.1 296.3,270.0 296.9,266.7 297.4,263.5 298.0,260.3 298.6,257.2 299.1,254.2 299.7,251.6 300.3,249.3 300.8,247.5 301.4,246.1 301.9,245.3 302.5,245.0 303.1,245.3 303.6,246.1 304.1,247.5 304.7,249.3 305.2,251.6 305.8,254.2 306.3,257.2 306.8,260.3 307.4,263.5 307.9,266.7 308.5,270.0 309.0,273.1 309.6,276.1 310.1,278.9 310.6,281.4 311.2,283.8 311.7,285.8 312.3,287.7 312.8,289.3 313.3,290.6 313.9,291.8 314.4,292.7 315.0,293.5 315.5,294.1 316.0,294.6 316.6,295.0 317.1,295.3 317.7,295.6 318.2,295.8 318.8,295.9 319.3,296.0 319.8,296.1 320.4,296.1 320.9,296.2 321.5,296.2 322.0,296.2 322.5,296.2 323.1,296.2 323.6,296.2 324.2,296.3" fill="none" stroke="#009966" stroke-width="0.6" stroke-opacity="0.8" stroke-linejoin="round"/>
<path d="M279.6,296.3 280.1,296.2 280.5,296.2 281.0,296.2 281.5,296.2 281.9,296.2 282.4,296.2 282.9,296.1 283.3,296.1 283.8,296.0 284.3,295.9 284.7,295.8 285.2,295.6 285.7,295.3 286.1,295.0 286.6,294.6 287.1,294.1 287.5,293.5 288.0,292.7 288.5,291.8 288.9,290.6 289.4,289.3 289.9,287.7 290.3,285.8 290.8,283.8 291.3,281.4 291.7,278.9 292.2,276.1 292.7,273.1 293.1,270.0 293.6,266.7 294.1,263.5 294.5,260.3 295.0,257.2 295.4,254.2 295.9,251.6 296.4,249.3 296.8,247.5 297.3,246.1 297.8,245.3 298.2,245.0 298.6,245.3 299.0,246.1 299.4,247.5 299.8,249.3 300.1,251.6 300.5,254.2 300.9,257.2 301.3,260.3 301.6,263.5 302.0,266.7 302.4,270.0 302.8,273.1 303.2,276.1 303.5,278.9 303.9,281.4 304.3,283.8 304.7,285.8 305.1,287.7 305.4,289.3 305.8,290.6 306.2,291.8 306.6,292.7 306.9,293.5 307.3,294.1 307.7,294.6 308.1,295.0 308.5,295.3 308.8,295.6 309.2,295.8 309.6,295.9 310.0,296.0 310.4,296.1 310.7,296.1 311.1,296.2 311.5,296.2 311.9,296.2 312.2,296.2 312.6,296.2 313.0,296.2 313.4,296.3" fill="none" stroke="#808080" stroke-width="0.6" stroke-opacity="0.8" stroke-linejoin="round"/>
<path d="M285.7,296.3 286.1,296.2 286.5,296.2 286.9,296.2 287.4,296.2 287.8,296.2 288.2,296.2 288.6,296.1 289.0,296.1 289.4,296.0 289.8,295.9 290.2,295.8 290.7,295.6 291.1,295.3 291.5,295.0 291.9,294.6 292.3,294.1 292.7,293.5 293.1,292.7 293.6,291.8 294.0,290.6 294.4,289.3 294.8,287.7 295.2,285.8 295.6,283.8 296.0,281.4 296.4,278.9 296.9,276.1 297.3,273.1 297.7,270.0 298.1,266.7 298.5,263.5 298.9,260.3 299.3,257.2 299.8,254.2 300.2,251.6 300.6,249.3 301.0,247.5 301.4,246.1 301.8,245.3 302.2,245.0 302.6,245.3 303.0,246.1 303.4,247.5 303.8,249.3 304.2,251.6 304.6,254.2 305.0,257.2 305.4,260.3 305.7,263.5 306.1,266.7 306.5,270.0 306.9,273.1 307.3,276.1 307.7,278.9 308.1,281.4 308.5,283.8 308.9,285.8 309.3,287.7 309.6,289.3 310.0,290.6 310.4,291.8 310.8,292.7 311.2,293.5 311.6,294.1 312.0,294.6 312.4,295.0 312.8,295.3 313.2,295.6 313.5,295.8 313.9,295.9 314.3,296.0 314.7,296.1 315.1,296.1 315.5,296.2 315.9,296.2 316.3,296.2 316.7,296.2 317.1,296.2 317.4,296.2 317.8,296.3" fill="none" stroke="#e03424" stroke-width="0.6" stroke-opacity="0.8" stroke-linejoin="round"/>
<path d="M294.5,296.3 294.6,296.2 294.8,296.2 295.0,296.2 295.2,296.2 295.3,296.2 295.5,296.2 295.7,296.1 295.9,296.1 296.0,296.0 296.2,295.9 296.4,295.8 296.6,295.6 296.7,295.3 296.9,295.0 297.1,294.6 297.3,294.1 297.4,293.5 297.6,292.7 297.8,291.8 298.0,290.6 298.1,289.3 298.3,287.7 298.5,285.8 298.7,283.8 298.8,281.4 299.0,278.9 299.2,276.1 299.4,273.1 299.5,270.0 299.7,266.7 299.9,263.5 300.1,260.3 300.2,257.2 300.4,254.2 300.6,251.6 300.8,249.3 300.9,247.5 301.1,246.1 301.3,245.3 301.5,245.0 301.6,245.3 301.8,246.1 302.0,247.5 302.2,249.3 302.3,251.6 302.5,254.2 302.7,257.2 302.9,260.3 303.0,263.5 303.2,266.7 303.4,270.0 303.6,273.1 303.7,276.1 303.9,278.9 304.1,281.4 304.3,283.8 304.4,285.8 304.6,287.7 304.8,289.3 305.0,290.6 305.1,291.8 305.3,292.7 305.5,293.5 305.7,294.1 305.8,294.6 306.0,295.0 306.2,295.3 306.3,295.6 306.5,295.8 306.7,295.9 306.9,296.0 307.0,296.1 307.2,296.1 307.4,296.2 307.6,296.2 307.7,296.2 307.9,296.2 308.1,296.2 308.3,296.2 308.4,296.3" fill="none" stroke="#006fed" stroke-width="0.6" stroke-opacity="0.8" stroke-linejoin="round"/>
</g>
<clipPath id="dL5"><rect x="319.51" y="298.55" width="55.45" height="56.93"/></clipPath>
<g clip-path="url(#dL5)">
<path d="M315.3,355.5 316.1,355.5 316.9,355.5 317.7,355.5 318.5,355.4 319.3,355.4 320.1,355.4 320.9,355.4 321.7,355.3 322.5,355.2 323.3,355.1 324.2,355.0 325.0,354.8 325.8,354.6 326.6,354.2 327.4,353.8 328.2,353.3 329.0,352.7 329.8,351.9 330.6,351.0 331.4,349.8 332.2,348.5 333.1,346.9 333.9,345.1 334.7,343.0 335.5,340.7 336.3,338.1 337.1,335.3 337.9,332.3 338.7,329.2 339.5,326.0 340.3,322.7 341.1,319.5 342.0,316.4 342.8,313.5 343.6,310.8 344.4,308.6 345.2,306.7 346.0,305.4 346.8,304.5 347.6,304.2 348.4,304.5 349.2,305.4 350.1,306.7 350.9,308.6 351.7,310.8 352.5,313.5 353.3,316.4 354.1,319.5 354.9,322.7 355.7,326.0 356.5,329.2 357.3,332.3 358.1,335.3 359.0,338.1 359.8,340.7 360.6,343.0 361.4,345.1 362.2,346.9 363.0,348.5 363.8,349.8 364.6,351.0 365.4,351.9 366.2,352.7 367.0,353.3 367.9,353.8 368.7,354.2 369.5,354.6 370.3,354.8 371.1,355.0 371.9,355.1 372.7,355.2 373.5,355.3 374.3,355.4 375.1,355.4 375.9,355.4 376.8,355.4 377.6,355.5 378.4,355.5 379.2,355.5 380.0,355.5" fill="none" stroke="#000866" stroke-width="0.6" stroke-opacity="0.8" stroke-linejoin="round"/>
<path d="M314.9,355.5 315.8,355.5 316.7,355.5 317.6,355.5 318.5,355.4 319.4,355.4 320.3,355.4 321.2,355.4 322.1,355.3 322.9,355.2 323.8,355.1 324.7,355.0 325.6,354.8 326.5,354.6 327.4,354.2 328.3,353.8 329.2,353.3 330.1,352.7 331.0,351.9 331.9,351.0 332.7,349.8 333.6,348.5 334.5,346.9 335.4,345.1 336.3,343.0 337.2,340.7 338.1,338.1 339.0,335.3 339.9,332.3 340.8,329.2 341.7,326.0 342.5,322.7 343.4,319.5 344.3,316.4 345.2,313.5 346.1,310.8 347.0,308.6 347.9,306.7 348.8,305.4 349.7,304.5 350.6,304.2 351.5,304.5 352.3,305.4 353.2,306.7 354.1,308.6 355.0,310.8 355.9,313.5 356.8,316.4 357.7,319.5 358.6,322.7 359.5,326.0 360.4,329.2 361.3,332.3 362.1,335.3 363.0,338.1 363.9,340.7 364.8,343.0 365.7,345.1 366.6,346.9 367.5,348.5 368.4,349.8 369.3,351.0 370.2,351.9 371.1,352.7 371.9,353.3 372.8,353.8 373.7,354.2 374.6,354.6 375.5,354.8 376.4,355.0 377.3,355.1 378.2,355.2 379.1,355.3 380.0,355.4 380.8,355.4 381.7,355.4 382.6,355.4 383.5,355.5 384.4,355.5 385.3,355.5 386.2,355.5" fill="none" stroke="#009966" stroke-width="0.6" stroke-opacity="0.8" stroke-linejoin="round"/>
<path d="M318.8,355.5 319.5,355.5 320.2,355.5 321.0,355.5 321.7,355.4 322.5,355.4 323.2,355.4 323.9,355.4 324.7,355.3 325.4,355.2 326.2,355.1 326.9,355.0 327.6,354.8 328.4,354.6 329.1,354.2 329.9,353.8 330.6,353.3 331.3,352.7 332.1,351.9 332.8,351.0 333.6,349.8 334.3,348.5 335.0,346.9 335.8,345.1 336.5,343.0 337.3,340.7 338.0,338.1 338.7,335.3 339.5,332.3 340.2,329.2 340.9,326.0 341.7,322.7 342.4,319.5 343.2,316.4 343.9,313.5 344.6,310.8 345.4,308.6 346.1,306.7 346.9,305.4 347.6,304.5 348.3,304.2 349.1,304.5 349.8,305.4 350.6,306.7 351.3,308.6 352.0,310.8 352.8,313.5 353.5,316.4 354.3,319.5 355.0,322.7 355.7,326.0 356.5,329.2 357.2,332.3 358.0,335.3 358.7,338.1 359.4,340.7 360.2,343.0 360.9,345.1 361.7,346.9 362.4,348.5 363.1,349.8 363.9,351.0 364.6,351.9 365.4,352.7 366.1,353.3 366.8,353.8 367.6,354.2 368.3,354.6 369.0,354.8 369.8,355.0 370.5,355.1 371.3,355.2 372.0,355.3 372.7,355.4 373.5,355.4 374.2,355.4 375.0,355.4 375.7,355.5 376.4,355.5 377.2,355.5 377.9,355.5" fill="none" stroke="#808080" stroke-width="0.6" stroke-opacity="0.8" stroke-linejoin="round"/>
<path d="M325.5,355.5 326.1,355.5 326.8,355.5 327.5,355.5 328.2,355.4 328.9,355.4 329.6,355.4 330.3,355.4 331.0,355.3 331.7,355.2 332.4,355.1 333.1,355.0 333.8,354.8 334.5,354.6 335.2,354.2 335.8,353.8 336.5,353.3 337.2,352.7 337.9,351.9 338.6,351.0 339.3,349.8 340.0,348.5 340.7,346.9 341.4,345.1 342.1,343.0 342.8,340.7 343.5,338.1 344.2,335.3 344.9,332.3 345.5,329.2 346.2,326.0 346.9,322.7 347.6,319.5 348.3,316.4 349.0,313.5 349.7,310.8 350.4,308.6 351.1,306.7 351.8,305.4 352.5,304.5 353.2,304.2 353.9,304.5 354.6,305.4 355.2,306.7 355.9,308.6 356.6,310.8 357.3,313.5 358.0,316.4 358.7,319.5 359.4,322.7 360.1,326.0 360.8,329.2 361.5,332.3 362.2,335.3 362.9,338.1 363.6,340.7 364.3,343.0 364.9,345.1 365.6,346.9 366.3,348.5 367.0,349.8 367.7,351.0 368.4,351.9 369.1,352.7 369.8,353.3 370.5,353.8 371.2,354.2 371.9,354.6 372.6,354.8 373.3,355.0 374.0,355.1 374.6,355.2 375.3,355.3 376.0,355.4 376.7,355.4 377.4,355.4 378.1,355.4 378.8,355.5 379.5,355.5 380.2,355.5 380.9,355.5" fill="none" stroke="#e03424" stroke-width="0.6" stroke-opacity="0.8" stroke-linejoin="round"/>
<path d="M330.6,355.5 331.1,355.5 331.6,355.5 332.2,355.5 332.7,355.4 333.3,355.4 333.8,355.4 334.3,355.4 334.9,355.3 335.4,355.2 335.9,355.1 336.5,355.0 337.0,354.8 337.5,354.6 338.1,354.2 338.6,353.8 339.1,353.3 339.7,352.7 340.2,351.9 340.8,351.0 341.3,349.8 341.8,348.5 342.4,346.9 342.9,345.1 343.4,343.0 344.0,340.7 344.5,338.1 345.0,335.3 345.6,332.3 346.1,329.2 346.6,326.0 347.2,322.7 347.7,319.5 348.3,316.4 348.8,313.5 349.3,310.8 349.9,308.6 350.4,306.7 350.9,305.4 351.5,304.5 352.0,304.2 352.5,304.5 353.1,305.4 353.6,306.7 354.1,308.6 354.7,310.8 355.2,313.5 355.8,316.4 356.3,319.5 356.8,322.7 357.4,326.0 357.9,329.2 358.4,332.3 359.0,335.3 359.5,338.1 360.0,340.7 360.6,343.0 361.1,345.1 361.6,346.9 362.2,348.5 362.7,349.8 363.3,351.0 363.8,351.9 364.3,352.7 364.9,353.3 365.4,353.8 365.9,354.2 366.5,354.6 367.0,354.8 367.5,355.0 368.1,355.1 368.6,355.2 369.1,355.3 369.7,355.4 370.2,355.4 370.8,355.4 371.3,355.4 371.8,355.5 372.4,355.5 372.9,355.5 373.4,355.5" fill="none" stroke="#006fed" stroke-width="0.6" stroke-opacity="0.8" stroke-linejoin="round"/>
</g>
<rect x="26.86" y="2.45" width="55.45" height="56.93" fill="none" stroke="#6a6a6a" stroke-width="0.9"/>
<path d="M33.40,59.38v1.6M50.30,59.38v1.6M66.40,59.38v1.6" stroke="#6a6a6a" stroke-width="0.7"/>
<rect x="26.86" y="61.67" width="55.45" height="56.93" fill="none" stroke="#6a6a6a" stroke-width="0.9"/>
<path d="M33.40,118.60v1.6M50.30,118.60v1.6M66.40,118.60v1.6M26.86,111.51h-1.6M26.86,97.57h-1.6M26.86,83.59h-1.6M26.86,69.81h-1.6" stroke="#6a6a6a" stroke-width="0.7"/>
<rect x="85.39" y="61.67" width="55.45" height="56.93" fill="none" stroke="#6a6a6a" stroke-width="0.9"/>
<path d="M92.30,118.60v1.6M105.87,118.60v1.6M119.49,118.60v1.6M132.91,118.60v1.6" stroke="#6a6a6a" stroke-width="0.7"/>
<rect x="26.86" y="120.89" width="55.45" height="56.93" fill="none" stroke="#6a6a6a" stroke-width="0.9"/>
<path d="M33.40,177.82v1.6M50.30,177.82v1.6M66.40,177.82v1.6M26.86,171.48h-1.6M26.86,157.00h-1.6M26.86,142.46h-1.6M26.86,127.72h-1.6" stroke="#6a6a6a" stroke-width="0.7"/>
<rect x="85.39" y="120.89" width="55.45" height="56.93" fill="none" stroke="#6a6a6a" stroke-width="0.9"/>
<path d="M92.30,177.82v1.6M105.87,177.82v1.6M119.49,177.82v1.6M132.91,177.82v1.6M85.39,171.48h-1.6M85.39,157.00h-1.6M85.39,142.46h-1.6M85.39,127.72h-1.6" stroke="#6a6a6a" stroke-width="0.7"/>
<rect x="143.92" y="120.89" width="55.45" height="56.93" fill="none" stroke="#6a6a6a" stroke-width="0.9"/>
<path d="M150.09,177.82v1.6M164.20,177.82v1.6M178.36,177.82v1.6M192.72,177.82v1.6" stroke="#6a6a6a" stroke-width="0.7"/>
<rect x="26.86" y="180.11" width="55.45" height="56.93" fill="none" stroke="#6a6a6a" stroke-width="0.9"/>
<path d="M33.40,237.04v1.6M50.30,237.04v1.6M66.40,237.04v1.6M26.86,231.17h-1.6M26.86,219.66h-1.6M26.86,208.42h-1.6M26.86,197.17h-1.6M26.86,185.98h-1.6" stroke="#6a6a6a" stroke-width="0.7"/>
<rect x="85.39" y="180.11" width="55.45" height="56.93" fill="none" stroke="#6a6a6a" stroke-width="0.9"/>
<path d="M92.30,237.04v1.6M105.87,237.04v1.6M119.49,237.04v1.6M132.91,237.04v1.6M85.39,231.17h-1.6M85.39,219.66h-1.6M85.39,208.42h-1.6M85.39,197.17h-1.6M85.39,185.98h-1.6" stroke="#6a6a6a" stroke-width="0.7"/>
<rect x="143.92" y="180.11" width="55.45" height="56.93" fill="none" stroke="#6a6a6a" stroke-width="0.9"/>
<path d="M150.09,237.04v1.6M164.20,237.04v1.6M178.36,237.04v1.6M192.72,237.04v1.6M143.92,231.17h-1.6M143.92,219.66h-1.6M143.92,208.42h-1.6M143.92,197.17h-1.6M143.92,185.98h-1.6" stroke="#6a6a6a" stroke-width="0.7"/>
<rect x="202.45" y="180.11" width="55.45" height="56.93" fill="none" stroke="#6a6a6a" stroke-width="0.9"/>
<path d="M208.17,237.04v1.6M219.37,237.04v1.6M230.33,237.04v1.6M241.28,237.04v1.6M252.19,237.04v1.6" stroke="#6a6a6a" stroke-width="0.7"/>
<rect x="26.86" y="239.33" width="55.45" height="56.93" fill="none" stroke="#6a6a6a" stroke-width="0.9"/>
<path d="M33.40,296.26v1.6M50.30,296.26v1.6M66.40,296.26v1.6M26.86,289.58h-1.6M26.86,276.36h-1.6M26.86,263.03h-1.6M26.86,249.46h-1.6" stroke="#6a6a6a" stroke-width="0.7"/>
<rect x="85.39" y="239.33" width="55.45" height="56.93" fill="none" stroke="#6a6a6a" stroke-width="0.9"/>
<path d="M92.30,296.26v1.6M105.87,296.26v1.6M119.49,296.26v1.6M132.91,296.26v1.6M85.39,289.58h-1.6M85.39,276.36h-1.6M85.39,263.03h-1.6M85.39,249.46h-1.6" stroke="#6a6a6a" stroke-width="0.7"/>
<rect x="143.92" y="239.33" width="55.45" height="56.93" fill="none" stroke="#6a6a6a" stroke-width="0.9"/>
<path d="M150.09,296.26v1.6M164.20,296.26v1.6M178.36,296.26v1.6M192.72,296.26v1.6M143.92,289.58h-1.6M143.92,276.36h-1.6M143.92,263.03h-1.6M143.92,249.46h-1.6" stroke="#6a6a6a" stroke-width="0.7"/>
<rect x="202.45" y="239.33" width="55.45" height="56.93" fill="none" stroke="#6a6a6a" stroke-width="0.9"/>
<path d="M208.17,296.26v1.6M219.37,296.26v1.6M230.33,296.26v1.6M241.28,296.26v1.6M252.19,296.26v1.6M202.45,289.58h-1.6M202.45,276.36h-1.6M202.45,263.03h-1.6M202.45,249.46h-1.6" stroke="#6a6a6a" stroke-width="0.7"/>
<rect x="260.98" y="239.33" width="55.45" height="56.93" fill="none" stroke="#6a6a6a" stroke-width="0.9"/>
<path d="M267.48,296.26v1.6M280.36,296.26v1.6M293.34,296.26v1.6M306.57,296.26v1.6" stroke="#6a6a6a" stroke-width="0.7"/>
<rect x="26.86" y="298.55" width="55.45" height="56.93" fill="none" stroke="#6a6a6a" stroke-width="0.9"/>
<path d="M33.40,355.48v1.6M50.30,355.48v1.6M66.40,355.48v1.6M26.86,347.49h-1.6M26.86,334.06h-1.6M26.86,320.79h-1.6M26.86,307.52h-1.6" stroke="#6a6a6a" stroke-width="0.7"/>
<rect x="85.39" y="298.55" width="55.45" height="56.93" fill="none" stroke="#6a6a6a" stroke-width="0.9"/>
<path d="M92.30,355.48v1.6M105.87,355.48v1.6M119.49,355.48v1.6M132.91,355.48v1.6M85.39,347.49h-1.6M85.39,334.06h-1.6M85.39,320.79h-1.6M85.39,307.52h-1.6" stroke="#6a6a6a" stroke-width="0.7"/>
<rect x="143.92" y="298.55" width="55.45" height="56.93" fill="none" stroke="#6a6a6a" stroke-width="0.9"/>
<path d="M150.09,355.48v1.6M164.20,355.48v1.6M178.36,355.48v1.6M192.72,355.48v1.6M143.92,347.49h-1.6M143.92,334.06h-1.6M143.92,320.79h-1.6M143.92,307.52h-1.6" stroke="#6a6a6a" stroke-width="0.7"/>
<rect x="202.45" y="298.55" width="55.45" height="56.93" fill="none" stroke="#6a6a6a" stroke-width="0.9"/>
<path d="M208.17,355.48v1.6M219.37,355.48v1.6M230.33,355.48v1.6M241.28,355.48v1.6M252.19,355.48v1.6M202.45,347.49h-1.6M202.45,334.06h-1.6M202.45,320.79h-1.6M202.45,307.52h-1.6" stroke="#6a6a6a" stroke-width="0.7"/>
<rect x="260.98" y="298.55" width="55.45" height="56.93" fill="none" stroke="#6a6a6a" stroke-width="0.9"/>
<path d="M267.48,355.48v1.6M280.36,355.48v1.6M293.34,355.48v1.6M306.57,355.48v1.6M260.98,347.49h-1.6M260.98,334.06h-1.6M260.98,320.79h-1.6M260.98,307.52h-1.6" stroke="#6a6a6a" stroke-width="0.7"/>
<rect x="319.51" y="298.55" width="55.45" height="56.93" fill="none" stroke="#6a6a6a" stroke-width="0.9"/>
<path d="M327.29,355.48v1.6M340.37,355.48v1.6M353.30,355.48v1.6M366.23,355.48v1.6" stroke="#6a6a6a" stroke-width="0.7"/>
<text transform="translate(33.40,363.00) rotate(-20) scale(1,1.18)" y="1.8" text-anchor="middle" class="tk">1.041</text>
<text transform="translate(50.30,363.00) rotate(-20) scale(1,1.18)" y="1.8" text-anchor="middle" class="tk">1.042</text>
<text transform="translate(66.40,363.00) rotate(-20) scale(1,1.18)" y="1.8" text-anchor="middle" class="tk">1.043</text>
<text x="54.59" y="373.8" text-anchor="middle" class="ax">100<tspan font-style="italic">θ</tspan><tspan font-size="4.2" dy="0.9" font-style="italic" stroke-width="0.05">MC</tspan></text>
<text transform="translate(92.30,363.00) rotate(-20) scale(1,1.18)" y="1.8" text-anchor="middle" class="tk">0.0224</text>
<text transform="translate(105.87,363.00) rotate(-20) scale(1,1.18)" y="1.8" text-anchor="middle" class="tk">0.0228</text>
<text transform="translate(119.49,363.00) rotate(-20) scale(1,1.18)" y="1.8" text-anchor="middle" class="tk">0.0232</text>
<text transform="translate(132.91,363.00) rotate(-20) scale(1,1.18)" y="1.8" text-anchor="middle" class="tk">0.0236</text>
<text x="113.12" y="373.8" text-anchor="middle" class="ax">Ω<tspan font-size="4.6" dy="1.0" font-style="italic">b</tspan><tspan dy="-1.0" font-style="italic">h</tspan><tspan font-size="4.2" dy="-2.6">2</tspan></text>
<text transform="translate(150.09,363.00) rotate(-20) scale(1,1.18)" y="1.8" text-anchor="middle" class="tk">0.1050</text>
<text transform="translate(164.20,363.00) rotate(-20) scale(1,1.18)" y="1.8" text-anchor="middle" class="tk">0.1075</text>
<text transform="translate(178.36,363.00) rotate(-20) scale(1,1.18)" y="1.8" text-anchor="middle" class="tk">0.1100</text>
<text transform="translate(192.72,363.00) rotate(-20) scale(1,1.18)" y="1.8" text-anchor="middle" class="tk">0.1125</text>
<text x="171.65" y="373.8" text-anchor="middle" class="ax">Ω<tspan font-size="4.6" dy="1.0" font-style="italic">c</tspan><tspan dy="-1.0" font-style="italic">h</tspan><tspan font-size="4.2" dy="-2.6">2</tspan></text>
<text transform="translate(208.17,363.00) rotate(-20) scale(1,1.18)" y="1.8" text-anchor="middle" class="tk">2.96</text>
<text transform="translate(219.37,363.00) rotate(-20) scale(1,1.18)" y="1.8" text-anchor="middle" class="tk">3.04</text>
<text transform="translate(230.33,363.00) rotate(-20) scale(1,1.18)" y="1.8" text-anchor="middle" class="tk">3.12</text>
<text transform="translate(241.28,363.00) rotate(-20) scale(1,1.18)" y="1.8" text-anchor="middle" class="tk">3.20</text>
<text transform="translate(252.19,363.00) rotate(-20) scale(1,1.18)" y="1.8" text-anchor="middle" class="tk">3.28</text>
<text x="230.17" y="373.8" text-anchor="middle" class="ax">ln(10<tspan font-size="4.2" dy="-2.6">10</tspan><tspan dy="2.6" font-style="italic">A</tspan><tspan font-size="4.6" dy="1.0" font-style="italic">s</tspan><tspan dy="-1.0">)</tspan></text>
<text transform="translate(267.48,363.00) rotate(-20) scale(1,1.18)" y="1.8" text-anchor="middle" class="tk">−0.06</text>
<text transform="translate(280.36,363.00) rotate(-20) scale(1,1.18)" y="1.8" text-anchor="middle" class="tk">−0.04</text>
<text transform="translate(293.34,363.00) rotate(-20) scale(1,1.18)" y="1.8" text-anchor="middle" class="tk">−0.02</text>
<text transform="translate(306.57,363.00) rotate(-20) scale(1,1.18)" y="1.8" text-anchor="middle" class="tk">0.00</text>
<text x="288.71" y="373.8" text-anchor="middle" class="ax">Ω<tspan font-size="4.6" dy="1.0" font-style="italic">K</tspan></text>
<text transform="translate(327.29,363.00) rotate(-20) scale(1,1.18)" y="1.8" text-anchor="middle" class="tk">0.04</text>
<text transform="translate(340.37,363.00) rotate(-20) scale(1,1.18)" y="1.8" text-anchor="middle" class="tk">0.08</text>
<text transform="translate(353.30,363.00) rotate(-20) scale(1,1.18)" y="1.8" text-anchor="middle" class="tk">0.12</text>
<text transform="translate(366.23,363.00) rotate(-20) scale(1,1.18)" y="1.8" text-anchor="middle" class="tk">0.16</text>
<text x="347.24" y="373.8" text-anchor="middle" class="ax"><tspan font-style="italic">τ</tspan></text>
<text transform="translate(24.56,111.51) scale(1,1.18)" y="1.8" text-anchor="end" class="tk">0.0224</text>
<text transform="translate(24.56,97.57) scale(1,1.18)" y="1.8" text-anchor="end" class="tk">0.0228</text>
<text transform="translate(24.56,83.59) scale(1,1.18)" y="1.8" text-anchor="end" class="tk">0.0232</text>
<text transform="translate(24.56,69.81) scale(1,1.18)" y="1.8" text-anchor="end" class="tk">0.0236</text>
<text transform="translate(6.06,90.13) rotate(-90)" text-anchor="middle" class="ax">Ω<tspan font-size="4.6" dy="1.0" font-style="italic">b</tspan><tspan dy="-1.0" font-style="italic">h</tspan><tspan font-size="4.2" dy="-2.6">2</tspan></text>
<text transform="translate(24.56,171.48) scale(1,1.18)" y="1.8" text-anchor="end" class="tk">0.1050</text>
<text transform="translate(24.56,157.00) scale(1,1.18)" y="1.8" text-anchor="end" class="tk">0.1075</text>
<text transform="translate(24.56,142.46) scale(1,1.18)" y="1.8" text-anchor="end" class="tk">0.1100</text>
<text transform="translate(24.56,127.72) scale(1,1.18)" y="1.8" text-anchor="end" class="tk">0.1125</text>
<text transform="translate(6.66,149.35) rotate(-90)" text-anchor="middle" class="ax">Ω<tspan font-size="4.6" dy="1.0" font-style="italic">c</tspan><tspan dy="-1.0" font-style="italic">h</tspan><tspan font-size="4.2" dy="-2.6">2</tspan></text>
<text transform="translate(24.56,231.17) scale(1,1.18)" y="1.8" text-anchor="end" class="tk">2.96</text>
<text transform="translate(24.56,219.66) scale(1,1.18)" y="1.8" text-anchor="end" class="tk">3.04</text>
<text transform="translate(24.56,208.42) scale(1,1.18)" y="1.8" text-anchor="end" class="tk">3.12</text>
<text transform="translate(24.56,197.17) scale(1,1.18)" y="1.8" text-anchor="end" class="tk">3.20</text>
<text transform="translate(24.56,185.98) scale(1,1.18)" y="1.8" text-anchor="end" class="tk">3.28</text>
<text transform="translate(11.86,208.57) rotate(-90)" text-anchor="middle" class="ax">ln(10<tspan font-size="4.2" dy="-2.6">10</tspan><tspan dy="2.6" font-style="italic">A</tspan><tspan font-size="4.6" dy="1.0" font-style="italic">s</tspan><tspan dy="-1.0">)</tspan></text>
<text transform="translate(24.56,289.58) scale(1,1.18)" y="1.8" text-anchor="end" class="tk">−0.06</text>
<text transform="translate(24.56,276.36) scale(1,1.18)" y="1.8" text-anchor="end" class="tk">−0.04</text>
<text transform="translate(24.56,263.03) scale(1,1.18)" y="1.8" text-anchor="end" class="tk">−0.02</text>
<text transform="translate(24.56,249.46) scale(1,1.18)" y="1.8" text-anchor="end" class="tk">0.00</text>
<text transform="translate(6.46,267.80) rotate(-90)" text-anchor="middle" class="ax">Ω<tspan font-size="4.6" dy="1.0" font-style="italic">K</tspan></text>
<text transform="translate(24.56,347.49) scale(1,1.18)" y="1.8" text-anchor="end" class="tk">0.04</text>
<text transform="translate(24.56,334.06) scale(1,1.18)" y="1.8" text-anchor="end" class="tk">0.08</text>
<text transform="translate(24.56,320.79) scale(1,1.18)" y="1.8" text-anchor="end" class="tk">0.12</text>
<text transform="translate(24.56,307.52) scale(1,1.18)" y="1.8" text-anchor="end" class="tk">0.16</text>
<text transform="translate(12.06,327.02) rotate(-90)" text-anchor="middle" class="ax"><tspan font-style="italic">τ</tspan></text>
<clipPath id="cR10"><rect x="412.73" y="61.67" width="54.70" height="56.93"/></clipPath>
<g clip-path="url(#cR10)">
<g transform="translate(439.81,89.79) rotate(131.7)"><path d="M20.81,0A20.81,14.41 0 1 0 -20.81,0A20.81,14.41 0 1 0 20.81,0ZM12.84,0A12.84,8.89 0 1 0 -12.84,0A12.84,8.89 0 1 0 12.84,0Z" fill="#cccccc" fill-rule="evenodd" fill-opacity="0.85"/><ellipse rx="12.84" ry="8.89" fill="#808080" fill-opacity="0.85"/><ellipse rx="20.81" ry="14.41" fill="none" stroke="#808080" stroke-opacity="0.85" stroke-width="0.55"/></g>
<g transform="translate(440.63,89.22) rotate(131.7)"><path d="M20.34,0A20.34,14.08 0 1 0 -20.34,0A20.34,14.08 0 1 0 20.34,0ZM12.54,0A12.54,8.68 0 1 0 -12.54,0A12.54,8.68 0 1 0 12.54,0Z" fill="#f3aea7" fill-rule="evenodd" fill-opacity="0.85"/><ellipse rx="12.54" ry="8.68" fill="#e03424" fill-opacity="0.85"/><ellipse rx="20.34" ry="14.08" fill="none" stroke="#e03424" stroke-opacity="0.85" stroke-width="0.55"/></g>
<g transform="translate(440.08,89.22) rotate(131.7)"><path d="M20.34,0A20.34,14.08 0 1 0 -20.34,0A20.34,14.08 0 1 0 20.34,0ZM12.54,0A12.54,8.68 0 1 0 -12.54,0A12.54,8.68 0 1 0 12.54,0Z" fill="#99c5f8" fill-rule="evenodd" fill-opacity="0.85"/><ellipse rx="12.54" ry="8.68" fill="#006fed" fill-opacity="0.85"/><ellipse rx="20.34" ry="14.08" fill="none" stroke="#006fed" stroke-opacity="0.85" stroke-width="0.55"/></g>
<g transform="translate(440.90,89.79) rotate(131.7)"><ellipse rx="21.13" ry="14.63" fill="none" stroke="#484848" stroke-width="0.5"/><ellipse rx="13.03" ry="9.02" fill="none" stroke="#484848" stroke-width="0.5"/></g>
</g>
<clipPath id="cR20"><rect x="412.73" y="120.89" width="54.70" height="56.93"/></clipPath>
<g clip-path="url(#cR20)">
<g transform="translate(439.81,151.18) rotate(57.5)"><path d="M19.63,0A19.63,16.62 0 1 0 -19.63,0A19.63,16.62 0 1 0 19.63,0ZM12.11,0A12.11,10.25 0 1 0 -12.11,0A12.11,10.25 0 1 0 12.11,0Z" fill="#cccccc" fill-rule="evenodd" fill-opacity="0.85"/><ellipse rx="12.11" ry="10.25" fill="#808080" fill-opacity="0.85"/><ellipse rx="19.63" ry="16.62" fill="none" stroke="#808080" stroke-opacity="0.85" stroke-width="0.55"/></g>
<g transform="translate(440.63,149.35) rotate(57.6)"><path d="M19.19,0A19.19,16.24 0 1 0 -19.19,0A19.19,16.24 0 1 0 19.19,0ZM11.84,0A11.84,10.02 0 1 0 -11.84,0A11.84,10.02 0 1 0 11.84,0Z" fill="#f3aea7" fill-rule="evenodd" fill-opacity="0.85"/><ellipse rx="11.84" ry="10.02" fill="#e03424" fill-opacity="0.85"/><ellipse rx="19.19" ry="16.24" fill="none" stroke="#e03424" stroke-opacity="0.85" stroke-width="0.55"/></g>
<g transform="translate(440.08,150.32) rotate(57.6)"><path d="M19.19,0A19.19,16.24 0 1 0 -19.19,0A19.19,16.24 0 1 0 19.19,0ZM11.84,0A11.84,10.02 0 1 0 -11.84,0A11.84,10.02 0 1 0 11.84,0Z" fill="#99c5f8" fill-rule="evenodd" fill-opacity="0.85"/><ellipse rx="11.84" ry="10.02" fill="#006fed" fill-opacity="0.85"/><ellipse rx="19.19" ry="16.24" fill="none" stroke="#006fed" stroke-opacity="0.85" stroke-width="0.55"/></g>
<g transform="translate(440.90,150.89) rotate(57.5)"><ellipse rx="19.93" ry="16.87" fill="none" stroke="#484848" stroke-width="0.5"/><ellipse rx="12.29" ry="10.40" fill="none" stroke="#484848" stroke-width="0.5"/></g>
</g>
<clipPath id="cR21"><rect x="471.23" y="120.89" width="54.70" height="56.93"/></clipPath>
<g clip-path="url(#cR21)">
<g transform="translate(498.91,151.18) rotate(54.7)"><path d="M20.02,0A20.02,16.15 0 1 0 -20.02,0A20.02,16.15 0 1 0 20.02,0ZM12.35,0A12.35,9.96 0 1 0 -12.35,0A12.35,9.96 0 1 0 12.35,0Z" fill="#cccccc" fill-rule="evenodd" fill-opacity="0.85"/><ellipse rx="12.35" ry="9.96" fill="#808080" fill-opacity="0.85"/><ellipse rx="20.02" ry="16.15" fill="none" stroke="#808080" stroke-opacity="0.85" stroke-width="0.55"/></g>
<g transform="translate(499.46,149.35) rotate(54.7)"><path d="M19.57,0A19.57,15.78 0 1 0 -19.57,0A19.57,15.78 0 1 0 19.57,0ZM12.07,0A12.07,9.73 0 1 0 -12.07,0A12.07,9.73 0 1 0 12.07,0Z" fill="#f3aea7" fill-rule="evenodd" fill-opacity="0.85"/><ellipse rx="12.07" ry="9.73" fill="#e03424" fill-opacity="0.85"/><ellipse rx="19.57" ry="15.78" fill="none" stroke="#e03424" stroke-opacity="0.85" stroke-width="0.55"/></g>
<g transform="translate(499.46,150.32) rotate(54.7)"><path d="M19.57,0A19.57,15.78 0 1 0 -19.57,0A19.57,15.78 0 1 0 19.57,0ZM12.07,0A12.07,9.73 0 1 0 -12.07,0A12.07,9.73 0 1 0 12.07,0Z" fill="#99c5f8" fill-rule="evenodd" fill-opacity="0.85"/><ellipse rx="12.07" ry="9.73" fill="#006fed" fill-opacity="0.85"/><ellipse rx="19.57" ry="15.78" fill="none" stroke="#006fed" stroke-opacity="0.85" stroke-width="0.55"/></g>
<g transform="translate(498.91,150.89) rotate(54.6)"><ellipse rx="20.32" ry="16.39" fill="none" stroke="#484848" stroke-width="0.5"/><ellipse rx="12.53" ry="10.11" fill="none" stroke="#484848" stroke-width="0.5"/></g>
</g>
<clipPath id="cR30"><rect x="412.73" y="180.11" width="54.70" height="56.93"/></clipPath>
<g clip-path="url(#cR30)">
<g transform="translate(439.81,208.57) rotate(124.9)"><path d="M19.43,0A19.43,16.54 0 1 0 -19.43,0A19.43,16.54 0 1 0 19.43,0ZM11.98,0A11.98,10.20 0 1 0 -11.98,0A11.98,10.20 0 1 0 11.98,0Z" fill="#cccccc" fill-rule="evenodd" fill-opacity="0.85"/><ellipse rx="11.98" ry="10.20" fill="#808080" fill-opacity="0.85"/><ellipse rx="19.43" ry="16.54" fill="none" stroke="#808080" stroke-opacity="0.85" stroke-width="0.55"/></g>
<g transform="translate(440.63,206.01) rotate(124.8)"><path d="M18.99,0A18.99,16.16 0 1 0 -18.99,0A18.99,16.16 0 1 0 18.99,0ZM11.71,0A11.71,9.97 0 1 0 -11.71,0A11.71,9.97 0 1 0 11.71,0Z" fill="#f3aea7" fill-rule="evenodd" fill-opacity="0.85"/><ellipse rx="11.71" ry="9.97" fill="#e03424" fill-opacity="0.85"/><ellipse rx="18.99" ry="16.16" fill="none" stroke="#e03424" stroke-opacity="0.85" stroke-width="0.55"/></g>
<g transform="translate(440.08,207.66) rotate(124.8)"><path d="M18.99,0A18.99,16.16 0 1 0 -18.99,0A18.99,16.16 0 1 0 18.99,0ZM11.71,0A11.71,9.97 0 1 0 -11.71,0A11.71,9.97 0 1 0 11.71,0Z" fill="#99c5f8" fill-rule="evenodd" fill-opacity="0.85"/><ellipse rx="11.71" ry="9.97" fill="#006fed" fill-opacity="0.85"/><ellipse rx="18.99" ry="16.16" fill="none" stroke="#006fed" stroke-opacity="0.85" stroke-width="0.55"/></g>
<g transform="translate(440.90,208.29) rotate(124.9)"><ellipse rx="19.72" ry="16.79" fill="none" stroke="#484848" stroke-width="0.5"/><ellipse rx="12.16" ry="10.36" fill="none" stroke="#484848" stroke-width="0.5"/></g>
</g>
<clipPath id="cR31"><rect x="471.23" y="180.11" width="54.70" height="56.93"/></clipPath>
<g clip-path="url(#cR31)">
<g transform="translate(498.91,208.57) rotate(90.0)"><path d="M18.53,0A18.53,17.54 0 1 0 -18.53,0A18.53,17.54 0 1 0 18.53,0ZM11.43,0A11.43,10.82 0 1 0 -11.43,0A11.43,10.82 0 1 0 11.43,0Z" fill="#cccccc" fill-rule="evenodd" fill-opacity="0.85"/><ellipse rx="11.43" ry="10.82" fill="#808080" fill-opacity="0.85"/><ellipse rx="18.53" ry="17.54" fill="none" stroke="#808080" stroke-opacity="0.85" stroke-width="0.55"/></g>
<g transform="translate(499.46,206.01) rotate(90.0)"><path d="M18.12,0A18.12,17.14 0 1 0 -18.12,0A18.12,17.14 0 1 0 18.12,0ZM11.17,0A11.17,10.57 0 1 0 -11.17,0A11.17,10.57 0 1 0 11.17,0Z" fill="#f3aea7" fill-rule="evenodd" fill-opacity="0.85"/><ellipse rx="11.17" ry="10.57" fill="#e03424" fill-opacity="0.85"/><ellipse rx="18.12" ry="17.14" fill="none" stroke="#e03424" stroke-opacity="0.85" stroke-width="0.55"/></g>
<g transform="translate(499.46,207.66) rotate(90.0)"><path d="M18.12,0A18.12,17.14 0 1 0 -18.12,0A18.12,17.14 0 1 0 18.12,0ZM11.17,0A11.17,10.57 0 1 0 -11.17,0A11.17,10.57 0 1 0 11.17,0Z" fill="#99c5f8" fill-rule="evenodd" fill-opacity="0.85"/><ellipse rx="11.17" ry="10.57" fill="#006fed" fill-opacity="0.85"/><ellipse rx="18.12" ry="17.14" fill="none" stroke="#006fed" stroke-opacity="0.85" stroke-width="0.55"/></g>
<g transform="translate(498.91,208.29) rotate(90.0)"><ellipse rx="18.81" ry="17.81" fill="none" stroke="#484848" stroke-width="0.5"/><ellipse rx="11.60" ry="10.98" fill="none" stroke="#484848" stroke-width="0.5"/></g>
</g>
<clipPath id="cR32"><rect x="529.73" y="180.11" width="54.70" height="56.93"/></clipPath>
<g clip-path="url(#cR32)">
<g transform="translate(555.33,208.57) rotate(49.7)"><path d="M19.65,0A19.65,16.86 0 1 0 -19.65,0A19.65,16.86 0 1 0 19.65,0ZM12.12,0A12.12,10.40 0 1 0 -12.12,0A12.12,10.40 0 1 0 12.12,0Z" fill="#cccccc" fill-rule="evenodd" fill-opacity="0.85"/><ellipse rx="12.12" ry="10.40" fill="#808080" fill-opacity="0.85"/><ellipse rx="19.65" ry="16.86" fill="none" stroke="#808080" stroke-opacity="0.85" stroke-width="0.55"/></g>
<g transform="translate(557.08,206.01) rotate(49.7)"><path d="M19.21,0A19.21,16.48 0 1 0 -19.21,0A19.21,16.48 0 1 0 19.21,0ZM11.85,0A11.85,10.16 0 1 0 -11.85,0A11.85,10.16 0 1 0 11.85,0Z" fill="#f3aea7" fill-rule="evenodd" fill-opacity="0.85"/><ellipse rx="11.85" ry="10.16" fill="#e03424" fill-opacity="0.85"/><ellipse rx="19.21" ry="16.48" fill="none" stroke="#e03424" stroke-opacity="0.85" stroke-width="0.55"/></g>
<g transform="translate(556.15,207.66) rotate(49.7)"><path d="M19.21,0A19.21,16.48 0 1 0 -19.21,0A19.21,16.48 0 1 0 19.21,0ZM11.85,0A11.85,10.16 0 1 0 -11.85,0A11.85,10.16 0 1 0 11.85,0Z" fill="#99c5f8" fill-rule="evenodd" fill-opacity="0.85"/><ellipse rx="11.85" ry="10.16" fill="#006fed" fill-opacity="0.85"/><ellipse rx="19.21" ry="16.48" fill="none" stroke="#006fed" stroke-opacity="0.85" stroke-width="0.55"/></g>
<g transform="translate(555.60,208.29) rotate(49.8)"><ellipse rx="19.94" ry="17.11" fill="none" stroke="#484848" stroke-width="0.5"/><ellipse rx="12.30" ry="10.55" fill="none" stroke="#484848" stroke-width="0.5"/></g>
</g>
<clipPath id="cR40"><rect x="412.73" y="239.33" width="54.70" height="56.93"/></clipPath>
<g clip-path="url(#cR40)">
<g transform="translate(439.81,267.51) rotate(45.1)"><path d="M19.62,0A19.62,15.20 0 1 0 -19.62,0A19.62,15.20 0 1 0 19.62,0ZM12.10,0A12.10,9.37 0 1 0 -12.10,0A12.10,9.37 0 1 0 12.10,0Z" fill="#cccccc" fill-rule="evenodd" fill-opacity="0.85"/><ellipse rx="12.10" ry="9.37" fill="#808080" fill-opacity="0.85"/><ellipse rx="19.62" ry="15.20" fill="none" stroke="#808080" stroke-opacity="0.85" stroke-width="0.55"/></g>
<g transform="translate(440.63,266.37) rotate(-135.9)"><path d="M19.09,0A19.09,14.78 0 1 0 -19.09,0A19.09,14.78 0 1 0 19.09,0ZM11.77,0A11.77,9.12 0 1 0 -11.77,0A11.77,9.12 0 1 0 11.77,0Z" fill="#f3aea7" fill-rule="evenodd" fill-opacity="0.85"/><ellipse rx="11.77" ry="9.12" fill="#e03424" fill-opacity="0.85"/><ellipse rx="19.09" ry="14.78" fill="none" stroke="#e03424" stroke-opacity="0.85" stroke-width="0.55"/></g>
<g transform="translate(440.08,265.52) rotate(-135.9)"><path d="M19.09,0A19.09,14.78 0 1 0 -19.09,0A19.09,14.78 0 1 0 19.09,0ZM11.77,0A11.77,9.12 0 1 0 -11.77,0A11.77,9.12 0 1 0 11.77,0Z" fill="#99c5f8" fill-rule="evenodd" fill-opacity="0.85"/><ellipse rx="11.77" ry="9.12" fill="#006fed" fill-opacity="0.85"/><ellipse rx="19.09" ry="14.78" fill="none" stroke="#006fed" stroke-opacity="0.85" stroke-width="0.55"/></g>
<g transform="translate(440.90,266.94) rotate(45.2)"><ellipse rx="19.93" ry="15.43" fill="none" stroke="#484848" stroke-width="0.5"/><ellipse rx="12.29" ry="9.52" fill="none" stroke="#484848" stroke-width="0.5"/></g>
</g>
<clipPath id="cR41"><rect x="471.23" y="239.33" width="54.70" height="56.93"/></clipPath>
<g clip-path="url(#cR41)">
<g transform="translate(498.91,267.51) rotate(45.1)"><path d="M19.62,0A19.62,15.20 0 1 0 -19.62,0A19.62,15.20 0 1 0 19.62,0ZM12.10,0A12.10,9.37 0 1 0 -12.10,0A12.10,9.37 0 1 0 12.10,0Z" fill="#cccccc" fill-rule="evenodd" fill-opacity="0.85"/><ellipse rx="12.10" ry="9.37" fill="#808080" fill-opacity="0.85"/><ellipse rx="19.62" ry="15.20" fill="none" stroke="#808080" stroke-opacity="0.85" stroke-width="0.55"/></g>
<g transform="translate(499.46,266.37) rotate(-135.9)"><path d="M19.09,0A19.09,14.78 0 1 0 -19.09,0A19.09,14.78 0 1 0 19.09,0ZM11.77,0A11.77,9.12 0 1 0 -11.77,0A11.77,9.12 0 1 0 11.77,0Z" fill="#f3aea7" fill-rule="evenodd" fill-opacity="0.85"/><ellipse rx="11.77" ry="9.12" fill="#e03424" fill-opacity="0.85"/><ellipse rx="19.09" ry="14.78" fill="none" stroke="#e03424" stroke-opacity="0.85" stroke-width="0.55"/></g>
<g transform="translate(499.46,265.52) rotate(-135.9)"><path d="M19.09,0A19.09,14.78 0 1 0 -19.09,0A19.09,14.78 0 1 0 19.09,0ZM11.77,0A11.77,9.12 0 1 0 -11.77,0A11.77,9.12 0 1 0 11.77,0Z" fill="#99c5f8" fill-rule="evenodd" fill-opacity="0.85"/><ellipse rx="11.77" ry="9.12" fill="#006fed" fill-opacity="0.85"/><ellipse rx="19.09" ry="14.78" fill="none" stroke="#006fed" stroke-opacity="0.85" stroke-width="0.55"/></g>
<g transform="translate(498.91,266.94) rotate(45.2)"><ellipse rx="19.93" ry="15.43" fill="none" stroke="#484848" stroke-width="0.5"/><ellipse rx="12.29" ry="9.52" fill="none" stroke="#484848" stroke-width="0.5"/></g>
</g>
<clipPath id="cR42"><rect x="529.73" y="239.33" width="54.70" height="56.93"/></clipPath>
<g clip-path="url(#cR42)">
<g transform="translate(555.33,267.51) rotate(136.4)"><path d="M22.54,0A22.54,11.26 0 1 0 -22.54,0A22.54,11.26 0 1 0 22.54,0ZM13.90,0A13.90,6.95 0 1 0 -13.90,0A13.90,6.95 0 1 0 13.90,0Z" fill="#cccccc" fill-rule="evenodd" fill-opacity="0.85"/><ellipse rx="13.90" ry="6.95" fill="#808080" fill-opacity="0.85"/><ellipse rx="22.54" ry="11.26" fill="none" stroke="#808080" stroke-opacity="0.85" stroke-width="0.55"/></g>
<g transform="translate(557.08,266.37) rotate(136.9)"><path d="M21.94,0A21.94,10.96 0 1 0 -21.94,0A21.94,10.96 0 1 0 21.94,0ZM13.53,0A13.53,6.76 0 1 0 -13.53,0A13.53,6.76 0 1 0 13.53,0Z" fill="#f3aea7" fill-rule="evenodd" fill-opacity="0.85"/><ellipse rx="13.53" ry="6.76" fill="#e03424" fill-opacity="0.85"/><ellipse rx="21.94" ry="10.96" fill="none" stroke="#e03424" stroke-opacity="0.85" stroke-width="0.55"/></g>
<g transform="translate(556.15,265.52) rotate(136.9)"><path d="M21.94,0A21.94,10.96 0 1 0 -21.94,0A21.94,10.96 0 1 0 21.94,0ZM13.53,0A13.53,6.76 0 1 0 -13.53,0A13.53,6.76 0 1 0 13.53,0Z" fill="#99c5f8" fill-rule="evenodd" fill-opacity="0.85"/><ellipse rx="13.53" ry="6.76" fill="#006fed" fill-opacity="0.85"/><ellipse rx="21.94" ry="10.96" fill="none" stroke="#006fed" stroke-opacity="0.85" stroke-width="0.55"/></g>
<g transform="translate(555.60,266.94) rotate(136.3)"><ellipse rx="22.89" ry="11.44" fill="none" stroke="#484848" stroke-width="0.5"/><ellipse rx="14.12" ry="7.05" fill="none" stroke="#484848" stroke-width="0.5"/></g>
</g>
<clipPath id="cR43"><rect x="588.23" y="239.33" width="54.70" height="56.93"/></clipPath>
<g clip-path="url(#cR43)">
<g transform="translate(615.58,267.51) rotate(142.9)"><path d="M18.14,0A18.14,17.22 0 1 0 -18.14,0A18.14,17.22 0 1 0 18.14,0ZM11.19,0A11.19,10.62 0 1 0 -11.19,0A11.19,10.62 0 1 0 11.19,0Z" fill="#cccccc" fill-rule="evenodd" fill-opacity="0.85"/><ellipse rx="11.19" ry="10.62" fill="#808080" fill-opacity="0.85"/><ellipse rx="18.14" ry="17.22" fill="none" stroke="#808080" stroke-opacity="0.85" stroke-width="0.55"/></g>
<g transform="translate(618.04,266.37) rotate(147.6)"><path d="M17.67,0A17.67,16.72 0 1 0 -17.67,0A17.67,16.72 0 1 0 17.67,0ZM10.90,0A10.90,10.31 0 1 0 -10.90,0A10.90,10.31 0 1 0 10.90,0Z" fill="#f3aea7" fill-rule="evenodd" fill-opacity="0.85"/><ellipse rx="10.90" ry="10.31" fill="#e03424" fill-opacity="0.85"/><ellipse rx="17.67" ry="16.72" fill="none" stroke="#e03424" stroke-opacity="0.85" stroke-width="0.55"/></g>
<g transform="translate(616.46,265.52) rotate(147.6)"><path d="M17.67,0A17.67,16.72 0 1 0 -17.67,0A17.67,16.72 0 1 0 17.67,0ZM10.90,0A10.90,10.31 0 1 0 -10.90,0A10.90,10.31 0 1 0 10.90,0Z" fill="#99c5f8" fill-rule="evenodd" fill-opacity="0.85"/><ellipse rx="10.90" ry="10.31" fill="#006fed" fill-opacity="0.85"/><ellipse rx="17.67" ry="16.72" fill="none" stroke="#006fed" stroke-opacity="0.85" stroke-width="0.55"/></g>
<g transform="translate(615.85,266.94) rotate(142.4)"><ellipse rx="18.42" ry="17.49" fill="none" stroke="#484848" stroke-width="0.5"/><ellipse rx="11.36" ry="10.78" fill="none" stroke="#484848" stroke-width="0.5"/></g>
</g>
<clipPath id="cR50"><rect x="412.73" y="298.55" width="54.70" height="56.93"/></clipPath>
<g clip-path="url(#cR50)">
<g transform="translate(439.81,327.30) rotate(120.6)"><path d="M19.04,0A19.04,16.98 0 1 0 -19.04,0A19.04,16.98 0 1 0 19.04,0ZM11.75,0A11.75,10.47 0 1 0 -11.75,0A11.75,10.47 0 1 0 11.75,0Z" fill="#cccccc" fill-rule="evenodd" fill-opacity="0.85"/><ellipse rx="11.75" ry="10.47" fill="#808080" fill-opacity="0.85"/><ellipse rx="19.04" ry="16.98" fill="none" stroke="#808080" stroke-opacity="0.85" stroke-width="0.55"/></g>
<g transform="translate(440.63,325.65) rotate(120.5)"><path d="M18.61,0A18.61,16.60 0 1 0 -18.61,0A18.61,16.60 0 1 0 18.61,0ZM11.48,0A11.48,10.24 0 1 0 -11.48,0A11.48,10.24 0 1 0 11.48,0Z" fill="#f3aea7" fill-rule="evenodd" fill-opacity="0.85"/><ellipse rx="11.48" ry="10.24" fill="#e03424" fill-opacity="0.85"/><ellipse rx="18.61" ry="16.60" fill="none" stroke="#e03424" stroke-opacity="0.85" stroke-width="0.55"/></g>
<g transform="translate(440.08,326.33) rotate(120.5)"><path d="M18.61,0A18.61,16.60 0 1 0 -18.61,0A18.61,16.60 0 1 0 18.61,0ZM11.48,0A11.48,10.24 0 1 0 -11.48,0A11.48,10.24 0 1 0 11.48,0Z" fill="#99c5f8" fill-rule="evenodd" fill-opacity="0.85"/><ellipse rx="11.48" ry="10.24" fill="#006fed" fill-opacity="0.85"/><ellipse rx="18.61" ry="16.60" fill="none" stroke="#006fed" stroke-opacity="0.85" stroke-width="0.55"/></g>
<g transform="translate(440.90,327.02) rotate(120.6)"><ellipse rx="19.33" ry="17.24" fill="none" stroke="#484848" stroke-width="0.5"/><ellipse rx="11.92" ry="10.63" fill="none" stroke="#484848" stroke-width="0.5"/></g>
</g>
<clipPath id="cR51"><rect x="471.23" y="298.55" width="54.70" height="56.93"/></clipPath>
<g clip-path="url(#cR51)">
<g transform="translate(498.91,327.30) rotate(90.0)"><path d="M18.53,0A18.53,17.54 0 1 0 -18.53,0A18.53,17.54 0 1 0 18.53,0ZM11.43,0A11.43,10.82 0 1 0 -11.43,0A11.43,10.82 0 1 0 11.43,0Z" fill="#cccccc" fill-rule="evenodd" fill-opacity="0.85"/><ellipse rx="11.43" ry="10.82" fill="#808080" fill-opacity="0.85"/><ellipse rx="18.53" ry="17.54" fill="none" stroke="#808080" stroke-opacity="0.85" stroke-width="0.55"/></g>
<g transform="translate(499.46,325.65) rotate(90.0)"><path d="M18.12,0A18.12,17.14 0 1 0 -18.12,0A18.12,17.14 0 1 0 18.12,0ZM11.17,0A11.17,10.57 0 1 0 -11.17,0A11.17,10.57 0 1 0 11.17,0Z" fill="#f3aea7" fill-rule="evenodd" fill-opacity="0.85"/><ellipse rx="11.17" ry="10.57" fill="#e03424" fill-opacity="0.85"/><ellipse rx="18.12" ry="17.14" fill="none" stroke="#e03424" stroke-opacity="0.85" stroke-width="0.55"/></g>
<g transform="translate(499.46,326.33) rotate(90.0)"><path d="M18.12,0A18.12,17.14 0 1 0 -18.12,0A18.12,17.14 0 1 0 18.12,0ZM11.17,0A11.17,10.57 0 1 0 -11.17,0A11.17,10.57 0 1 0 11.17,0Z" fill="#99c5f8" fill-rule="evenodd" fill-opacity="0.85"/><ellipse rx="11.17" ry="10.57" fill="#006fed" fill-opacity="0.85"/><ellipse rx="18.12" ry="17.14" fill="none" stroke="#006fed" stroke-opacity="0.85" stroke-width="0.55"/></g>
<g transform="translate(498.91,327.02) rotate(90.0)"><ellipse rx="18.81" ry="17.81" fill="none" stroke="#484848" stroke-width="0.5"/><ellipse rx="11.60" ry="10.98" fill="none" stroke="#484848" stroke-width="0.5"/></g>
</g>
<clipPath id="cR52"><rect x="529.73" y="298.55" width="54.70" height="56.93"/></clipPath>
<g clip-path="url(#cR52)">
<g transform="translate(555.33,327.30) rotate(48.6)"><path d="M20.07,0A20.07,16.36 0 1 0 -20.07,0A20.07,16.36 0 1 0 20.07,0ZM12.38,0A12.38,10.09 0 1 0 -12.38,0A12.38,10.09 0 1 0 12.38,0Z" fill="#cccccc" fill-rule="evenodd" fill-opacity="0.85"/><ellipse rx="12.38" ry="10.09" fill="#808080" fill-opacity="0.85"/><ellipse rx="20.07" ry="16.36" fill="none" stroke="#808080" stroke-opacity="0.85" stroke-width="0.55"/></g>
<g transform="translate(557.08,325.65) rotate(48.5)"><path d="M19.62,0A19.62,15.99 0 1 0 -19.62,0A19.62,15.99 0 1 0 19.62,0ZM12.10,0A12.10,9.86 0 1 0 -12.10,0A12.10,9.86 0 1 0 12.10,0Z" fill="#f3aea7" fill-rule="evenodd" fill-opacity="0.85"/><ellipse rx="12.10" ry="9.86" fill="#e03424" fill-opacity="0.85"/><ellipse rx="19.62" ry="15.99" fill="none" stroke="#e03424" stroke-opacity="0.85" stroke-width="0.55"/></g>
<g transform="translate(556.15,326.33) rotate(48.5)"><path d="M19.62,0A19.62,15.99 0 1 0 -19.62,0A19.62,15.99 0 1 0 19.62,0ZM12.10,0A12.10,9.86 0 1 0 -12.10,0A12.10,9.86 0 1 0 12.10,0Z" fill="#99c5f8" fill-rule="evenodd" fill-opacity="0.85"/><ellipse rx="12.10" ry="9.86" fill="#006fed" fill-opacity="0.85"/><ellipse rx="19.62" ry="15.99" fill="none" stroke="#006fed" stroke-opacity="0.85" stroke-width="0.55"/></g>
<g transform="translate(555.60,327.02) rotate(48.6)"><ellipse rx="20.37" ry="16.60" fill="none" stroke="#484848" stroke-width="0.5"/><ellipse rx="12.56" ry="10.24" fill="none" stroke="#484848" stroke-width="0.5"/></g>
</g>
<clipPath id="cR53"><rect x="588.23" y="298.55" width="54.70" height="56.93"/></clipPath>
<g clip-path="url(#cR53)">
<g transform="translate(615.58,327.30) rotate(133.8)"><path d="M25.57,0A25.57,2.57 0 1 0 -25.57,0A25.57,2.57 0 1 0 25.57,0ZM15.77,0A15.77,1.58 0 1 0 -15.77,0A15.77,1.58 0 1 0 15.77,0Z" fill="#cccccc" fill-rule="evenodd" fill-opacity="0.85"/><ellipse rx="15.77" ry="1.58" fill="#808080" fill-opacity="0.85"/><ellipse rx="25.57" ry="2.57" fill="none" stroke="#808080" stroke-opacity="0.85" stroke-width="0.55"/></g>
<g transform="translate(618.04,325.65) rotate(133.8)"><path d="M25.00,0A25.00,2.51 0 1 0 -25.00,0A25.00,2.51 0 1 0 25.00,0ZM15.42,0A15.42,1.55 0 1 0 -15.42,0A15.42,1.55 0 1 0 15.42,0Z" fill="#f3aea7" fill-rule="evenodd" fill-opacity="0.85"/><ellipse rx="15.42" ry="1.55" fill="#e03424" fill-opacity="0.85"/><ellipse rx="25.00" ry="2.51" fill="none" stroke="#e03424" stroke-opacity="0.85" stroke-width="0.55"/></g>
<g transform="translate(616.46,326.33) rotate(133.8)"><path d="M25.00,0A25.00,2.51 0 1 0 -25.00,0A25.00,2.51 0 1 0 25.00,0ZM15.42,0A15.42,1.55 0 1 0 -15.42,0A15.42,1.55 0 1 0 15.42,0Z" fill="#99c5f8" fill-rule="evenodd" fill-opacity="0.85"/><ellipse rx="15.42" ry="1.55" fill="#006fed" fill-opacity="0.85"/><ellipse rx="25.00" ry="2.51" fill="none" stroke="#006fed" stroke-opacity="0.85" stroke-width="0.55"/></g>
<g transform="translate(615.85,327.02) rotate(133.8)"><ellipse rx="25.96" ry="2.61" fill="none" stroke="#484848" stroke-width="0.5"/><ellipse rx="16.01" ry="1.61" fill="none" stroke="#484848" stroke-width="0.5"/></g>
</g>
<clipPath id="cR54"><rect x="646.73" y="298.55" width="54.70" height="56.93"/></clipPath>
<g clip-path="url(#cR54)">
<g transform="translate(674.35,327.30) rotate(113.4)"><path d="M18.89,0A18.89,16.47 0 1 0 -18.89,0A18.89,16.47 0 1 0 18.89,0ZM11.65,0A11.65,10.15 0 1 0 -11.65,0A11.65,10.15 0 1 0 11.65,0Z" fill="#cccccc" fill-rule="evenodd" fill-opacity="0.85"/><ellipse rx="11.65" ry="10.15" fill="#808080" fill-opacity="0.85"/><ellipse rx="18.89" ry="16.47" fill="none" stroke="#808080" stroke-opacity="0.85" stroke-width="0.55"/></g>
<g transform="translate(675.45,325.65) rotate(112.0)"><path d="M18.44,0A18.44,15.96 0 1 0 -18.44,0A18.44,15.96 0 1 0 18.44,0ZM11.37,0A11.37,9.85 0 1 0 -11.37,0A11.37,9.85 0 1 0 11.37,0Z" fill="#f3aea7" fill-rule="evenodd" fill-opacity="0.85"/><ellipse rx="11.37" ry="9.85" fill="#e03424" fill-opacity="0.85"/><ellipse rx="18.44" ry="15.96" fill="none" stroke="#e03424" stroke-opacity="0.85" stroke-width="0.55"/></g>
<g transform="translate(676.27,326.33) rotate(112.0)"><path d="M18.44,0A18.44,15.96 0 1 0 -18.44,0A18.44,15.96 0 1 0 18.44,0ZM11.37,0A11.37,9.85 0 1 0 -11.37,0A11.37,9.85 0 1 0 11.37,0Z" fill="#99c5f8" fill-rule="evenodd" fill-opacity="0.85"/><ellipse rx="11.37" ry="9.85" fill="#006fed" fill-opacity="0.85"/><ellipse rx="18.44" ry="15.96" fill="none" stroke="#006fed" stroke-opacity="0.85" stroke-width="0.55"/></g>
<g transform="translate(674.90,327.02) rotate(113.5)"><ellipse rx="19.18" ry="16.72" fill="none" stroke="#484848" stroke-width="0.5"/><ellipse rx="11.83" ry="10.31" fill="none" stroke="#484848" stroke-width="0.5"/></g>
</g>
<clipPath id="dR0"><rect x="412.73" y="2.45" width="54.70" height="56.93"/></clipPath>
<g clip-path="url(#dR0)">
<path d="M409.7,59.4 410.5,59.4 411.2,59.4 412.0,59.4 412.7,59.3 413.5,59.3 414.2,59.3 415.0,59.3 415.7,59.2 416.5,59.1 417.2,59.0 418.0,58.9 418.7,58.7 419.5,58.5 420.2,58.1 421.0,57.7 421.7,57.2 422.5,56.6 423.3,55.8 424.0,54.9 424.8,53.7 425.5,52.4 426.3,50.8 427.0,49.0 427.8,46.9 428.5,44.6 429.3,42.0 430.0,39.2 430.8,36.2 431.5,33.1 432.3,29.9 433.0,26.6 433.8,23.4 434.5,20.3 435.3,17.4 436.0,14.7 436.8,12.5 437.5,10.6 438.3,9.3 439.1,8.4 439.8,8.1 440.6,8.4 441.3,9.3 442.1,10.6 442.8,12.5 443.6,14.7 444.3,17.4 445.1,20.3 445.8,23.4 446.6,26.6 447.3,29.9 448.1,33.1 448.8,36.2 449.6,39.2 450.3,42.0 451.1,44.6 451.8,46.9 452.6,49.0 453.3,50.8 454.1,52.4 454.9,53.7 455.6,54.9 456.4,55.8 457.1,56.6 457.9,57.2 458.6,57.7 459.4,58.1 460.1,58.5 460.9,58.7 461.6,58.9 462.4,59.0 463.1,59.1 463.9,59.2 464.6,59.3 465.4,59.3 466.1,59.3 466.9,59.3 467.6,59.4 468.4,59.4 469.2,59.4 469.9,59.4" fill="none" stroke="#808080" stroke-width="0.6" stroke-opacity="0.9" stroke-linejoin="round"/>
<path d="M411.2,59.4 412.0,59.4 412.7,59.4 413.4,59.4 414.2,59.3 414.9,59.3 415.6,59.3 416.4,59.3 417.1,59.2 417.8,59.1 418.6,59.0 419.3,58.9 420.0,58.7 420.8,58.5 421.5,58.1 422.2,57.7 423.0,57.2 423.7,56.6 424.5,55.8 425.2,54.9 425.9,53.7 426.7,52.4 427.4,50.8 428.1,49.0 428.9,46.9 429.6,44.6 430.3,42.0 431.1,39.2 431.8,36.2 432.5,33.1 433.3,29.9 434.0,26.6 434.7,23.4 435.5,20.3 436.2,17.4 437.0,14.7 437.7,12.5 438.4,10.6 439.2,9.3 439.9,8.4 440.6,8.1 441.4,8.4 442.1,9.3 442.8,10.6 443.6,12.5 444.3,14.7 445.0,17.4 445.8,20.3 446.5,23.4 447.2,26.6 448.0,29.9 448.7,33.1 449.4,36.2 450.2,39.2 450.9,42.0 451.7,44.6 452.4,46.9 453.1,49.0 453.9,50.8 454.6,52.4 455.3,53.7 456.1,54.9 456.8,55.8 457.5,56.6 458.3,57.2 459.0,57.7 459.7,58.1 460.5,58.5 461.2,58.7 461.9,58.9 462.7,59.0 463.4,59.1 464.2,59.2 464.9,59.3 465.6,59.3 466.4,59.3 467.1,59.3 467.8,59.4 468.6,59.4 469.3,59.4 470.0,59.4" fill="none" stroke="#e03424" stroke-width="0.6" stroke-opacity="0.9" stroke-linejoin="round"/>
<path d="M410.7,59.4 411.4,59.4 412.1,59.4 412.9,59.4 413.6,59.3 414.3,59.3 415.1,59.3 415.8,59.3 416.6,59.2 417.3,59.1 418.0,59.0 418.8,58.9 419.5,58.7 420.2,58.5 421.0,58.1 421.7,57.7 422.4,57.2 423.2,56.6 423.9,55.8 424.6,54.9 425.4,53.7 426.1,52.4 426.8,50.8 427.6,49.0 428.3,46.9 429.1,44.6 429.8,42.0 430.5,39.2 431.3,36.2 432.0,33.1 432.7,29.9 433.5,26.6 434.2,23.4 434.9,20.3 435.7,17.4 436.4,14.7 437.1,12.5 437.9,10.6 438.6,9.3 439.3,8.4 440.1,8.1 440.8,8.4 441.6,9.3 442.3,10.6 443.0,12.5 443.8,14.7 444.5,17.4 445.2,20.3 446.0,23.4 446.7,26.6 447.4,29.9 448.2,33.1 448.9,36.2 449.6,39.2 450.4,42.0 451.1,44.6 451.8,46.9 452.6,49.0 453.3,50.8 454.0,52.4 454.8,53.7 455.5,54.9 456.3,55.8 457.0,56.6 457.7,57.2 458.5,57.7 459.2,58.1 459.9,58.5 460.7,58.7 461.4,58.9 462.1,59.0 462.9,59.1 463.6,59.2 464.3,59.3 465.1,59.3 465.8,59.3 466.5,59.3 467.3,59.4 468.0,59.4 468.8,59.4 469.5,59.4" fill="none" stroke="#006fed" stroke-width="0.6" stroke-opacity="0.9" stroke-linejoin="round"/>
<path d="M410.3,59.4 411.1,59.4 411.9,59.4 412.6,59.4 413.4,59.3 414.2,59.3 414.9,59.3 415.7,59.3 416.5,59.2 417.2,59.1 418.0,59.0 418.7,58.9 419.5,58.7 420.3,58.5 421.0,58.1 421.8,57.7 422.6,57.2 423.3,56.6 424.1,55.8 424.9,54.9 425.6,53.7 426.4,52.4 427.2,50.8 427.9,49.0 428.7,46.9 429.4,44.6 430.2,42.0 431.0,39.2 431.7,36.2 432.5,33.1 433.3,29.9 434.0,26.6 434.8,23.4 435.6,20.3 436.3,17.4 437.1,14.7 437.8,12.5 438.6,10.6 439.4,9.3 440.1,8.4 440.9,8.1 441.7,8.4 442.4,9.3 443.2,10.6 444.0,12.5 444.7,14.7 445.5,17.4 446.2,20.3 447.0,23.4 447.8,26.6 448.5,29.9 449.3,33.1 450.1,36.2 450.8,39.2 451.6,42.0 452.4,44.6 453.1,46.9 453.9,49.0 454.7,50.8 455.4,52.4 456.2,53.7 456.9,54.9 457.7,55.8 458.5,56.6 459.2,57.2 460.0,57.7 460.8,58.1 461.5,58.5 462.3,58.7 463.1,58.9 463.8,59.0 464.6,59.1 465.3,59.2 466.1,59.3 466.9,59.3 467.6,59.3 468.4,59.3 469.2,59.4 469.9,59.4 470.7,59.4 471.5,59.4" fill="none" stroke="#505050" stroke-width="0.45" stroke-opacity="0.9" stroke-linejoin="round"/>
</g>
<clipPath id="dR1"><rect x="471.23" y="61.67" width="54.70" height="56.93"/></clipPath>
<g clip-path="url(#dR1)">
<path d="M468.8,118.6 469.6,118.6 470.3,118.6 471.1,118.6 471.8,118.6 472.6,118.5 473.3,118.5 474.1,118.5 474.8,118.4 475.6,118.3 476.3,118.2 477.1,118.1 477.8,117.9 478.6,117.7 479.3,117.4 480.1,117.0 480.9,116.5 481.6,115.8 482.4,115.0 483.1,114.1 483.9,113.0 484.6,111.6 485.4,110.0 486.1,108.2 486.9,106.1 487.6,103.8 488.4,101.2 489.1,98.4 489.9,95.4 490.6,92.3 491.4,89.1 492.1,85.8 492.9,82.6 493.6,79.5 494.4,76.6 495.1,74.0 495.9,71.7 496.7,69.8 497.4,68.5 498.2,67.6 498.9,67.4 499.7,67.6 500.4,68.5 501.2,69.8 501.9,71.7 502.7,74.0 503.4,76.6 504.2,79.5 504.9,82.6 505.7,85.8 506.4,89.1 507.2,92.3 507.9,95.4 508.7,98.4 509.4,101.2 510.2,103.8 510.9,106.1 511.7,108.2 512.5,110.0 513.2,111.6 514.0,113.0 514.7,114.1 515.5,115.0 516.2,115.8 517.0,116.5 517.7,117.0 518.5,117.4 519.2,117.7 520.0,117.9 520.7,118.1 521.5,118.2 522.2,118.3 523.0,118.4 523.7,118.5 524.5,118.5 525.2,118.5 526.0,118.6 526.7,118.6 527.5,118.6 528.3,118.6 529.0,118.6" fill="none" stroke="#808080" stroke-width="0.6" stroke-opacity="0.9" stroke-linejoin="round"/>
<path d="M470.0,118.6 470.8,118.6 471.5,118.6 472.3,118.6 473.0,118.6 473.7,118.5 474.5,118.5 475.2,118.5 475.9,118.4 476.7,118.3 477.4,118.2 478.1,118.1 478.9,117.9 479.6,117.7 480.3,117.4 481.1,117.0 481.8,116.5 482.5,115.8 483.3,115.0 484.0,114.1 484.8,113.0 485.5,111.6 486.2,110.0 487.0,108.2 487.7,106.1 488.4,103.8 489.2,101.2 489.9,98.4 490.6,95.4 491.4,92.3 492.1,89.1 492.8,85.8 493.6,82.6 494.3,79.5 495.0,76.6 495.8,74.0 496.5,71.7 497.2,69.8 498.0,68.5 498.7,67.6 499.5,67.4 500.2,67.6 500.9,68.5 501.7,69.8 502.4,71.7 503.1,74.0 503.9,76.6 504.6,79.5 505.3,82.6 506.1,85.8 506.8,89.1 507.5,92.3 508.3,95.4 509.0,98.4 509.7,101.2 510.5,103.8 511.2,106.1 512.0,108.2 512.7,110.0 513.4,111.6 514.2,113.0 514.9,114.1 515.6,115.0 516.4,115.8 517.1,116.5 517.8,117.0 518.6,117.4 519.3,117.7 520.0,117.9 520.8,118.1 521.5,118.2 522.2,118.3 523.0,118.4 523.7,118.5 524.5,118.5 525.2,118.5 525.9,118.6 526.7,118.6 527.4,118.6 528.1,118.6 528.9,118.6" fill="none" stroke="#e03424" stroke-width="0.6" stroke-opacity="0.9" stroke-linejoin="round"/>
<path d="M470.0,118.6 470.8,118.6 471.5,118.6 472.3,118.6 473.0,118.6 473.7,118.5 474.5,118.5 475.2,118.5 475.9,118.4 476.7,118.3 477.4,118.2 478.1,118.1 478.9,117.9 479.6,117.7 480.3,117.4 481.1,117.0 481.8,116.5 482.5,115.8 483.3,115.0 484.0,114.1 484.8,113.0 485.5,111.6 486.2,110.0 487.0,108.2 487.7,106.1 488.4,103.8 489.2,101.2 489.9,98.4 490.6,95.4 491.4,92.3 492.1,89.1 492.8,85.8 493.6,82.6 494.3,79.5 495.0,76.6 495.8,74.0 496.5,71.7 497.2,69.8 498.0,68.5 498.7,67.6 499.5,67.4 500.2,67.6 500.9,68.5 501.7,69.8 502.4,71.7 503.1,74.0 503.9,76.6 504.6,79.5 505.3,82.6 506.1,85.8 506.8,89.1 507.5,92.3 508.3,95.4 509.0,98.4 509.7,101.2 510.5,103.8 511.2,106.1 512.0,108.2 512.7,110.0 513.4,111.6 514.2,113.0 514.9,114.1 515.6,115.0 516.4,115.8 517.1,116.5 517.8,117.0 518.6,117.4 519.3,117.7 520.0,117.9 520.8,118.1 521.5,118.2 522.2,118.3 523.0,118.4 523.7,118.5 524.5,118.5 525.2,118.5 525.9,118.6 526.7,118.6 527.4,118.6 528.1,118.6 528.9,118.6" fill="none" stroke="#006fed" stroke-width="0.6" stroke-opacity="0.9" stroke-linejoin="round"/>
<path d="M468.4,118.6 469.1,118.6 469.9,118.6 470.6,118.6 471.4,118.6 472.2,118.5 472.9,118.5 473.7,118.5 474.5,118.4 475.2,118.3 476.0,118.2 476.8,118.1 477.5,117.9 478.3,117.7 479.0,117.4 479.8,117.0 480.6,116.5 481.3,115.8 482.1,115.0 482.9,114.1 483.6,113.0 484.4,111.6 485.2,110.0 485.9,108.2 486.7,106.1 487.4,103.8 488.2,101.2 489.0,98.4 489.7,95.4 490.5,92.3 491.3,89.1 492.0,85.8 492.8,82.6 493.6,79.5 494.3,76.6 495.1,74.0 495.9,71.7 496.6,69.8 497.4,68.5 498.1,67.6 498.9,67.4 499.7,67.6 500.4,68.5 501.2,69.8 502.0,71.7 502.7,74.0 503.5,76.6 504.3,79.5 505.0,82.6 505.8,85.8 506.5,89.1 507.3,92.3 508.1,95.4 508.8,98.4 509.6,101.2 510.4,103.8 511.1,106.1 511.9,108.2 512.7,110.0 513.4,111.6 514.2,113.0 514.9,114.1 515.7,115.0 516.5,115.8 517.2,116.5 518.0,117.0 518.8,117.4 519.5,117.7 520.3,117.9 521.1,118.1 521.8,118.2 522.6,118.3 523.4,118.4 524.1,118.5 524.9,118.5 525.6,118.5 526.4,118.6 527.2,118.6 527.9,118.6 528.7,118.6 529.5,118.6" fill="none" stroke="#505050" stroke-width="0.45" stroke-opacity="0.9" stroke-linejoin="round"/>
</g>
<clipPath id="dR2"><rect x="529.73" y="120.89" width="54.70" height="56.93"/></clipPath>
<g clip-path="url(#dR2)">
<path d="M524.3,177.8 525.1,177.8 525.9,177.8 526.6,177.8 527.4,177.8 528.2,177.8 529.0,177.7 529.7,177.7 530.5,177.6 531.3,177.6 532.1,177.5 532.8,177.3 533.6,177.1 534.4,176.9 535.2,176.6 535.9,176.2 536.7,175.7 537.5,175.0 538.3,174.3 539.0,173.3 539.8,172.2 540.6,170.8 541.4,169.2 542.1,167.4 542.9,165.3 543.7,163.0 544.5,160.4 545.2,157.6 546.0,154.7 546.8,151.5 547.6,148.3 548.4,145.0 549.1,141.8 549.9,138.7 550.7,135.8 551.5,133.2 552.2,130.9 553.0,129.1 553.8,127.7 554.6,126.9 555.3,126.6 556.1,126.9 556.9,127.7 557.7,129.1 558.4,130.9 559.2,133.2 560.0,135.8 560.8,138.7 561.5,141.8 562.3,145.0 563.1,148.3 563.9,151.5 564.6,154.7 565.4,157.6 566.2,160.4 567.0,163.0 567.7,165.3 568.5,167.4 569.3,169.2 570.1,170.8 570.8,172.2 571.6,173.3 572.4,174.3 573.2,175.0 573.9,175.7 574.7,176.2 575.5,176.6 576.3,176.9 577.0,177.1 577.8,177.3 578.6,177.5 579.4,177.6 580.1,177.6 580.9,177.7 581.7,177.7 582.5,177.8 583.2,177.8 584.0,177.8 584.8,177.8 585.6,177.8 586.3,177.8" fill="none" stroke="#808080" stroke-width="0.6" stroke-opacity="0.9" stroke-linejoin="round"/>
<path d="M526.8,177.8 527.5,177.8 528.3,177.8 529.0,177.8 529.8,177.8 530.5,177.8 531.3,177.7 532.1,177.7 532.8,177.6 533.6,177.6 534.3,177.5 535.1,177.3 535.9,177.1 536.6,176.9 537.4,176.6 538.1,176.2 538.9,175.7 539.6,175.0 540.4,174.3 541.2,173.3 541.9,172.2 542.7,170.8 543.4,169.2 544.2,167.4 544.9,165.3 545.7,163.0 546.5,160.4 547.2,157.6 548.0,154.7 548.7,151.5 549.5,148.3 550.3,145.0 551.0,141.8 551.8,138.7 552.5,135.8 553.3,133.2 554.0,130.9 554.8,129.1 555.6,127.7 556.3,126.9 557.1,126.6 557.8,126.9 558.6,127.7 559.4,129.1 560.1,130.9 560.9,133.2 561.6,135.8 562.4,138.7 563.1,141.8 563.9,145.0 564.7,148.3 565.4,151.5 566.2,154.7 566.9,157.6 567.7,160.4 568.5,163.0 569.2,165.3 570.0,167.4 570.7,169.2 571.5,170.8 572.2,172.2 573.0,173.3 573.8,174.3 574.5,175.0 575.3,175.7 576.0,176.2 576.8,176.6 577.5,176.9 578.3,177.1 579.1,177.3 579.8,177.5 580.6,177.6 581.3,177.6 582.1,177.7 582.9,177.7 583.6,177.8 584.4,177.8 585.1,177.8 585.9,177.8 586.6,177.8 587.4,177.8" fill="none" stroke="#e03424" stroke-width="0.6" stroke-opacity="0.9" stroke-linejoin="round"/>
<path d="M525.8,177.8 526.6,177.8 527.3,177.8 528.1,177.8 528.9,177.8 529.6,177.8 530.4,177.7 531.1,177.7 531.9,177.6 532.6,177.6 533.4,177.5 534.2,177.3 534.9,177.1 535.7,176.9 536.4,176.6 537.2,176.2 538.0,175.7 538.7,175.0 539.5,174.3 540.2,173.3 541.0,172.2 541.7,170.8 542.5,169.2 543.3,167.4 544.0,165.3 544.8,163.0 545.5,160.4 546.3,157.6 547.1,154.7 547.8,151.5 548.6,148.3 549.3,145.0 550.1,141.8 550.8,138.7 551.6,135.8 552.4,133.2 553.1,130.9 553.9,129.1 554.6,127.7 555.4,126.9 556.2,126.6 556.9,126.9 557.7,127.7 558.4,129.1 559.2,130.9 559.9,133.2 560.7,135.8 561.5,138.7 562.2,141.8 563.0,145.0 563.7,148.3 564.5,151.5 565.2,154.7 566.0,157.6 566.8,160.4 567.5,163.0 568.3,165.3 569.0,167.4 569.8,169.2 570.6,170.8 571.3,172.2 572.1,173.3 572.8,174.3 573.6,175.0 574.3,175.7 575.1,176.2 575.9,176.6 576.6,176.9 577.4,177.1 578.1,177.3 578.9,177.5 579.7,177.6 580.4,177.6 581.2,177.7 581.9,177.7 582.7,177.8 583.4,177.8 584.2,177.8 585.0,177.8 585.7,177.8 586.5,177.8" fill="none" stroke="#006fed" stroke-width="0.6" stroke-opacity="0.9" stroke-linejoin="round"/>
<path d="M524.1,177.8 524.9,177.8 525.7,177.8 526.5,177.8 527.3,177.8 528.1,177.8 528.8,177.7 529.6,177.7 530.4,177.6 531.2,177.6 532.0,177.5 532.8,177.3 533.6,177.1 534.4,176.9 535.1,176.6 535.9,176.2 536.7,175.7 537.5,175.0 538.3,174.3 539.1,173.3 539.9,172.2 540.7,170.8 541.4,169.2 542.2,167.4 543.0,165.3 543.8,163.0 544.6,160.4 545.4,157.6 546.2,154.7 546.9,151.5 547.7,148.3 548.5,145.0 549.3,141.8 550.1,138.7 550.9,135.8 551.7,133.2 552.5,130.9 553.2,129.1 554.0,127.7 554.8,126.9 555.6,126.6 556.4,126.9 557.2,127.7 558.0,129.1 558.8,130.9 559.5,133.2 560.3,135.8 561.1,138.7 561.9,141.8 562.7,145.0 563.5,148.3 564.3,151.5 565.0,154.7 565.8,157.6 566.6,160.4 567.4,163.0 568.2,165.3 569.0,167.4 569.8,169.2 570.6,170.8 571.3,172.2 572.1,173.3 572.9,174.3 573.7,175.0 574.5,175.7 575.3,176.2 576.1,176.6 576.8,176.9 577.6,177.1 578.4,177.3 579.2,177.5 580.0,177.6 580.8,177.6 581.6,177.7 582.4,177.7 583.1,177.8 583.9,177.8 584.7,177.8 585.5,177.8 586.3,177.8 587.1,177.8" fill="none" stroke="#505050" stroke-width="0.45" stroke-opacity="0.9" stroke-linejoin="round"/>
</g>
<clipPath id="dR3"><rect x="588.23" y="180.11" width="54.70" height="56.93"/></clipPath>
<g clip-path="url(#dR3)">
<path d="M585.0,237.0 585.8,237.0 586.6,237.0 587.3,237.0 588.1,237.0 588.8,237.0 589.6,237.0 590.4,236.9 591.1,236.9 591.9,236.8 592.7,236.7 593.4,236.5 594.2,236.4 595.0,236.1 595.7,235.8 596.5,235.4 597.2,234.9 598.0,234.3 598.8,233.5 599.5,232.5 600.3,231.4 601.1,230.0 601.8,228.5 602.6,226.6 603.4,224.5 604.1,222.2 604.9,219.6 605.6,216.9 606.4,213.9 607.2,210.7 607.9,207.5 608.7,204.3 609.5,201.0 610.2,197.9 611.0,195.0 611.8,192.4 612.5,190.1 613.3,188.3 614.1,186.9 614.8,186.1 615.6,185.8 616.3,186.1 617.1,186.9 617.9,188.3 618.6,190.1 619.4,192.4 620.2,195.0 620.9,197.9 621.7,201.0 622.5,204.3 623.2,207.5 624.0,210.7 624.7,213.9 625.5,216.9 626.3,219.6 627.0,222.2 627.8,224.5 628.6,226.6 629.3,228.5 630.1,230.0 630.9,231.4 631.6,232.5 632.4,233.5 633.1,234.3 633.9,234.9 634.7,235.4 635.4,235.8 636.2,236.1 637.0,236.4 637.7,236.5 638.5,236.7 639.3,236.8 640.0,236.9 640.8,236.9 641.6,237.0 642.3,237.0 643.1,237.0 643.8,237.0 644.6,237.0 645.4,237.0 646.1,237.0" fill="none" stroke="#808080" stroke-width="0.6" stroke-opacity="0.9" stroke-linejoin="round"/>
<path d="M588.2,237.0 588.9,237.0 589.7,237.0 590.4,237.0 591.2,237.0 591.9,237.0 592.7,237.0 593.4,236.9 594.1,236.9 594.9,236.8 595.6,236.7 596.4,236.5 597.1,236.4 597.9,236.1 598.6,235.8 599.4,235.4 600.1,234.9 600.9,234.3 601.6,233.5 602.4,232.5 603.1,231.4 603.9,230.0 604.6,228.5 605.3,226.6 606.1,224.5 606.8,222.2 607.6,219.6 608.3,216.9 609.1,213.9 609.8,210.7 610.6,207.5 611.3,204.3 612.1,201.0 612.8,197.9 613.6,195.0 614.3,192.4 615.1,190.1 615.8,188.3 616.5,186.9 617.3,186.1 618.0,185.8 618.8,186.1 619.5,186.9 620.3,188.3 621.0,190.1 621.8,192.4 622.5,195.0 623.3,197.9 624.0,201.0 624.8,204.3 625.5,207.5 626.3,210.7 627.0,213.9 627.7,216.9 628.5,219.6 629.2,222.2 630.0,224.5 630.7,226.6 631.5,228.5 632.2,230.0 633.0,231.4 633.7,232.5 634.5,233.5 635.2,234.3 636.0,234.9 636.7,235.4 637.5,235.8 638.2,236.1 638.9,236.4 639.7,236.5 640.4,236.7 641.2,236.8 641.9,236.9 642.7,236.9 643.4,237.0 644.2,237.0 644.9,237.0 645.7,237.0 646.4,237.0 647.2,237.0 647.9,237.0" fill="none" stroke="#e03424" stroke-width="0.6" stroke-opacity="0.9" stroke-linejoin="round"/>
<path d="M586.6,237.0 587.3,237.0 588.1,237.0 588.8,237.0 589.6,237.0 590.3,237.0 591.1,237.0 591.8,236.9 592.6,236.9 593.3,236.8 594.1,236.7 594.8,236.5 595.5,236.4 596.3,236.1 597.0,235.8 597.8,235.4 598.5,234.9 599.3,234.3 600.0,233.5 600.8,232.5 601.5,231.4 602.3,230.0 603.0,228.5 603.8,226.6 604.5,224.5 605.3,222.2 606.0,219.6 606.7,216.9 607.5,213.9 608.2,210.7 609.0,207.5 609.7,204.3 610.5,201.0 611.2,197.9 612.0,195.0 612.7,192.4 613.5,190.1 614.2,188.3 615.0,186.9 615.7,186.1 616.5,185.8 617.2,186.1 617.9,186.9 618.7,188.3 619.4,190.1 620.2,192.4 620.9,195.0 621.7,197.9 622.4,201.0 623.2,204.3 623.9,207.5 624.7,210.7 625.4,213.9 626.2,216.9 626.9,219.6 627.7,222.2 628.4,224.5 629.1,226.6 629.9,228.5 630.6,230.0 631.4,231.4 632.1,232.5 632.9,233.5 633.6,234.3 634.4,234.9 635.1,235.4 635.9,235.8 636.6,236.1 637.4,236.4 638.1,236.5 638.9,236.7 639.6,236.8 640.3,236.9 641.1,236.9 641.8,237.0 642.6,237.0 643.3,237.0 644.1,237.0 644.8,237.0 645.6,237.0 646.3,237.0" fill="none" stroke="#006fed" stroke-width="0.6" stroke-opacity="0.9" stroke-linejoin="round"/>
<path d="M584.8,237.0 585.6,237.0 586.4,237.0 587.2,237.0 587.9,237.0 588.7,237.0 589.5,237.0 590.3,236.9 591.0,236.9 591.8,236.8 592.6,236.7 593.4,236.5 594.1,236.4 594.9,236.1 595.7,235.8 596.5,235.4 597.2,234.9 598.0,234.3 598.8,233.5 599.6,232.5 600.3,231.4 601.1,230.0 601.9,228.5 602.7,226.6 603.4,224.5 604.2,222.2 605.0,219.6 605.8,216.9 606.5,213.9 607.3,210.7 608.1,207.5 608.9,204.3 609.7,201.0 610.4,197.9 611.2,195.0 612.0,192.4 612.8,190.1 613.5,188.3 614.3,186.9 615.1,186.1 615.9,185.8 616.6,186.1 617.4,186.9 618.2,188.3 619.0,190.1 619.7,192.4 620.5,195.0 621.3,197.9 622.1,201.0 622.8,204.3 623.6,207.5 624.4,210.7 625.2,213.9 625.9,216.9 626.7,219.6 627.5,222.2 628.3,224.5 629.0,226.6 629.8,228.5 630.6,230.0 631.4,231.4 632.1,232.5 632.9,233.5 633.7,234.3 634.5,234.9 635.2,235.4 636.0,235.8 636.8,236.1 637.6,236.4 638.3,236.5 639.1,236.7 639.9,236.8 640.7,236.9 641.4,236.9 642.2,237.0 643.0,237.0 643.8,237.0 644.5,237.0 645.3,237.0 646.1,237.0 646.9,237.0" fill="none" stroke="#505050" stroke-width="0.45" stroke-opacity="0.9" stroke-linejoin="round"/>
</g>
<clipPath id="dR4"><rect x="646.73" y="239.33" width="54.70" height="56.93"/></clipPath>
<g clip-path="url(#dR4)">
<path d="M645.4,296.3 646.1,296.2 646.9,296.2 647.6,296.2 648.3,296.2 649.0,296.2 649.7,296.2 650.5,296.1 651.2,296.1 651.9,296.0 652.6,295.9 653.4,295.8 654.1,295.6 654.8,295.3 655.5,295.0 656.3,294.6 657.0,294.1 657.7,293.5 658.4,292.7 659.2,291.8 659.9,290.6 660.6,289.3 661.3,287.7 662.1,285.8 662.8,283.8 663.5,281.4 664.2,278.9 664.9,276.1 665.7,273.1 666.4,270.0 667.1,266.7 667.8,263.5 668.6,260.3 669.3,257.2 670.0,254.2 670.7,251.6 671.5,249.3 672.2,247.5 672.9,246.1 673.6,245.3 674.4,245.0 675.1,245.3 675.8,246.1 676.5,247.5 677.2,249.3 678.0,251.6 678.7,254.2 679.4,257.2 680.1,260.3 680.9,263.5 681.6,266.7 682.3,270.0 683.0,273.1 683.8,276.1 684.5,278.9 685.2,281.4 685.9,283.8 686.7,285.8 687.4,287.7 688.1,289.3 688.8,290.6 689.6,291.8 690.3,292.7 691.0,293.5 691.7,294.1 692.4,294.6 693.2,295.0 693.9,295.3 694.6,295.6 695.3,295.8 696.1,295.9 696.8,296.0 697.5,296.1 698.2,296.1 699.0,296.2 699.7,296.2 700.4,296.2 701.1,296.2 701.9,296.2 702.6,296.2 703.3,296.3" fill="none" stroke="#808080" stroke-width="0.6" stroke-opacity="0.9" stroke-linejoin="round"/>
<path d="M647.4,296.3 648.1,296.2 648.8,296.2 649.5,296.2 650.2,296.2 650.9,296.2 651.6,296.2 652.3,296.1 653.0,296.1 653.7,296.0 654.4,295.9 655.1,295.8 655.8,295.6 656.5,295.3 657.2,295.0 657.9,294.6 658.6,294.1 659.3,293.5 660.0,292.7 660.7,291.8 661.4,290.6 662.1,289.3 662.8,287.7 663.5,285.8 664.2,283.8 664.9,281.4 665.6,278.9 666.3,276.1 667.0,273.1 667.7,270.0 668.4,266.7 669.1,263.5 669.8,260.3 670.5,257.2 671.2,254.2 671.9,251.6 672.6,249.3 673.3,247.5 674.0,246.1 674.7,245.3 675.4,245.0 676.1,245.3 676.8,246.1 677.5,247.5 678.3,249.3 679.0,251.6 679.7,254.2 680.4,257.2 681.1,260.3 681.8,263.5 682.5,266.7 683.2,270.0 683.9,273.1 684.6,276.1 685.3,278.9 686.0,281.4 686.7,283.8 687.4,285.8 688.1,287.7 688.8,289.3 689.5,290.6 690.2,291.8 690.9,292.7 691.6,293.5 692.3,294.1 693.0,294.6 693.7,295.0 694.4,295.3 695.1,295.6 695.8,295.8 696.5,295.9 697.2,296.0 697.9,296.1 698.6,296.1 699.3,296.2 700.0,296.2 700.7,296.2 701.4,296.2 702.1,296.2 702.8,296.2 703.5,296.3" fill="none" stroke="#e03424" stroke-width="0.6" stroke-opacity="0.9" stroke-linejoin="round"/>
<path d="M648.2,296.3 648.9,296.2 649.6,296.2 650.3,296.2 651.0,296.2 651.7,296.2 652.4,296.2 653.1,296.1 653.8,296.1 654.5,296.0 655.2,295.9 655.9,295.8 656.6,295.6 657.3,295.3 658.0,295.0 658.8,294.6 659.5,294.1 660.2,293.5 660.9,292.7 661.6,291.8 662.3,290.6 663.0,289.3 663.7,287.7 664.4,285.8 665.1,283.8 665.8,281.4 666.5,278.9 667.2,276.1 667.9,273.1 668.6,270.0 669.3,266.7 670.0,263.5 670.7,260.3 671.4,257.2 672.1,254.2 672.8,251.6 673.5,249.3 674.2,247.5 674.9,246.1 675.6,245.3 676.3,245.0 677.0,245.3 677.7,246.1 678.4,247.5 679.1,249.3 679.8,251.6 680.5,254.2 681.2,257.2 681.9,260.3 682.6,263.5 683.3,266.7 684.0,270.0 684.7,273.1 685.4,276.1 686.1,278.9 686.8,281.4 687.5,283.8 688.2,285.8 688.9,287.7 689.6,289.3 690.3,290.6 691.0,291.8 691.7,292.7 692.4,293.5 693.1,294.1 693.8,294.6 694.5,295.0 695.2,295.3 695.9,295.6 696.6,295.8 697.3,295.9 698.0,296.0 698.7,296.1 699.4,296.1 700.1,296.2 700.8,296.2 701.5,296.2 702.2,296.2 702.9,296.2 703.6,296.2 704.3,296.3" fill="none" stroke="#006fed" stroke-width="0.6" stroke-opacity="0.9" stroke-linejoin="round"/>
<path d="M645.5,296.3 646.2,296.2 647.0,296.2 647.7,296.2 648.4,296.2 649.2,296.2 649.9,296.2 650.6,296.1 651.4,296.1 652.1,296.0 652.8,295.9 653.6,295.8 654.3,295.6 655.1,295.3 655.8,295.0 656.5,294.6 657.3,294.1 658.0,293.5 658.7,292.7 659.5,291.8 660.2,290.6 660.9,289.3 661.7,287.7 662.4,285.8 663.1,283.8 663.9,281.4 664.6,278.9 665.3,276.1 666.1,273.1 666.8,270.0 667.5,266.7 668.3,263.5 669.0,260.3 669.8,257.2 670.5,254.2 671.2,251.6 672.0,249.3 672.7,247.5 673.4,246.1 674.2,245.3 674.9,245.0 675.6,245.3 676.4,246.1 677.1,247.5 677.8,249.3 678.6,251.6 679.3,254.2 680.0,257.2 680.8,260.3 681.5,263.5 682.3,266.7 683.0,270.0 683.7,273.1 684.5,276.1 685.2,278.9 685.9,281.4 686.7,283.8 687.4,285.8 688.1,287.7 688.9,289.3 689.6,290.6 690.3,291.8 691.1,292.7 691.8,293.5 692.5,294.1 693.3,294.6 694.0,295.0 694.8,295.3 695.5,295.6 696.2,295.8 697.0,295.9 697.7,296.0 698.4,296.1 699.2,296.1 699.9,296.2 700.6,296.2 701.4,296.2 702.1,296.2 702.8,296.2 703.6,296.2 704.3,296.3" fill="none" stroke="#505050" stroke-width="0.45" stroke-opacity="0.9" stroke-linejoin="round"/>
</g>
<clipPath id="dR5"><rect x="705.23" y="298.55" width="54.70" height="56.93"/></clipPath>
<g clip-path="url(#dR5)">
<path d="M701.8,355.5 702.5,355.5 703.3,355.5 704.0,355.5 704.8,355.4 705.6,355.4 706.3,355.4 707.1,355.4 707.9,355.3 708.6,355.2 709.4,355.1 710.2,355.0 710.9,354.8 711.7,354.6 712.4,354.2 713.2,353.8 714.0,353.3 714.7,352.7 715.5,351.9 716.3,351.0 717.0,349.8 717.8,348.5 718.6,346.9 719.3,345.1 720.1,343.0 720.8,340.7 721.6,338.1 722.4,335.3 723.1,332.3 723.9,329.2 724.7,326.0 725.4,322.7 726.2,319.5 727.0,316.4 727.7,313.5 728.5,310.8 729.3,308.6 730.0,306.7 730.8,305.4 731.5,304.5 732.3,304.2 733.1,304.5 733.8,305.4 734.6,306.7 735.4,308.6 736.1,310.8 736.9,313.5 737.7,316.4 738.4,319.5 739.2,322.7 739.9,326.0 740.7,329.2 741.5,332.3 742.2,335.3 743.0,338.1 743.8,340.7 744.5,343.0 745.3,345.1 746.1,346.9 746.8,348.5 747.6,349.8 748.3,351.0 749.1,351.9 749.9,352.7 750.6,353.3 751.4,353.8 752.2,354.2 752.9,354.6 753.7,354.8 754.5,355.0 755.2,355.1 756.0,355.2 756.8,355.3 757.5,355.4 758.3,355.4 759.0,355.4 759.8,355.4 760.6,355.5 761.3,355.5 762.1,355.5 762.9,355.5" fill="none" stroke="#808080" stroke-width="0.6" stroke-opacity="0.9" stroke-linejoin="round"/>
<path d="M704.0,355.5 704.8,355.5 705.5,355.5 706.3,355.5 707.0,355.4 707.8,355.4 708.5,355.4 709.3,355.4 710.0,355.3 710.7,355.2 711.5,355.1 712.2,355.0 713.0,354.8 713.7,354.6 714.5,354.2 715.2,353.8 716.0,353.3 716.7,352.7 717.5,351.9 718.2,351.0 719.0,349.8 719.7,348.5 720.5,346.9 721.2,345.1 721.9,343.0 722.7,340.7 723.4,338.1 724.2,335.3 724.9,332.3 725.7,329.2 726.4,326.0 727.2,322.7 727.9,319.5 728.7,316.4 729.4,313.5 730.2,310.8 730.9,308.6 731.7,306.7 732.4,305.4 733.1,304.5 733.9,304.2 734.6,304.5 735.4,305.4 736.1,306.7 736.9,308.6 737.6,310.8 738.4,313.5 739.1,316.4 739.9,319.5 740.6,322.7 741.4,326.0 742.1,329.2 742.9,332.3 743.6,335.3 744.3,338.1 745.1,340.7 745.8,343.0 746.6,345.1 747.3,346.9 748.1,348.5 748.8,349.8 749.6,351.0 750.3,351.9 751.1,352.7 751.8,353.3 752.6,353.8 753.3,354.2 754.1,354.6 754.8,354.8 755.5,355.0 756.3,355.1 757.0,355.2 757.8,355.3 758.5,355.4 759.3,355.4 760.0,355.4 760.8,355.4 761.5,355.5 762.3,355.5 763.0,355.5 763.8,355.5" fill="none" stroke="#e03424" stroke-width="0.6" stroke-opacity="0.9" stroke-linejoin="round"/>
<path d="M703.4,355.5 704.1,355.5 704.9,355.5 705.6,355.5 706.4,355.4 707.1,355.4 707.9,355.4 708.6,355.4 709.3,355.3 710.1,355.2 710.8,355.1 711.6,355.0 712.3,354.8 713.1,354.6 713.8,354.2 714.6,353.8 715.3,353.3 716.1,352.7 716.8,351.9 717.6,351.0 718.3,349.8 719.0,348.5 719.8,346.9 720.5,345.1 721.3,343.0 722.0,340.7 722.8,338.1 723.5,335.3 724.3,332.3 725.0,329.2 725.8,326.0 726.5,322.7 727.3,319.5 728.0,316.4 728.8,313.5 729.5,310.8 730.2,308.6 731.0,306.7 731.7,305.4 732.5,304.5 733.2,304.2 734.0,304.5 734.7,305.4 735.5,306.7 736.2,308.6 737.0,310.8 737.7,313.5 738.5,316.4 739.2,319.5 740.0,322.7 740.7,326.0 741.4,329.2 742.2,332.3 742.9,335.3 743.7,338.1 744.4,340.7 745.2,343.0 745.9,345.1 746.7,346.9 747.4,348.5 748.2,349.8 748.9,351.0 749.7,351.9 750.4,352.7 751.2,353.3 751.9,353.8 752.6,354.2 753.4,354.6 754.1,354.8 754.9,355.0 755.6,355.1 756.4,355.2 757.1,355.3 757.9,355.4 758.6,355.4 759.4,355.4 760.1,355.4 760.9,355.5 761.6,355.5 762.4,355.5 763.1,355.5" fill="none" stroke="#006fed" stroke-width="0.6" stroke-opacity="0.9" stroke-linejoin="round"/>
<path d="M701.6,355.5 702.3,355.5 703.1,355.5 703.9,355.5 704.7,355.4 705.4,355.4 706.2,355.4 707.0,355.4 707.8,355.3 708.5,355.2 709.3,355.1 710.1,355.0 710.9,354.8 711.6,354.6 712.4,354.2 713.2,353.8 714.0,353.3 714.7,352.7 715.5,351.9 716.3,351.0 717.1,349.8 717.8,348.5 718.6,346.9 719.4,345.1 720.2,343.0 720.9,340.7 721.7,338.1 722.5,335.3 723.3,332.3 724.1,329.2 724.8,326.0 725.6,322.7 726.4,319.5 727.2,316.4 727.9,313.5 728.7,310.8 729.5,308.6 730.3,306.7 731.0,305.4 731.8,304.5 732.6,304.2 733.4,304.5 734.1,305.4 734.9,306.7 735.7,308.6 736.5,310.8 737.2,313.5 738.0,316.4 738.8,319.5 739.6,322.7 740.3,326.0 741.1,329.2 741.9,332.3 742.7,335.3 743.4,338.1 744.2,340.7 745.0,343.0 745.8,345.1 746.5,346.9 747.3,348.5 748.1,349.8 748.9,351.0 749.6,351.9 750.4,352.7 751.2,353.3 752.0,353.8 752.7,354.2 753.5,354.6 754.3,354.8 755.1,355.0 755.8,355.1 756.6,355.2 757.4,355.3 758.2,355.4 758.9,355.4 759.7,355.4 760.5,355.4 761.3,355.5 762.0,355.5 762.8,355.5 763.6,355.5" fill="none" stroke="#505050" stroke-width="0.45" stroke-opacity="0.9" stroke-linejoin="round"/>
</g>
<rect x="412.73" y="2.45" width="54.70" height="56.93" fill="none" stroke="#6a6a6a" stroke-width="0.9"/>
<path d="M419.50,59.38v1.6M436.10,59.38v1.6M452.30,59.38v1.6" stroke="#6a6a6a" stroke-width="0.7"/>
<rect x="412.73" y="61.67" width="54.70" height="56.93" fill="none" stroke="#6a6a6a" stroke-width="0.9"/>
<path d="M419.50,118.60v1.6M436.10,118.60v1.6M452.30,118.60v1.6M412.73,111.42h-1.6M412.73,97.60h-1.6M412.73,83.83h-1.6M412.73,69.81h-1.6" stroke="#6a6a6a" stroke-width="0.7"/>
<rect x="471.23" y="61.67" width="54.70" height="56.93" fill="none" stroke="#6a6a6a" stroke-width="0.9"/>
<path d="M478.13,118.60v1.6M491.40,118.60v1.6M504.64,118.60v1.6M518.11,118.60v1.6" stroke="#6a6a6a" stroke-width="0.7"/>
<rect x="412.73" y="120.89" width="54.70" height="56.93" fill="none" stroke="#6a6a6a" stroke-width="0.9"/>
<path d="M419.50,177.82v1.6M436.10,177.82v1.6M452.30,177.82v1.6M412.73,161.81h-1.6M412.73,144.73h-1.6M412.73,128.20h-1.6" stroke="#6a6a6a" stroke-width="0.7"/>
<rect x="471.23" y="120.89" width="54.70" height="56.93" fill="none" stroke="#6a6a6a" stroke-width="0.9"/>
<path d="M478.13,177.82v1.6M491.40,177.82v1.6M504.64,177.82v1.6M518.11,177.82v1.6M471.23,161.81h-1.6M471.23,144.73h-1.6M471.23,128.20h-1.6" stroke="#6a6a6a" stroke-width="0.7"/>
<rect x="529.73" y="120.89" width="54.70" height="56.93" fill="none" stroke="#6a6a6a" stroke-width="0.9"/>
<path d="M545.11,177.82v1.6M561.52,177.82v1.6M577.40,177.82v1.6" stroke="#6a6a6a" stroke-width="0.7"/>
<rect x="412.73" y="180.11" width="54.70" height="56.93" fill="none" stroke="#6a6a6a" stroke-width="0.9"/>
<path d="M419.50,237.04v1.6M436.10,237.04v1.6M452.30,237.04v1.6M412.73,224.85h-1.6M412.73,212.26h-1.6M412.73,199.86h-1.6M412.73,187.51h-1.6" stroke="#6a6a6a" stroke-width="0.7"/>
<rect x="471.23" y="180.11" width="54.70" height="56.93" fill="none" stroke="#6a6a6a" stroke-width="0.9"/>
<path d="M478.13,237.04v1.6M491.40,237.04v1.6M504.64,237.04v1.6M518.11,237.04v1.6M471.23,224.85h-1.6M471.23,212.26h-1.6M471.23,199.86h-1.6M471.23,187.51h-1.6" stroke="#6a6a6a" stroke-width="0.7"/>
<rect x="529.73" y="180.11" width="54.70" height="56.93" fill="none" stroke="#6a6a6a" stroke-width="0.9"/>
<path d="M545.11,237.04v1.6M561.52,237.04v1.6M577.40,237.04v1.6M529.73,224.85h-1.6M529.73,212.26h-1.6M529.73,199.86h-1.6M529.73,187.51h-1.6" stroke="#6a6a6a" stroke-width="0.7"/>
<rect x="588.23" y="180.11" width="54.70" height="56.93" fill="none" stroke="#6a6a6a" stroke-width="0.9"/>
<path d="M599.95,237.04v1.6M612.04,237.04v1.6M623.95,237.04v1.6M635.82,237.04v1.6" stroke="#6a6a6a" stroke-width="0.7"/>
<rect x="412.73" y="239.33" width="54.70" height="56.93" fill="none" stroke="#6a6a6a" stroke-width="0.9"/>
<path d="M419.50,296.26v1.6M436.10,296.26v1.6M452.30,296.26v1.6M412.73,289.97h-1.6M412.73,278.95h-1.6M412.73,267.99h-1.6M412.73,257.08h-1.6M412.73,245.76h-1.6" stroke="#6a6a6a" stroke-width="0.7"/>
<rect x="471.23" y="239.33" width="54.70" height="56.93" fill="none" stroke="#6a6a6a" stroke-width="0.9"/>
<path d="M478.13,296.26v1.6M491.40,296.26v1.6M504.64,296.26v1.6M518.11,296.26v1.6M471.23,289.97h-1.6M471.23,278.95h-1.6M471.23,267.99h-1.6M471.23,257.08h-1.6M471.23,245.76h-1.6" stroke="#6a6a6a" stroke-width="0.7"/>
<rect x="529.73" y="239.33" width="54.70" height="56.93" fill="none" stroke="#6a6a6a" stroke-width="0.9"/>
<path d="M545.11,296.26v1.6M561.52,296.26v1.6M577.40,296.26v1.6M529.73,289.97h-1.6M529.73,278.95h-1.6M529.73,267.99h-1.6M529.73,257.08h-1.6M529.73,245.76h-1.6" stroke="#6a6a6a" stroke-width="0.7"/>
<rect x="588.23" y="239.33" width="54.70" height="56.93" fill="none" stroke="#6a6a6a" stroke-width="0.9"/>
<path d="M599.95,296.26v1.6M612.04,296.26v1.6M623.95,296.26v1.6M635.82,296.26v1.6M588.23,289.97h-1.6M588.23,278.95h-1.6M588.23,267.99h-1.6M588.23,257.08h-1.6M588.23,245.76h-1.6" stroke="#6a6a6a" stroke-width="0.7"/>
<rect x="646.73" y="239.33" width="54.70" height="56.93" fill="none" stroke="#6a6a6a" stroke-width="0.9"/>
<path d="M652.77,296.26v1.6M663.36,296.26v1.6M673.89,296.26v1.6M684.38,296.26v1.6M695.25,296.26v1.6" stroke="#6a6a6a" stroke-width="0.7"/>
<rect x="412.73" y="298.55" width="54.70" height="56.93" fill="none" stroke="#6a6a6a" stroke-width="0.9"/>
<path d="M419.50,355.48v1.6M436.10,355.48v1.6M452.30,355.48v1.6M412.73,346.48h-1.6M412.73,334.39h-1.6M412.73,322.46h-1.6M412.73,310.58h-1.6" stroke="#6a6a6a" stroke-width="0.7"/>
<rect x="471.23" y="298.55" width="54.70" height="56.93" fill="none" stroke="#6a6a6a" stroke-width="0.9"/>
<path d="M478.13,355.48v1.6M491.40,355.48v1.6M504.64,355.48v1.6M518.11,355.48v1.6M471.23,346.48h-1.6M471.23,334.39h-1.6M471.23,322.46h-1.6M471.23,310.58h-1.6" stroke="#6a6a6a" stroke-width="0.7"/>
<rect x="529.73" y="298.55" width="54.70" height="56.93" fill="none" stroke="#6a6a6a" stroke-width="0.9"/>
<path d="M545.11,355.48v1.6M561.52,355.48v1.6M577.40,355.48v1.6M529.73,346.48h-1.6M529.73,334.39h-1.6M529.73,322.46h-1.6M529.73,310.58h-1.6" stroke="#6a6a6a" stroke-width="0.7"/>
<rect x="588.23" y="298.55" width="54.70" height="56.93" fill="none" stroke="#6a6a6a" stroke-width="0.9"/>
<path d="M599.95,355.48v1.6M612.04,355.48v1.6M623.95,355.48v1.6M635.82,355.48v1.6M588.23,346.48h-1.6M588.23,334.39h-1.6M588.23,322.46h-1.6M588.23,310.58h-1.6" stroke="#6a6a6a" stroke-width="0.7"/>
<rect x="646.73" y="298.55" width="54.70" height="56.93" fill="none" stroke="#6a6a6a" stroke-width="0.9"/>
<path d="M652.77,355.48v1.6M663.36,355.48v1.6M673.89,355.48v1.6M684.38,355.48v1.6M695.25,355.48v1.6M646.73,346.48h-1.6M646.73,334.39h-1.6M646.73,322.46h-1.6M646.73,310.58h-1.6" stroke="#6a6a6a" stroke-width="0.7"/>
<rect x="705.23" y="298.55" width="54.70" height="56.93" fill="none" stroke="#6a6a6a" stroke-width="0.9"/>
<path d="M713.88,355.48v1.6M725.49,355.48v1.6M736.96,355.48v1.6M748.37,355.48v1.6" stroke="#6a6a6a" stroke-width="0.7"/>
<text transform="translate(419.50,363.00) rotate(-20) scale(1,1.18)" y="1.8" text-anchor="middle" class="tk">1.041</text>
<text transform="translate(436.10,363.00) rotate(-20) scale(1,1.18)" y="1.8" text-anchor="middle" class="tk">1.042</text>
<text transform="translate(452.30,363.00) rotate(-20) scale(1,1.18)" y="1.8" text-anchor="middle" class="tk">1.043</text>
<text x="440.08" y="373.8" text-anchor="middle" class="ax">100<tspan font-style="italic">θ</tspan><tspan font-size="4.2" dy="0.9" font-style="italic" stroke-width="0.05">MC</tspan></text>
<text transform="translate(478.13,363.00) rotate(-20) scale(1,1.18)" y="1.8" text-anchor="middle" class="tk">0.0224</text>
<text transform="translate(491.40,363.00) rotate(-20) scale(1,1.18)" y="1.8" text-anchor="middle" class="tk">0.0228</text>
<text transform="translate(504.64,363.00) rotate(-20) scale(1,1.18)" y="1.8" text-anchor="middle" class="tk">0.0232</text>
<text transform="translate(518.11,363.00) rotate(-20) scale(1,1.18)" y="1.8" text-anchor="middle" class="tk">0.0236</text>
<text x="498.58" y="373.8" text-anchor="middle" class="ax">Ω<tspan font-size="4.6" dy="1.0" font-style="italic">b</tspan><tspan dy="-1.0" font-style="italic">h</tspan><tspan font-size="4.2" dy="-2.6">2</tspan></text>
<text transform="translate(545.11,363.00) rotate(-20) scale(1,1.18)" y="1.8" text-anchor="middle" class="tk">0.1075</text>
<text transform="translate(561.52,363.00) rotate(-20) scale(1,1.18)" y="1.8" text-anchor="middle" class="tk">0.1100</text>
<text transform="translate(577.40,363.00) rotate(-20) scale(1,1.18)" y="1.8" text-anchor="middle" class="tk">0.1125</text>
<text x="557.08" y="373.8" text-anchor="middle" class="ax">Ω<tspan font-size="4.6" dy="1.0" font-style="italic">c</tspan><tspan dy="-1.0" font-style="italic">h</tspan><tspan font-size="4.2" dy="-2.6">2</tspan></text>
<text transform="translate(599.95,363.00) rotate(-20) scale(1,1.18)" y="1.8" text-anchor="middle" class="tk">3.08</text>
<text transform="translate(612.04,363.00) rotate(-20) scale(1,1.18)" y="1.8" text-anchor="middle" class="tk">3.12</text>
<text transform="translate(623.95,363.00) rotate(-20) scale(1,1.18)" y="1.8" text-anchor="middle" class="tk">3.16</text>
<text transform="translate(635.82,363.00) rotate(-20) scale(1,1.18)" y="1.8" text-anchor="middle" class="tk">3.20</text>
<text x="615.58" y="373.8" text-anchor="middle" class="ax">ln(10<tspan font-size="4.2" dy="-2.6">10</tspan><tspan dy="2.6" font-style="italic">A</tspan><tspan font-size="4.6" dy="1.0" font-style="italic">s</tspan><tspan dy="-1.0">)</tspan></text>
<text transform="translate(652.77,363.00) rotate(-20) scale(1,1.18)" y="1.8" text-anchor="middle" class="tk">−0.015</text>
<text transform="translate(663.36,363.00) rotate(-20) scale(1,1.18)" y="1.8" text-anchor="middle" class="tk">−0.012</text>
<text transform="translate(673.89,363.00) rotate(-20) scale(1,1.18)" y="1.8" text-anchor="middle" class="tk">−0.009</text>
<text transform="translate(684.38,363.00) rotate(-20) scale(1,1.18)" y="1.8" text-anchor="middle" class="tk">−0.006</text>
<text transform="translate(695.25,363.00) rotate(-20) scale(1,1.18)" y="1.8" text-anchor="middle" class="tk">−0.003</text>
<text x="674.08" y="373.8" text-anchor="middle" class="ax">Ω<tspan font-size="4.6" dy="1.0" font-style="italic">K</tspan></text>
<text transform="translate(713.88,363.00) rotate(-20) scale(1,1.18)" y="1.8" text-anchor="middle" class="tk">0.08</text>
<text transform="translate(725.49,363.00) rotate(-20) scale(1,1.18)" y="1.8" text-anchor="middle" class="tk">0.10</text>
<text transform="translate(736.96,363.00) rotate(-20) scale(1,1.18)" y="1.8" text-anchor="middle" class="tk">0.12</text>
<text transform="translate(748.37,363.00) rotate(-20) scale(1,1.18)" y="1.8" text-anchor="middle" class="tk">0.14</text>
<text x="732.58" y="373.8" text-anchor="middle" class="ax"><tspan font-style="italic">τ</tspan></text>
<text transform="translate(410.43,111.42) scale(1,1.18)" y="1.8" text-anchor="end" class="tk">0.0224</text>
<text transform="translate(410.43,97.60) scale(1,1.18)" y="1.8" text-anchor="end" class="tk">0.0228</text>
<text transform="translate(410.43,83.83) scale(1,1.18)" y="1.8" text-anchor="end" class="tk">0.0232</text>
<text transform="translate(410.43,69.81) scale(1,1.18)" y="1.8" text-anchor="end" class="tk">0.0236</text>
<text transform="translate(391.93,90.13) rotate(-90)" text-anchor="middle" class="ax">Ω<tspan font-size="4.6" dy="1.0" font-style="italic">b</tspan><tspan dy="-1.0" font-style="italic">h</tspan><tspan font-size="4.2" dy="-2.6">2</tspan></text>
<text transform="translate(410.43,161.81) scale(1,1.18)" y="1.8" text-anchor="end" class="tk">0.1075</text>
<text transform="translate(410.43,144.73) scale(1,1.18)" y="1.8" text-anchor="end" class="tk">0.1100</text>
<text transform="translate(410.43,128.20) scale(1,1.18)" y="1.8" text-anchor="end" class="tk">0.1125</text>
<text transform="translate(392.53,149.35) rotate(-90)" text-anchor="middle" class="ax">Ω<tspan font-size="4.6" dy="1.0" font-style="italic">c</tspan><tspan dy="-1.0" font-style="italic">h</tspan><tspan font-size="4.2" dy="-2.6">2</tspan></text>
<text transform="translate(410.43,224.85) scale(1,1.18)" y="1.8" text-anchor="end" class="tk">3.08</text>
<text transform="translate(410.43,212.26) scale(1,1.18)" y="1.8" text-anchor="end" class="tk">3.12</text>
<text transform="translate(410.43,199.86) scale(1,1.18)" y="1.8" text-anchor="end" class="tk">3.16</text>
<text transform="translate(410.43,187.51) scale(1,1.18)" y="1.8" text-anchor="end" class="tk">3.20</text>
<text transform="translate(397.73,208.57) rotate(-90)" text-anchor="middle" class="ax">ln(10<tspan font-size="4.2" dy="-2.6">10</tspan><tspan dy="2.6" font-style="italic">A</tspan><tspan font-size="4.6" dy="1.0" font-style="italic">s</tspan><tspan dy="-1.0">)</tspan></text>
<text transform="translate(410.43,289.97) scale(1,1.18)" y="1.8" text-anchor="end" class="tk">−0.015</text>
<text transform="translate(410.43,278.95) scale(1,1.18)" y="1.8" text-anchor="end" class="tk">−0.012</text>
<text transform="translate(410.43,267.99) scale(1,1.18)" y="1.8" text-anchor="end" class="tk">−0.009</text>
<text transform="translate(410.43,257.08) scale(1,1.18)" y="1.8" text-anchor="end" class="tk">−0.006</text>
<text transform="translate(410.43,245.76) scale(1,1.18)" y="1.8" text-anchor="end" class="tk">−0.003</text>
<text transform="translate(392.33,267.80) rotate(-90)" text-anchor="middle" class="ax">Ω<tspan font-size="4.6" dy="1.0" font-style="italic">K</tspan></text>
<text transform="translate(410.43,346.48) scale(1,1.18)" y="1.8" text-anchor="end" class="tk">0.08</text>
<text transform="translate(410.43,334.39) scale(1,1.18)" y="1.8" text-anchor="end" class="tk">0.10</text>
<text transform="translate(410.43,322.46) scale(1,1.18)" y="1.8" text-anchor="end" class="tk">0.12</text>
<text transform="translate(410.43,310.58) scale(1,1.18)" y="1.8" text-anchor="end" class="tk">0.14</text>
<text transform="translate(397.93,327.02) rotate(-90)" text-anchor="middle" class="ax"><tspan font-style="italic">τ</tspan></text>
<rect x="121.3" y="0.3" width="135.5" height="52.4" rx="1.5" fill="#fff" stroke="#d8d8d8" stroke-width="0.8"/>
<rect x="123.9" y="3.30" width="14.9" height="5.1" fill="#000866" fill-opacity="1.0"/>
<text x="144.70" y="8.15" textLength="21.60" lengthAdjust="spacingAndGlyphs" class="lg">Nonflat</text>
<text x="168.40" y="8.15" textLength="9.20" lengthAdjust="spacingAndGlyphs" class="lg">TT</text>
<text x="178.10" y="8.15" textLength="5.40" lengthAdjust="spacingAndGlyphs" class="pl">+</text>
<text x="183.50" y="8.15" textLength="13.50" lengthAdjust="spacingAndGlyphs" class="lg">lowP</text>
<text x="197.60" y="8.15" textLength="5.40" lengthAdjust="spacingAndGlyphs" class="pl">+</text>
<text x="203.30" y="8.15" textLength="18.00" lengthAdjust="spacingAndGlyphs" class="lg">lensing</text>
<rect x="123.9" y="13.10" width="14.9" height="5.1" fill="#009966" fill-opacity="0.85"/>
<text x="144.70" y="17.95" textLength="21.60" lengthAdjust="spacingAndGlyphs" class="lg">Nonflat</text>
<text x="168.40" y="17.95" textLength="9.20" lengthAdjust="spacingAndGlyphs" class="lg">TT</text>
<text x="178.10" y="17.95" textLength="5.40" lengthAdjust="spacingAndGlyphs" class="pl">+</text>
<text x="183.50" y="17.95" textLength="13.50" lengthAdjust="spacingAndGlyphs" class="lg">lowP</text>
<text x="197.60" y="17.95" textLength="5.40" lengthAdjust="spacingAndGlyphs" class="pl">+</text>
<text x="203.30" y="17.95" textLength="18.00" lengthAdjust="spacingAndGlyphs" class="lg">lensing</text>
<text x="221.70" y="17.95" textLength="5.10" lengthAdjust="spacingAndGlyphs" class="pl">+</text>
<text x="227.30" y="17.95" textLength="2.80" lengthAdjust="spacingAndGlyphs" class="mi">f</text>
<text x="230.20" y="17.95" textLength="4.40" lengthAdjust="spacingAndGlyphs" class="mi">σ</text>
<text x="235.10" y="19.25" textLength="2.30" lengthAdjust="spacingAndGlyphs" class="sb">8</text>
<rect x="123.9" y="23.20" width="14.9" height="5.1" fill="#808080" fill-opacity="0.85"/>
<text x="144.70" y="28.05" textLength="21.60" lengthAdjust="spacingAndGlyphs" class="lg">Nonflat</text>
<text x="168.40" y="28.05" textLength="9.20" lengthAdjust="spacingAndGlyphs" class="lg">TT</text>
<text x="178.10" y="28.05" textLength="5.40" lengthAdjust="spacingAndGlyphs" class="pl">+</text>
<text x="183.50" y="28.05" textLength="13.50" lengthAdjust="spacingAndGlyphs" class="lg">lowP</text>
<text x="197.60" y="28.05" textLength="5.40" lengthAdjust="spacingAndGlyphs" class="pl">+</text>
<text x="203.30" y="28.05" textLength="18.00" lengthAdjust="spacingAndGlyphs" class="lg">lensing</text>
<text x="221.70" y="28.05" textLength="5.10" lengthAdjust="spacingAndGlyphs" class="pl">+</text>
<text x="227.30" y="28.05" textLength="11.20" lengthAdjust="spacingAndGlyphs" class="lg">JLA</text>
<rect x="123.9" y="33.40" width="14.9" height="5.1" fill="#e03424" fill-opacity="0.85"/>
<text x="144.70" y="38.25" textLength="21.60" lengthAdjust="spacingAndGlyphs" class="lg">Nonflat</text>
<text x="168.40" y="38.25" textLength="9.20" lengthAdjust="spacingAndGlyphs" class="lg">TT</text>
<text x="178.10" y="38.25" textLength="5.40" lengthAdjust="spacingAndGlyphs" class="pl">+</text>
<text x="183.50" y="38.25" textLength="13.50" lengthAdjust="spacingAndGlyphs" class="lg">lowP</text>
<text x="197.60" y="38.25" textLength="5.40" lengthAdjust="spacingAndGlyphs" class="pl">+</text>
<text x="203.30" y="38.25" textLength="18.00" lengthAdjust="spacingAndGlyphs" class="lg">lensing</text>
<text x="221.70" y="38.25" textLength="5.10" lengthAdjust="spacingAndGlyphs" class="pl">+</text>
<text x="227.30" y="38.25" textLength="5.60" lengthAdjust="spacingAndGlyphs" class="mi">H</text>
<text x="233.50" y="38.25" textLength="1.70" lengthAdjust="spacingAndGlyphs" class="mr">(</text>
<text x="235.20" y="38.25" textLength="3.90" lengthAdjust="spacingAndGlyphs" class="mi">z</text>
<text x="239.60" y="38.25" textLength="2.20" lengthAdjust="spacingAndGlyphs" class="mr">)</text>
<rect x="123.9" y="43.40" width="14.9" height="5.1" fill="#006fed" fill-opacity="0.85"/>
<text x="144.70" y="48.25" textLength="21.60" lengthAdjust="spacingAndGlyphs" class="lg">Nonflat</text>
<text x="168.40" y="48.25" textLength="9.20" lengthAdjust="spacingAndGlyphs" class="lg">TT</text>
<text x="178.10" y="48.25" textLength="5.40" lengthAdjust="spacingAndGlyphs" class="pl">+</text>
<text x="183.50" y="48.25" textLength="13.50" lengthAdjust="spacingAndGlyphs" class="lg">lowP</text>
<text x="197.60" y="48.25" textLength="5.40" lengthAdjust="spacingAndGlyphs" class="pl">+</text>
<text x="203.30" y="48.25" textLength="18.00" lengthAdjust="spacingAndGlyphs" class="lg">lensing</text>
<text x="221.70" y="48.25" textLength="5.10" lengthAdjust="spacingAndGlyphs" class="pl">+</text>
<text x="227.30" y="48.25" textLength="26.90" lengthAdjust="spacingAndGlyphs" class="lg">NewBAO</text>
<rect x="479.4" y="0.3" width="190.0" height="42.8" rx="1.5" fill="#fff" stroke="#d8d8d8" stroke-width="0.8"/>
<line x1="482.2" y1="5.50" x2="496.7" y2="5.50" stroke="#999" stroke-width="0.8"/>
<text x="502.40" y="8.00" textLength="21.60" lengthAdjust="spacingAndGlyphs" class="lg">Nonflat</text>
<text x="526.10" y="8.00" textLength="9.20" lengthAdjust="spacingAndGlyphs" class="lg">TT</text>
<text x="535.80" y="8.00" textLength="5.40" lengthAdjust="spacingAndGlyphs" class="pl">+</text>
<text x="541.20" y="8.00" textLength="13.50" lengthAdjust="spacingAndGlyphs" class="lg">lowP</text>
<text x="555.30" y="8.00" textLength="5.40" lengthAdjust="spacingAndGlyphs" class="pl">+</text>
<text x="561.00" y="8.00" textLength="18.00" lengthAdjust="spacingAndGlyphs" class="lg">lensing</text>
<text x="579.40" y="8.00" textLength="5.10" lengthAdjust="spacingAndGlyphs" class="pl">+</text>
<text x="585.00" y="8.00" textLength="26.90" lengthAdjust="spacingAndGlyphs" class="lg">NewBAO</text>
<rect x="482.2" y="12.90" width="14.5" height="5.3" fill="#808080" fill-opacity="0.85"/>
<text x="502.40" y="18.00" textLength="21.60" lengthAdjust="spacingAndGlyphs" class="lg">Nonflat</text>
<text x="526.10" y="18.00" textLength="9.20" lengthAdjust="spacingAndGlyphs" class="lg">TT</text>
<text x="535.80" y="18.00" textLength="5.40" lengthAdjust="spacingAndGlyphs" class="pl">+</text>
<text x="541.20" y="18.00" textLength="13.50" lengthAdjust="spacingAndGlyphs" class="lg">lowP</text>
<text x="555.30" y="18.00" textLength="5.40" lengthAdjust="spacingAndGlyphs" class="pl">+</text>
<text x="561.00" y="18.00" textLength="18.00" lengthAdjust="spacingAndGlyphs" class="lg">lensing</text>
<text x="579.40" y="18.00" textLength="5.10" lengthAdjust="spacingAndGlyphs" class="pl">+</text>
<text x="585.00" y="18.00" textLength="26.90" lengthAdjust="spacingAndGlyphs" class="lg">NewBAO</text>
<text x="612.00" y="18.00" textLength="5.10" lengthAdjust="spacingAndGlyphs" class="pl">+</text>
<text x="617.30" y="18.00" textLength="2.80" lengthAdjust="spacingAndGlyphs" class="mi">f</text>
<text x="620.20" y="18.00" textLength="4.40" lengthAdjust="spacingAndGlyphs" class="mi">σ</text>
<text x="625.10" y="19.30" textLength="2.30" lengthAdjust="spacingAndGlyphs" class="sb">8</text>
<rect x="482.2" y="23.35" width="14.5" height="5.3" fill="#e03424" fill-opacity="0.85"/>
<text x="502.40" y="28.45" textLength="21.60" lengthAdjust="spacingAndGlyphs" class="lg">Nonflat</text>
<text x="526.10" y="28.45" textLength="9.20" lengthAdjust="spacingAndGlyphs" class="lg">TT</text>
<text x="535.80" y="28.45" textLength="5.40" lengthAdjust="spacingAndGlyphs" class="pl">+</text>
<text x="541.20" y="28.45" textLength="13.50" lengthAdjust="spacingAndGlyphs" class="lg">lowP</text>
<text x="555.30" y="28.45" textLength="5.40" lengthAdjust="spacingAndGlyphs" class="pl">+</text>
<text x="561.00" y="28.45" textLength="18.00" lengthAdjust="spacingAndGlyphs" class="lg">lensing</text>
<text x="579.40" y="28.45" textLength="5.10" lengthAdjust="spacingAndGlyphs" class="pl">+</text>
<text x="585.00" y="28.45" textLength="26.90" lengthAdjust="spacingAndGlyphs" class="lg">NewBAO</text>
<text x="612.00" y="28.45" textLength="5.10" lengthAdjust="spacingAndGlyphs" class="pl">+</text>
<text x="617.30" y="28.45" textLength="11.90" lengthAdjust="spacingAndGlyphs" class="lg">JLA</text>
<text x="629.20" y="28.45" textLength="5.10" lengthAdjust="spacingAndGlyphs" class="pl">+</text>
<text x="634.00" y="28.45" textLength="5.60" lengthAdjust="spacingAndGlyphs" class="mi">H</text>
<text x="640.20" y="28.45" textLength="1.70" lengthAdjust="spacingAndGlyphs" class="mr">(</text>
<text x="641.90" y="28.45" textLength="3.90" lengthAdjust="spacingAndGlyphs" class="mi">z</text>
<text x="646.30" y="28.45" textLength="2.20" lengthAdjust="spacingAndGlyphs" class="mr">)</text>
<rect x="482.2" y="34.40" width="14.5" height="5.3" fill="#006fed" fill-opacity="0.85"/>
<text x="502.40" y="39.50" textLength="21.60" lengthAdjust="spacingAndGlyphs" class="lg">Nonflat</text>
<text x="526.10" y="39.50" textLength="9.20" lengthAdjust="spacingAndGlyphs" class="lg">TT</text>
<text x="535.80" y="39.50" textLength="5.40" lengthAdjust="spacingAndGlyphs" class="pl">+</text>
<text x="541.20" y="39.50" textLength="13.50" lengthAdjust="spacingAndGlyphs" class="lg">lowP</text>
<text x="555.30" y="39.50" textLength="5.40" lengthAdjust="spacingAndGlyphs" class="pl">+</text>
<text x="561.00" y="39.50" textLength="18.00" lengthAdjust="spacingAndGlyphs" class="lg">lensing</text>
<text x="579.40" y="39.50" textLength="5.10" lengthAdjust="spacingAndGlyphs" class="pl">+</text>
<text x="585.00" y="39.50" textLength="26.90" lengthAdjust="spacingAndGlyphs" class="lg">NewBAO</text>
<text x="612.00" y="39.50" textLength="5.10" lengthAdjust="spacingAndGlyphs" class="pl">+</text>
<text x="617.30" y="39.50" textLength="11.90" lengthAdjust="spacingAndGlyphs" class="lg">JLA</text>
<text x="629.20" y="39.50" textLength="5.10" lengthAdjust="spacingAndGlyphs" class="pl">+</text>
<text x="634.00" y="39.50" textLength="5.60" lengthAdjust="spacingAndGlyphs" class="mi">H</text>
<text x="640.20" y="39.50" textLength="1.70" lengthAdjust="spacingAndGlyphs" class="mr">(</text>
<text x="641.90" y="39.50" textLength="3.90" lengthAdjust="spacingAndGlyphs" class="mi">z</text>
<text x="646.30" y="39.50" textLength="2.20" lengthAdjust="spacingAndGlyphs" class="mr">)</text>
<text x="649.30" y="39.50" textLength="5.10" lengthAdjust="spacingAndGlyphs" class="pl">+</text>
<text x="654.60" y="39.50" textLength="2.80" lengthAdjust="spacingAndGlyphs" class="mi">f</text>
<text x="657.50" y="39.50" textLength="4.40" lengthAdjust="spacingAndGlyphs" class="mi">σ</text>
<text x="662.40" y="40.80" textLength="2.30" lengthAdjust="spacingAndGlyphs" class="sb">8</text>
</svg>
</body></html>
